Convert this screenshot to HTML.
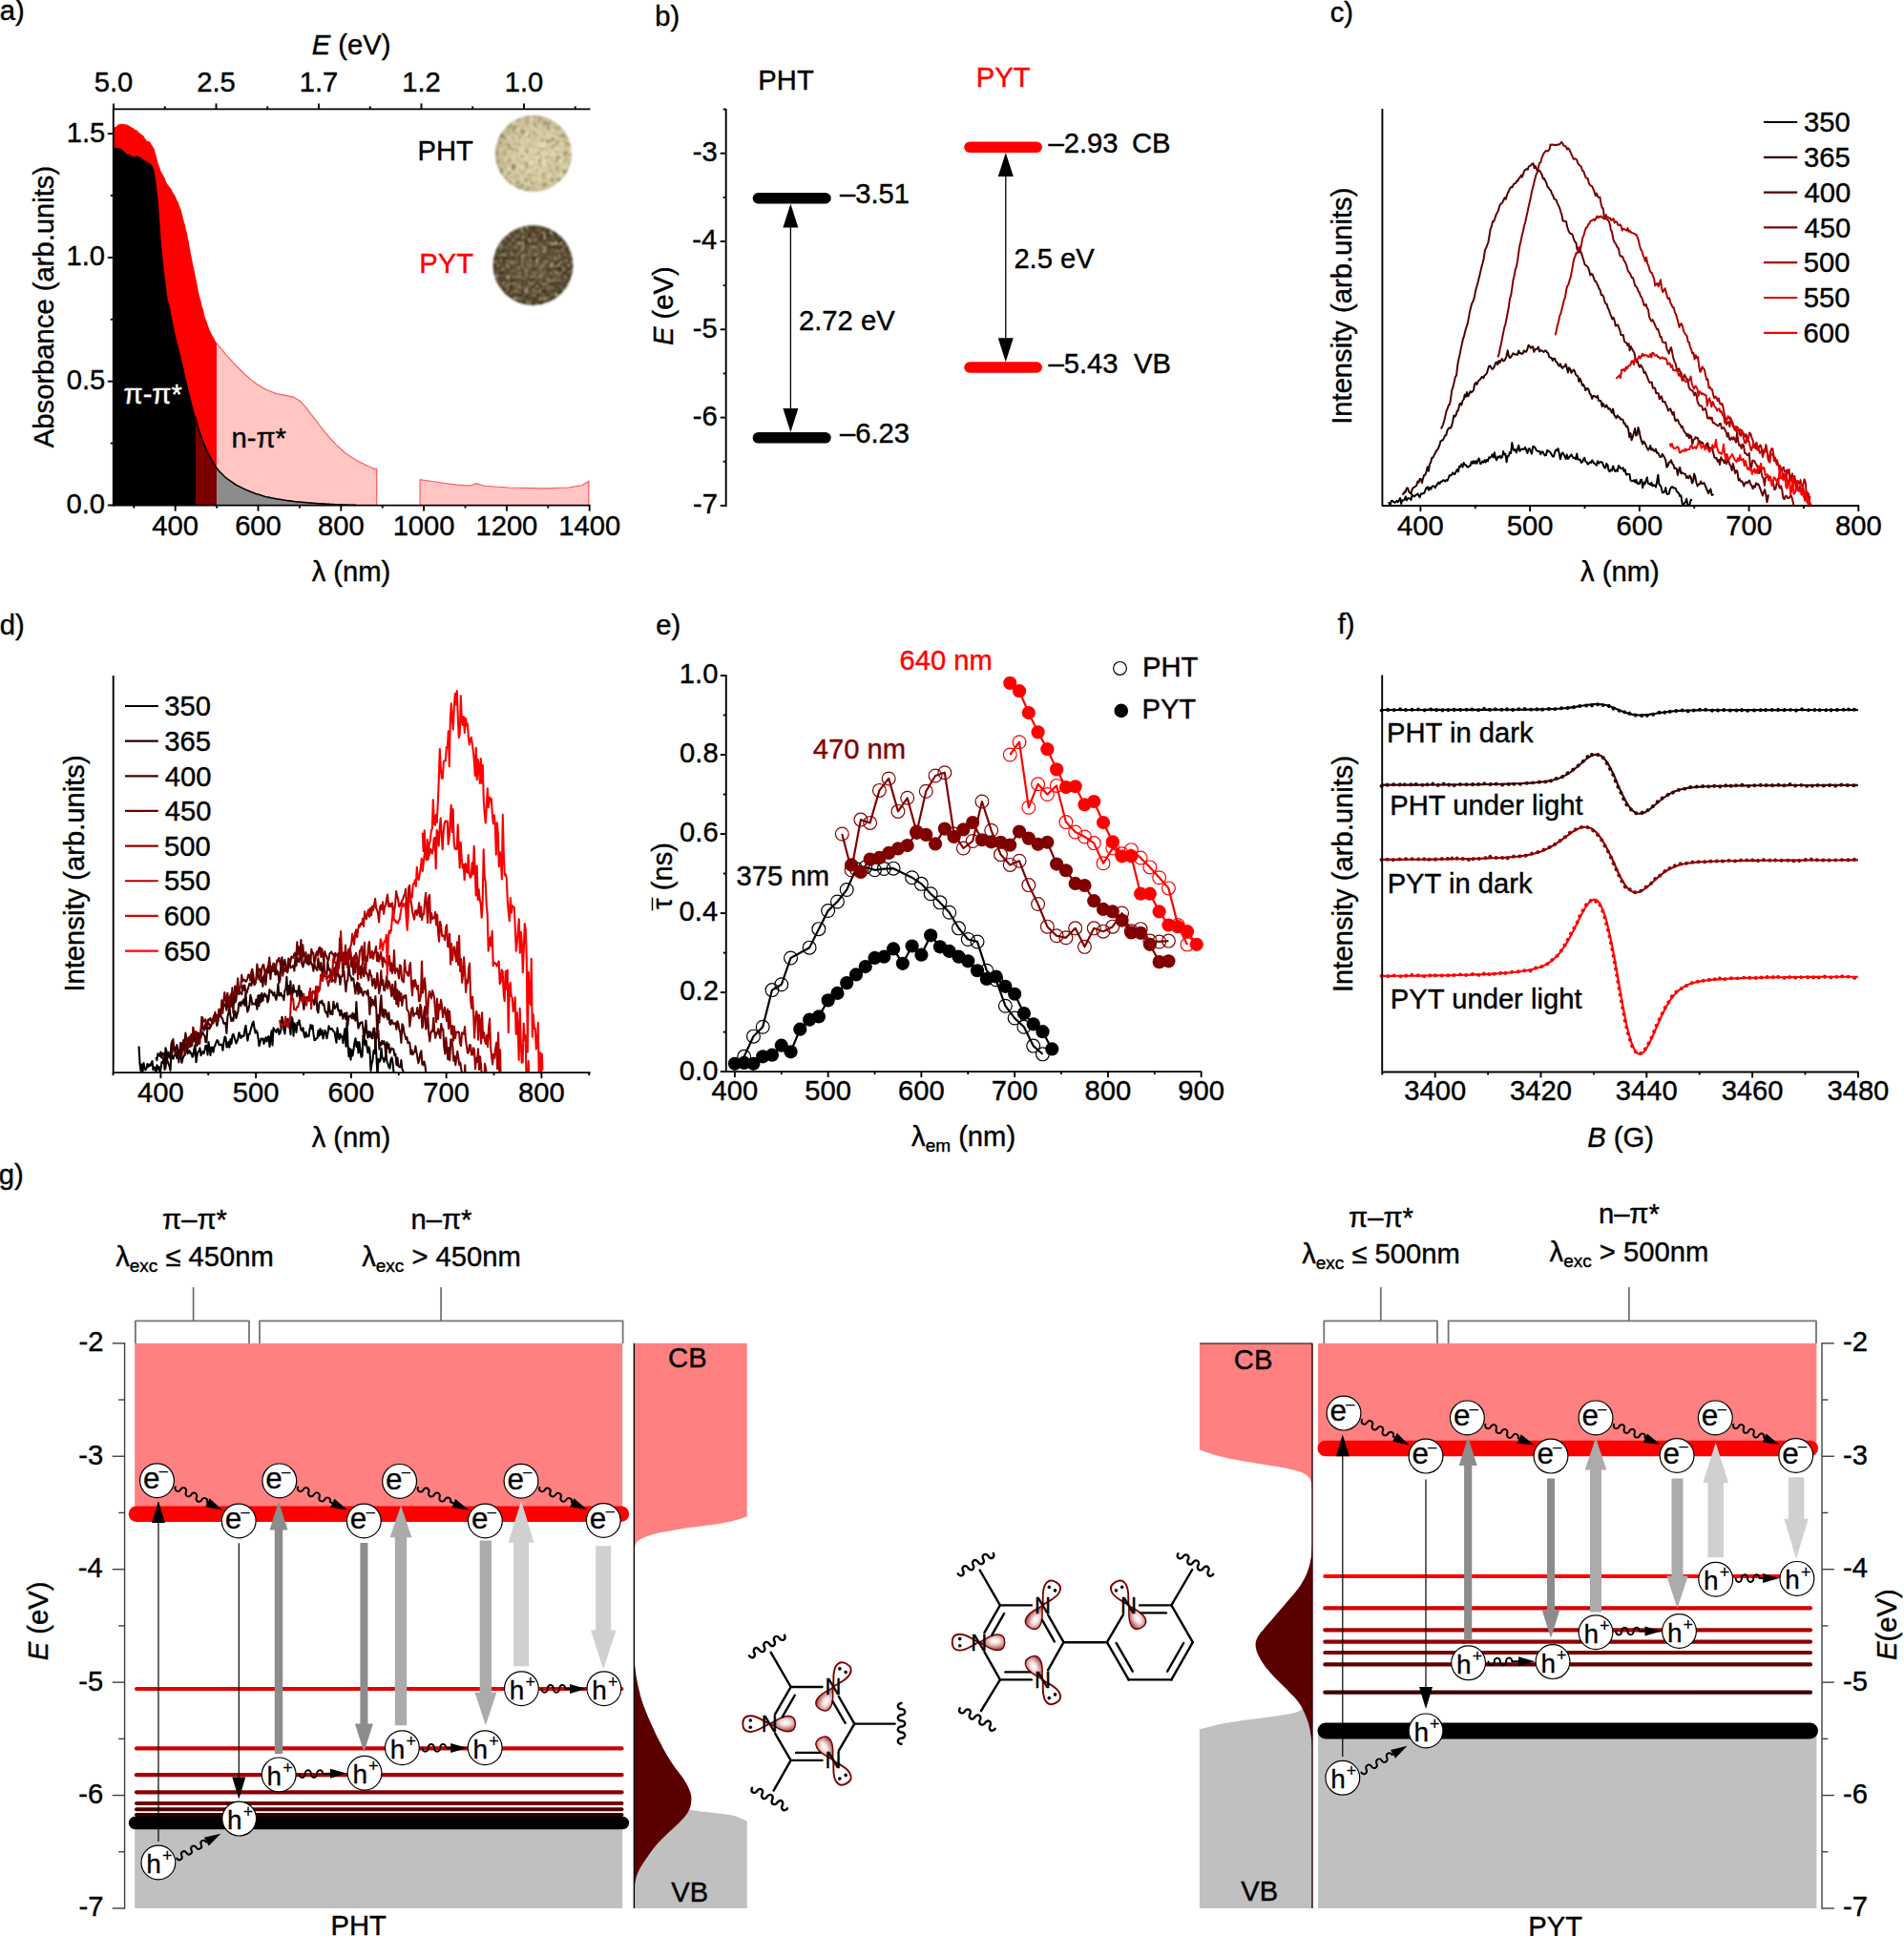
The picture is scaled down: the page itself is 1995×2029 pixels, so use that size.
<!DOCTYPE html>
<html><head><meta charset="utf-8"><title>Figure</title>
<style>html,body{margin:0;padding:0;background:#fff}svg{display:block}text{font-family:'Liberation Sans',sans-serif;stroke-width:0.4px}</style>
</head><body>
<svg width="1995" height="2029" viewBox="0 0 1995 2029">
<defs>
<radialGradient id="gpht" cx="0.55" cy="0.52" r="0.55"><stop offset="0" stop-color="#d9cea2"/><stop offset="0.7" stop-color="#cdc193"/><stop offset="0.92" stop-color="#bdb084"/><stop offset="1" stop-color="#a89c72"/></radialGradient>
<radialGradient id="gpyt" cx="0.5" cy="0.5" r="0.55"><stop offset="0" stop-color="#6a5a3c"/><stop offset="0.8" stop-color="#58482d"/><stop offset="1" stop-color="#3e3019"/></radialGradient>
<filter id="fpht" x="-10%" y="-10%" width="120%" height="120%" color-interpolation-filters="sRGB">
<feTurbulence type="fractalNoise" baseFrequency="0.22" numOctaves="3" seed="4" result="n"/>
<feColorMatrix in="n" type="matrix" values="0.55 0.32 0 0 0.10  0.55 0.32 0 0 0.10  0.55 0.32 0 0 0.10  0 0 0 0 1" result="g"/>
<feComponentTransfer in="g" result="g2"><feFuncR type="linear" slope="1" intercept="0"/></feComponentTransfer>
<feBlend in="SourceGraphic" in2="g2" mode="overlay" result="b"/>
<feComposite in="b" in2="SourceGraphic" operator="in" result="c"/>
<feGaussianBlur in="c" stdDeviation="1.0"/>
</filter>
<filter id="fpyt" x="-10%" y="-10%" width="120%" height="120%" color-interpolation-filters="sRGB">
<feTurbulence type="fractalNoise" baseFrequency="0.26" numOctaves="3" seed="11" result="n"/>
<feColorMatrix in="n" type="matrix" values="0.62 0.36 0 0 0.02  0.62 0.36 0 0 0.02  0.62 0.36 0 0 0.02  0 0 0 0 1" result="g"/>
<feComponentTransfer in="g" result="g2"><feFuncR type="linear" slope="1" intercept="0"/></feComponentTransfer>
<feBlend in="SourceGraphic" in2="g2" mode="overlay" result="b"/>
<feComposite in="b" in2="SourceGraphic" operator="in" result="c"/>
<feGaussianBlur in="c" stdDeviation="1.0"/>
</filter>

<radialGradient id="lobeg" cx="0.62" cy="0.42" r="0.62"><stop offset="0" stop-color="#ffffff"/><stop offset="0.3" stop-color="#f4e0e0"/><stop offset="0.7" stop-color="#c27878"/><stop offset="1" stop-color="#861f1f"/></radialGradient>
</defs>
<rect width="1995" height="2029" fill="#fff"/>
<g id="pa">
<path d="M118.8,529.6 L118.8,133.8 L119.8,133.5 L120.8,132.8 L121.8,132.4 L122.8,131.8 L123.8,130.7 L124.8,130 L125.8,130.5 L126.8,129.8 L127.8,129.6 L128.8,130.2 L129.8,129.7 L130.8,130.4 L131.8,130.3 L132.8,130.8 L133.8,130.7 L134.8,131.5 L135.8,132.2 L136.8,132.5 L137.8,133.4 L138.8,134 L139.8,134.1 L140.8,135.4 L141.8,135.9 L142.8,136.3 L143.8,136.8 L144.8,138.4 L145.8,138.7 L146.8,139.7 L147.8,140.6 L148.8,141.2 L149.8,142.2 L150.8,142.8 L151.8,144.9 L152.8,146.3 L153.8,147.6 L154.8,148.2 L155.8,148 L156.8,148.7 L157.8,149.4 L158.8,151.8 L159.8,153.1 L160.8,155.1 L161.8,156.6 L162.8,160.5 L163.8,164.1 L164.8,167.7 L165.8,171.4 L166.8,174.2 L167.8,177.3 L168.8,179.8 L169.8,181.7 L170.8,183.3 L171.8,185.1 L172.8,187 L173.8,189.9 L174.8,192 L175.8,193.6 L176.8,195 L177.8,196.1 L178.8,197.6 L179.8,198.7 L180.8,201.1 L181.8,202.7 L182.8,204.2 L183.8,205.8 L184.8,208.4 L185.8,210.4 L186.8,212.1 L187.8,215.5 L188.8,217.8 L189.8,220.5 L190.8,224.3 L191.8,228.5 L192.8,232.2 L193.8,235.4 L194.8,240.3 L195.8,244.1 L196.8,249.1 L197.8,253.8 L198.8,259.7 L199.8,265.1 L200.8,269.9 L201.8,275.5 L202.8,279.8 L203.8,284.5 L204.8,290.1 L205.8,294.5 L206.8,299.6 L207.8,304.9 L208.8,309.7 L209.8,313.2 L210.8,317.1 L211.8,321.9 L212.8,323.4 L213.8,328.7 L214.8,332.8 L215.8,335 L216.8,337.9 L217.8,340.8 L218.8,343.7 L219.8,346.4 L220.8,348.2 L221.8,350.1 L222.8,352.3 L223.8,353.8 L224.8,355.5 L225.8,357.7 L226.8,359.1 L227.1,359.7 L227.1,529.6Z" fill="#ff0000" stroke="none" stroke-width="1" />
<path d="M227.1,529.6 L227.1,359.9 L228.6,361.7 L230.1,363.5 L231.6,365.4 L233.1,367.2 L234.6,369 L236.1,370.9 L237.6,372.6 L239.1,374.2 L240.6,375.9 L242.1,377.5 L243.6,379.2 L245.1,380.8 L246.6,382.5 L248.1,384 L249.6,385.5 L251.1,387 L252.6,388.5 L254.1,390 L255.6,391.5 L257.1,393 L258.6,394.3 L260.1,395.5 L261.6,396.7 L263.1,397.9 L264.6,399.1 L266.1,400.3 L267.6,401.5 L269.1,402.5 L270.6,403.4 L272.1,404.3 L273.6,405.2 L275.1,406.1 L276.6,407 L278.1,407.9 L279.6,408.6 L281.1,409.2 L282.6,409.8 L284.1,410.4 L285.6,411 L287.1,411.6 L288.6,412.2 L290.1,412.6 L291.6,412.9 L293.1,413.2 L294.6,413.5 L296.1,413.8 L297.6,414.1 L299.1,414.4 L300.6,414.7 L302.1,415 L303.6,415.3 L305.1,415.6 L306.6,415.9 L308.1,416.6 L309.6,417.5 L311.1,418.3 L312.6,419.2 L314.1,420.1 L315.6,421.6 L317.1,423.3 L318.6,424.9 L320.1,426.6 L321.6,428.4 L323.1,430.4 L324.6,432.3 L326.1,434.3 L327.6,436.2 L329.1,438.2 L330.6,440.1 L332.1,442.1 L333.6,444 L335.1,446 L336.6,447.9 L338.1,449.9 L339.6,451.8 L341.1,453.8 L342.6,455.5 L344.1,457.2 L345.6,458.8 L347.1,460.5 L348.6,462.1 L350.1,463.8 L351.6,465.4 L353.1,466.9 L354.6,468.2 L356.1,469.6 L357.6,470.9 L359.1,472.3 L360.6,473.6 L362.1,475 L363.6,476.1 L365.1,477.1 L366.6,478.1 L368.1,479 L369.6,480 L371.1,481 L372.6,482 L374.1,482.8 L375.6,483.6 L377.1,484.3 L378.6,485.1 L380.1,485.8 L381.6,486.6 L383.1,487.3 L384.6,488 L386.1,488.7 L387.6,489.3 L389.1,490 L390.6,490.6 L392.1,492.1 L393.6,490.9 L394.7,491.6 L394.7,529.6Z" fill="#ffc6c4" stroke="none" stroke-width="1" />
<path d="M227.1,359.9 L228.6,361.7 L230.1,363.5 L231.6,365.4 L233.1,367.2 L234.6,369 L236.1,370.9 L237.6,372.6 L239.1,374.2 L240.6,375.9 L242.1,377.5 L243.6,379.2 L245.1,380.8 L246.6,382.5 L248.1,384 L249.6,385.5 L251.1,387 L252.6,388.5 L254.1,390 L255.6,391.5 L257.1,393 L258.6,394.3 L260.1,395.5 L261.6,396.7 L263.1,397.9 L264.6,399.1 L266.1,400.3 L267.6,401.5 L269.1,402.5 L270.6,403.4 L272.1,404.3 L273.6,405.2 L275.1,406.1 L276.6,407 L278.1,407.9 L279.6,408.6 L281.1,409.2 L282.6,409.8 L284.1,410.4 L285.6,411 L287.1,411.6 L288.6,412.2 L290.1,412.6 L291.6,412.9 L293.1,413.2 L294.6,413.5 L296.1,413.8 L297.6,414.1 L299.1,414.4 L300.6,414.7 L302.1,415 L303.6,415.3 L305.1,415.6 L306.6,415.9 L308.1,416.6 L309.6,417.5 L311.1,418.3 L312.6,419.2 L314.1,420.1 L315.6,421.6 L317.1,423.3 L318.6,424.9 L320.1,426.6 L321.6,428.4 L323.1,430.4 L324.6,432.3 L326.1,434.3 L327.6,436.2 L329.1,438.2 L330.6,440.1 L332.1,442.1 L333.6,444 L335.1,446 L336.6,447.9 L338.1,449.9 L339.6,451.8 L341.1,453.8 L342.6,455.5 L344.1,457.2 L345.6,458.8 L347.1,460.5 L348.6,462.1 L350.1,463.8 L351.6,465.4 L353.1,466.9 L354.6,468.2 L356.1,469.6 L357.6,470.9 L359.1,472.3 L360.6,473.6 L362.1,475 L363.6,476.1 L365.1,477.1 L366.6,478.1 L368.1,479 L369.6,480 L371.1,481 L372.6,482 L374.1,482.8 L375.6,483.6 L377.1,484.3 L378.6,485.1 L380.1,485.8 L381.6,486.6 L383.1,487.3 L384.6,488 L386.1,488.7 L387.6,489.3 L389.1,490 L390.6,490.6 L392.1,492.1 L393.6,490.9 L394.7,491.6 L394.7,529.6" fill="none" stroke="#ff5a5a" stroke-width="1.2" />
<path d="M440.1,529.6 L440.1,502.6 L459.6,505.5 L477.9,508.1 L492.6,509.2 L498.9,506.6 L507.4,509.2 L533.1,511 L569.9,511.8 L595.6,511 L610.3,508.5 L616.9,504.4 L616.9,529.6Z" fill="#ffc6c4" stroke="none" stroke-width="1" />
<path d="M440.1,529.6 L440.1,502.6 L459.6,505.5 L477.9,508.1 L492.6,509.2 L498.9,506.6 L507.4,509.2 L533.1,511 L569.9,511.8 L595.6,511 L610.3,508.5 L616.9,504.4 L616.9,529.6" fill="none" stroke="#ff5a5a" stroke-width="1.2" />
<path d="M118.8,529.6 L118.8,155.5 L119.8,155.1 L120.8,155.1 L121.8,154.7 L122.8,155 L123.8,155.2 L124.8,154.7 L125.8,155.2 L126.8,156 L127.8,156.4 L128.8,157.8 L129.8,158.5 L130.8,159.6 L131.8,160.2 L132.8,161.3 L133.8,161.8 L134.8,161.6 L135.8,162 L136.8,163 L137.8,163.6 L138.8,163.4 L139.8,164 L140.8,164.3 L141.8,163.9 L142.8,163.7 L143.8,163.6 L144.8,164 L145.8,164.5 L146.8,164.6 L147.8,165.2 L148.8,166.4 L149.8,166.6 L150.8,167.7 L151.8,168.4 L152.8,168.7 L153.8,169.2 L154.8,170.2 L155.8,170.4 L156.8,170.9 L157.8,171.7 L158.8,173.3 L159.8,174.4 L160.8,176.2 L161.8,180.7 L162.8,187.1 L163.8,194.4 L164.8,202.7 L165.8,211.7 L166.8,225.8 L167.8,239.4 L168.8,252.7 L169.8,263.7 L170.8,274.3 L171.8,282.7 L172.8,291.5 L173.8,299.4 L174.8,307.9 L175.8,315.1 L176.8,317.8 L177.8,321.2 L178.8,326.8 L179.8,331.9 L180.8,337.2 L181.8,342 L182.8,347.1 L183.8,351.4 L184.8,355.8 L185.8,359.4 L186.8,363.5 L187.8,367.5 L188.8,371.5 L189.8,375.5 L190.8,380.1 L191.8,383.8 L192.8,388 L193.8,393.1 L194.8,397.4 L195.8,401.8 L196.8,405.6 L197.8,410 L198.8,414 L199.8,417.5 L200.8,421.9 L201.8,426 L202.8,429.8 L203.8,433.7 L204.8,437.5 L205.4,440 L205.4,529.6Z" fill="#000" stroke="none" stroke-width="1" />
<path d="M205.4,529.6 L205.4,440.1 L206.4,444.1 L207.4,447.8 L208.4,450.8 L209.4,453.8 L210.4,456.8 L211.4,459.8 L212.4,462.1 L213.4,464.5 L214.4,466.8 L215.4,469.1 L216.4,471.5 L217.4,473.8 L218.4,475.8 L219.4,477.6 L220.4,479.4 L221.4,481.3 L222.4,483.1 L223.4,484.9 L224.4,486.6 L225.4,488.1 L226.4,489.6 L227.1,490.6 L227.1,529.6Z" fill="#7c0000" stroke="none" stroke-width="1" />
<path d="M227.1,529.6 L227.1,490.6 L229.1,493.2 L231.1,495.2 L233.1,497.2 L235.1,499.2 L237.1,501 L239.1,502.4 L241.1,503.8 L243.1,505.2 L245.1,506.6 L247.1,508 L249.1,509 L251.1,510 L253.1,511 L255.1,512 L257.1,513 L259.1,513.9 L261.1,514.7 L263.1,515.5 L265.1,516.3 L267.1,517.1 L269.1,517.7 L271.1,518.3 L273.1,518.9 L275.1,519.5 L277.1,520.1 L279.1,520.7 L281.1,521.1 L283.1,521.5 L285.1,521.9 L287.1,522.3 L289.1,522.7 L291.1,523 L293.1,523.3 L295.1,523.7 L297.1,524 L299.1,524.3 L301.1,524.6 L303.1,524.9 L305.1,525.1 L307.1,525.4 L309.1,525.7 L311.1,525.9 L313.1,526.1 L315.1,526.2 L317.1,526.4 L319.1,526.6 L321.1,526.7 L323.1,526.9 L325.1,527 L327.1,527.2 L329.1,527.4 L331.1,527.5 L333.1,527.6 L335.1,527.8 L337.1,527.9 L339.1,528 L341.1,528.1 L343.1,528.2 L345.1,528.4 L347.1,528.5 L349.1,528.6 L351.1,528.7 L353.1,528.8 L355.1,528.9 L357.1,528.9 L359.1,529 L361.1,529.1 L363.1,529.1 L365.1,529.2 L367.1,529.2 L369.1,529.3 L371.1,529.4 L373.1,529.4 L373.1,529.4 L373.1,529.6Z" fill="#8c8c8c" stroke="none" stroke-width="1" />
<path d="M204.4,436.1 L205.9,442.1 L207.4,447.8 L208.9,452.3 L210.4,456.8 L211.9,461 L213.4,464.5 L214.9,468 L216.4,471.5 L217.9,474.8 L219.4,477.6 L220.9,480.3 L222.4,483.1 L223.9,485.8 L225.4,488.1 L226.9,490.3 L228.4,492.5 L229.9,494 L231.4,495.5 L232.9,497 L234.4,498.5 L235.9,500 L237.4,501.2 L238.9,502.3 L240.4,503.3 L241.9,504.4 L243.4,505.4 L244.9,506.5 L246.4,507.5 L247.9,508.4 L249.4,509.2 L250.9,509.9 L252.4,510.7 L253.9,511.4 L255.4,512.2 L256.9,512.9 L258.4,513.6 L259.9,514.2 L261.4,514.8 L262.9,515.4 L264.4,516 L265.9,516.6 L267.4,517.2 L268.9,517.7 L270.4,518.1 L271.9,518.6 L273.4,519 L274.9,519.5 L276.4,519.9 L277.9,520.4 L279.4,520.8 L280.9,521.1 L282.4,521.4 L283.9,521.7 L285.4,522 L286.9,522.3 L288.4,522.6 L289.9,522.8 L291.4,523.1 L292.9,523.3 L294.4,523.5 L295.9,523.8 L297.4,524 L298.9,524.3 L300.4,524.5 L301.9,524.7 L303.4,524.9 L304.9,525.1 L306.4,525.3 L307.9,525.5 L309.4,525.7 L310.9,525.9 L312.4,526 L313.9,526.1 L315.4,526.3 L316.9,526.4 L318.4,526.5 L319.9,526.6 L321.4,526.7 L322.9,526.9 L324.4,527 L325.9,527.1 L327.4,527.2 L328.9,527.3 L330.4,527.5 L331.9,527.6 L333.4,527.7 L334.9,527.7 L336.4,527.8 L337.9,527.9 L339.4,528 L340.9,528.1 L342.4,528.2 L343.9,528.3 L345.4,528.4 L346.9,528.5 L348.4,528.6 L349.9,528.6 L351.4,528.7 L352.9,528.8 L354.4,528.9 L355.9,528.9 L357.4,528.9 L358.9,529 L360.4,529 L361.9,529.1 L363.4,529.1 L364.9,529.2 L366.4,529.2 L367.9,529.3 L369.4,529.3 L370.9,529.3 L372.4,529.4 L373.1,529.4" fill="none" stroke="#000" stroke-width="1.6" />
<line x1="118.8" y1="113.6" x2="118.8" y2="530.4" stroke="#000" stroke-width="1.9" />
<line x1="118.8" y1="529.6" x2="618.5" y2="529.6" stroke="#000" stroke-width="1.9" />
<line x1="118.8" y1="114.4" x2="618.5" y2="114.4" stroke="#000" stroke-width="1.9" />
<line x1="183.7" y1="529.6" x2="183.7" y2="535.6" stroke="#000" stroke-width="1.9" />
<text x="183.7" y="560.5" font-size="29.2" text-anchor="middle" fill="#000" stroke="#000" >400</text>
<line x1="270.5" y1="529.6" x2="270.5" y2="535.6" stroke="#000" stroke-width="1.9" />
<text x="270.5" y="560.5" font-size="29.2" text-anchor="middle" fill="#000" stroke="#000" >600</text>
<line x1="357.3" y1="529.6" x2="357.3" y2="535.6" stroke="#000" stroke-width="1.9" />
<text x="357.3" y="560.5" font-size="29.2" text-anchor="middle" fill="#000" stroke="#000" >800</text>
<line x1="444.1" y1="529.6" x2="444.1" y2="535.6" stroke="#000" stroke-width="1.9" />
<text x="444.1" y="560.5" font-size="29.2" text-anchor="middle" fill="#000" stroke="#000" >1000</text>
<line x1="530.9" y1="529.6" x2="530.9" y2="535.6" stroke="#000" stroke-width="1.9" />
<text x="530.9" y="560.5" font-size="29.2" text-anchor="middle" fill="#000" stroke="#000" >1200</text>
<line x1="617.7" y1="529.6" x2="617.7" y2="535.6" stroke="#000" stroke-width="1.9" />
<text x="617.7" y="560.5" font-size="29.2" text-anchor="middle" fill="#000" stroke="#000" >1400</text>
<line x1="140.3" y1="529.6" x2="140.3" y2="532.6" stroke="#000" stroke-width="1.9" />
<line x1="227.1" y1="529.6" x2="227.1" y2="532.6" stroke="#000" stroke-width="1.9" />
<line x1="313.9" y1="529.6" x2="313.9" y2="532.6" stroke="#000" stroke-width="1.9" />
<line x1="400.7" y1="529.6" x2="400.7" y2="532.6" stroke="#000" stroke-width="1.9" />
<line x1="487.5" y1="529.6" x2="487.5" y2="532.6" stroke="#000" stroke-width="1.9" />
<line x1="574.3" y1="529.6" x2="574.3" y2="532.6" stroke="#000" stroke-width="1.9" />
<line x1="119" y1="114.4" x2="119" y2="108.4" stroke="#000" stroke-width="1.9" />
<text x="119" y="95.6" font-size="29.2" text-anchor="middle" fill="#000" stroke="#000" >5.0</text>
<line x1="172.75" y1="114.4" x2="172.75" y2="111.4" stroke="#000" stroke-width="1.9" />
<line x1="226.5" y1="114.4" x2="226.5" y2="108.4" stroke="#000" stroke-width="1.9" />
<text x="226.5" y="95.6" font-size="29.2" text-anchor="middle" fill="#000" stroke="#000" >2.5</text>
<line x1="280.25" y1="114.4" x2="280.25" y2="111.4" stroke="#000" stroke-width="1.9" />
<line x1="334" y1="114.4" x2="334" y2="108.4" stroke="#000" stroke-width="1.9" />
<text x="334" y="95.6" font-size="29.2" text-anchor="middle" fill="#000" stroke="#000" >1.7</text>
<line x1="387.75" y1="114.4" x2="387.75" y2="111.4" stroke="#000" stroke-width="1.9" />
<line x1="441.5" y1="114.4" x2="441.5" y2="108.4" stroke="#000" stroke-width="1.9" />
<text x="441.5" y="95.6" font-size="29.2" text-anchor="middle" fill="#000" stroke="#000" >1.2</text>
<line x1="495.25" y1="114.4" x2="495.25" y2="111.4" stroke="#000" stroke-width="1.9" />
<line x1="549" y1="114.4" x2="549" y2="108.4" stroke="#000" stroke-width="1.9" />
<text x="549" y="95.6" font-size="29.2" text-anchor="middle" fill="#000" stroke="#000" >1.0</text>
<line x1="602.75" y1="114.4" x2="602.75" y2="111.4" stroke="#000" stroke-width="1.9" />
<line x1="118.8" y1="529.5" x2="112.8" y2="529.5" stroke="#000" stroke-width="1.9" />
<text x="110.11" y="537.9" font-size="29.2" text-anchor="end" fill="#000" stroke="#000" >0.0</text>
<line x1="118.8" y1="399.7" x2="112.8" y2="399.7" stroke="#000" stroke-width="1.9" />
<text x="110.36" y="408.1" font-size="29.2" text-anchor="end" fill="#000" stroke="#000" >0.5</text>
<line x1="118.8" y1="269.9" x2="112.8" y2="269.9" stroke="#000" stroke-width="1.9" />
<text x="110.11" y="278.3" font-size="29.2" text-anchor="end" fill="#000" stroke="#000" >1.0</text>
<line x1="118.8" y1="140.1" x2="112.8" y2="140.1" stroke="#000" stroke-width="1.9" />
<text x="110.36" y="148.5" font-size="29.2" text-anchor="end" fill="#000" stroke="#000" >1.5</text>
<line x1="118.8" y1="464.6" x2="115.8" y2="464.6" stroke="#000" stroke-width="1.9" />
<line x1="118.8" y1="334.8" x2="115.8" y2="334.8" stroke="#000" stroke-width="1.9" />
<line x1="118.8" y1="205" x2="115.8" y2="205" stroke="#000" stroke-width="1.9" />
<text x="368" y="57" font-size="29.2" text-anchor="middle" fill="#000" stroke="#000" ><tspan font-style="italic">E</tspan> (eV)</text>
<text x="368" y="609" font-size="29.2" text-anchor="middle" fill="#000" stroke="#000" >λ (nm)</text>
<text x="55.5" y="321.5" font-size="29.2" text-anchor="middle" fill="#000" stroke="#000" transform="rotate(-90 55.5 321.5)" >Absorbance (arb.units)</text>
<text x="129.5" y="422.8" font-size="29.2" text-anchor="start" fill="#fff" stroke="#fff" >π-π*</text>
<text x="242.5" y="468.8" font-size="29.2" text-anchor="start" fill="#000" stroke="#000" >n-π*</text>
<text x="437.45" y="168" font-size="29.2" text-anchor="start" fill="#000" stroke="#000" >PHT</text>
<text x="439.35" y="286.3" font-size="29.2" text-anchor="start" fill="#ff0000" stroke="#ff0000" >PYT</text>
<circle cx="559" cy="161" r="40" fill="url(#gpht)" filter="url(#fpht)"/>
<circle cx="558.5" cy="278" r="42" fill="url(#gpyt)" filter="url(#fpyt)"/>
<text x="-0.25" y="20.6" font-size="29.2" text-anchor="start" fill="#000" stroke="#000" >a)</text>
</g>
<g id="pb">
<line x1="760.7" y1="114" x2="760.7" y2="530.9" stroke="#000" stroke-width="1.9" />
<line x1="760.7" y1="160.7" x2="754.7" y2="160.7" stroke="#000" stroke-width="1.9" />
<text x="751.76" y="169.1" font-size="29.2" text-anchor="end" fill="#000" stroke="#000" >-3</text>
<line x1="760.7" y1="253" x2="754.7" y2="253" stroke="#000" stroke-width="1.9" />
<text x="751.26" y="261.4" font-size="29.2" text-anchor="end" fill="#000" stroke="#000" >-4</text>
<line x1="760.7" y1="345.3" x2="754.7" y2="345.3" stroke="#000" stroke-width="1.9" />
<text x="751.76" y="353.7" font-size="29.2" text-anchor="end" fill="#000" stroke="#000" >-5</text>
<line x1="760.7" y1="437.6" x2="754.7" y2="437.6" stroke="#000" stroke-width="1.9" />
<text x="751.76" y="446" font-size="29.2" text-anchor="end" fill="#000" stroke="#000" >-6</text>
<line x1="760.7" y1="529.9" x2="754.7" y2="529.9" stroke="#000" stroke-width="1.9" />
<text x="752.01" y="538.3" font-size="29.2" text-anchor="end" fill="#000" stroke="#000" >-7</text>
<line x1="760.7" y1="114.55" x2="757.7" y2="114.55" stroke="#000" stroke-width="1.9" />
<line x1="760.7" y1="206.85" x2="757.7" y2="206.85" stroke="#000" stroke-width="1.9" />
<line x1="760.7" y1="299.15" x2="757.7" y2="299.15" stroke="#000" stroke-width="1.9" />
<line x1="760.7" y1="391.45" x2="757.7" y2="391.45" stroke="#000" stroke-width="1.9" />
<line x1="760.7" y1="483.75" x2="757.7" y2="483.75" stroke="#000" stroke-width="1.9" />
<text x="705" y="320.7" font-size="29.2" text-anchor="middle" fill="#000" stroke="#000" transform="rotate(-90 705 320.7)" ><tspan font-style="italic">E</tspan> (eV)</text>
<line x1="794.4" y1="207.77" x2="865" y2="207.77" stroke="#000" stroke-width="11.5" stroke-linecap="round"/>
<line x1="794.4" y1="458.83" x2="865" y2="458.83" stroke="#000" stroke-width="11.5" stroke-linecap="round"/>
<line x1="1016" y1="154.24" x2="1086.2" y2="154.24" stroke="#f00" stroke-width="11.5" stroke-linecap="round"/>
<line x1="1016" y1="384.99" x2="1086.2" y2="384.99" stroke="#f00" stroke-width="11.5" stroke-linecap="round"/>
<line x1="828.4" y1="223.47" x2="828.4" y2="443.13" stroke="#000" stroke-width="1.3" />
<path d="M828.4,213.5 L820.4,238.5 L836.4,238.5Z" fill="#000" stroke="none" stroke-width="1" />
<path d="M828.4,453.1 L820.4,428.1 L836.4,428.1Z" fill="#000" stroke="none" stroke-width="1" />
<line x1="1053.8" y1="169.94" x2="1053.8" y2="369.29" stroke="#000" stroke-width="1.3" />
<path d="M1053.8,159.9 L1045.8,184.9 L1061.8,184.9Z" fill="#000" stroke="none" stroke-width="1" />
<path d="M1053.8,379.3 L1045.8,354.3 L1061.8,354.3Z" fill="#000" stroke="none" stroke-width="1" />
<text x="794.35" y="93.9" font-size="29.2" text-anchor="start" fill="#000" stroke="#000" >PHT</text>
<text x="1022.75" y="91.4" font-size="29.2" text-anchor="start" fill="#f00" stroke="#f00" >PYT</text>
<text x="880" y="212.7" font-size="29.2" text-anchor="start" fill="#000" stroke="#000" >–3.51</text>
<text x="880" y="463.9" font-size="29.2" text-anchor="start" fill="#000" stroke="#000" >–6.23</text>
<text x="1098.5" y="160.1" font-size="29.2" text-anchor="start" fill="#000" stroke="#000" >–2.93</text>
<text x="1185.9" y="160.1" font-size="29.2" text-anchor="start" fill="#000" stroke="#000" >CB</text>
<text x="1098.5" y="390.8" font-size="29.2" text-anchor="start" fill="#000" stroke="#000" >–5.43</text>
<text x="1188" y="390.8" font-size="29.2" text-anchor="start" fill="#000" stroke="#000" >VB</text>
<text x="837" y="345.7" font-size="29.2" text-anchor="start" fill="#000" stroke="#000" >2.72 eV</text>
<text x="1062.4" y="280.5" font-size="29.2" text-anchor="start" fill="#000" stroke="#000" >2.5 eV</text>
<text x="686.25" y="27" font-size="29.2" text-anchor="start" fill="#000" stroke="#000" >b)</text>
</g>
<g id="pc">
<clipPath id="clipc"><rect x="1448.4" y="114" width="498.9" height="416"/></clipPath>
<g clip-path="url(#clipc)" fill="none" stroke-linejoin="round">
<path d="M1454.4,527.2 L1455.5,527.1 L1456.7,529 L1457.8,525 L1459,524.8 L1460.1,525.9 L1461.3,526.8 L1462.4,526.3 L1463.6,524.8 L1464.7,526.1 L1465.9,524.3 L1467,522 L1468.2,528.1 L1469.3,524.1 L1470.5,524.6 L1471.6,523.6 L1472.8,520.4 L1473.9,524.6 L1475.1,522.3 L1476.2,522.2 L1477.4,522.4 L1478.5,523.9 L1479.7,518.5 L1480.8,519.7 L1482,520.5 L1483.1,519.1 L1484.3,518.4 L1485.4,517.4 L1486.6,519.6 L1487.7,521.2 L1488.9,517.4 L1490,517.6 L1491.2,517 L1492.3,516.8 L1493.5,513.5 L1494.6,511.3 L1495.8,510.3 L1496.9,513.6 L1498.1,511 L1499.2,512.8 L1500.4,510 L1501.5,509.3 L1502.7,509.6 L1503.8,511.3 L1505,508.8 L1506.1,507.5 L1507.3,505.5 L1508.4,507 L1509.6,504.8 L1510.7,504.8 L1511.9,503.3 L1513,503.5 L1514.2,504.6 L1515.3,503 L1516.5,503.8 L1517.6,501.4 L1518.8,498.1 L1519.9,498.4 L1521.1,497.4 L1522.2,495.4 L1523.4,496.7 L1524.5,497 L1525.7,494 L1526.8,492 L1528,494.4 L1529.1,488.7 L1530.3,489 L1531.4,486.5 L1532.6,489.6 L1533.7,485 L1534.9,487.2 L1536,487.2 L1537.2,489.2 L1538.3,489.7 L1539.5,488.3 L1540.6,488 L1541.8,483.8 L1542.9,485.8 L1544.1,483.1 L1545.2,485.6 L1546.4,483.2 L1547.5,485.8 L1548.7,481.6 L1549.8,480.4 L1551,486 L1552.1,485.7 L1553.3,483.5 L1554.4,484.6 L1555.6,482.1 L1556.7,484.5 L1557.9,482 L1559,483.2 L1560.2,479.3 L1561.3,479.9 L1562.5,478.6 L1563.6,476.3 L1564.8,479.4 L1565.9,474.2 L1567.1,480.3 L1568.2,482.2 L1569.4,478.6 L1570.5,479.4 L1571.7,477.8 L1572.8,480 L1574,479.1 L1575.1,473.1 L1576.3,476.4 L1577.4,475.8 L1578.6,484.3 L1579.7,478 L1580.9,477.7 L1582,473.9 L1583.2,474.9 L1584.3,464.1 L1585.5,470.5 L1586.6,472.2 L1587.8,471.1 L1588.9,474.3 L1590.1,470.5 L1591.2,466.8 L1592.4,472.7 L1593.5,471.5 L1594.7,470.4 L1595.8,470.7 L1597,470.7 L1598.1,468.8 L1599.3,472.2 L1600.4,474.9 L1601.6,470.5 L1602.7,470.1 L1603.9,473.4 L1605,475.6 L1606.2,467.9 L1607.3,467.8 L1608.5,469.3 L1609.6,471.5 L1610.8,472.8 L1611.9,472.9 L1613.1,472.7 L1614.2,476.1 L1615.4,473.6 L1616.5,473.5 L1617.7,475.8 L1618.8,477.4 L1620,477 L1621.1,472 L1622.3,472.5 L1623.4,473.5 L1624.6,474.2 L1625.7,476.3 L1626.9,478.4 L1628,478.6 L1629.2,474 L1630.3,471.5 L1631.5,472.1 L1632.6,470.1 L1633.8,475.4 L1634.9,481.3 L1636.1,476.2 L1637.2,474.3 L1638.4,476 L1639.5,478.2 L1640.7,480.9 L1641.8,476.4 L1643,480.9 L1644.1,479.2 L1645.3,478.1 L1646.4,476.3 L1647.6,478.5 L1648.7,480.1 L1649.9,479.7 L1651,481.3 L1652.2,475.4 L1653.3,481.6 L1654.5,481.8 L1655.6,481.5 L1656.8,484.8 L1657.9,484.4 L1659.1,481.5 L1660.2,479.7 L1661.4,483.8 L1662.5,484.1 L1663.7,486.7 L1664.8,485.5 L1666,484.1 L1667.1,485 L1668.3,482.3 L1669.4,484.5 L1670.6,485.8 L1671.7,486.6 L1672.9,487.7 L1674,483.2 L1675.2,485.6 L1676.3,484.3 L1677.5,484.3 L1678.6,484.3 L1679.8,487.2 L1680.9,489.9 L1682.1,490.5 L1683.2,486 L1684.4,487 L1685.5,493 L1686.7,494.2 L1687.8,492.3 L1689,493.1 L1690.1,488.4 L1691.3,491.9 L1692.4,494 L1693.6,492.5 L1694.7,494 L1695.9,488.1 L1697,489.3 L1698.2,490.8 L1699.3,491.3 L1700.5,490.1 L1701.6,494.1 L1702.8,492.2 L1703.9,497.5 L1705.1,497.1 L1706.2,497 L1707.4,497.1 L1708.5,503.4 L1709.7,504.3 L1710.8,504.1 L1712,503.2 L1713.1,505.4 L1714.3,502.7 L1715.4,506.8 L1716.6,506.2 L1717.7,507.2 L1718.9,503.2 L1720,502.6 L1721.2,511.2 L1722.3,505.7 L1723.5,507.4 L1724.6,503.6 L1725.8,500.4 L1726.9,506.8 L1728.1,507 L1729.2,508 L1730.4,505.7 L1731.5,509.6 L1732.7,508.3 L1733.8,508.6 L1735,510.6 L1736.1,505 L1737.3,497.7 L1738.4,507.3 L1739.6,508.8 L1740.7,511 L1741.9,516.4 L1743,516.1 L1744.2,515.4 L1745.3,511.1 L1746.5,517.6 L1747.6,518 L1748.8,517.3 L1749.9,512.8 L1751.1,510.9 L1752.2,510.1 L1753.4,511.4 L1754.5,511.3 L1755.7,511.8 L1756.8,515 L1758,515.9 L1759.1,517.2 L1760.3,520 L1761.4,519.3 L1762.6,527.4 L1763.7,529.7 L1764.9,527.6 L1766,526.2 L1767.2,522.8 L1768.3,529 L1769.5,531 L1770.6,527.8 L1771.8,523.6 L1772.4,525.1" fill="none" stroke="#000000" stroke-width="2" />
<path d="M1469.3,517.2 L1470.4,518 L1471.6,515.3 L1472.7,515.7 L1473.9,511.4 L1475,511.4 L1476.2,515.1 L1477.3,516.8 L1478.5,517.4 L1479.6,512.8 L1480.8,511.2 L1481.9,510.3 L1483.1,509.8 L1484.2,509 L1485.4,504.4 L1486.5,505.7 L1487.7,502.1 L1488.8,502.1 L1490,506 L1491.1,501.1 L1492.3,497.7 L1493.4,497.7 L1494.6,494 L1495.7,489.3 L1496.9,493.7 L1498,486.5 L1499.2,484.5 L1500.3,479.8 L1501.5,479.6 L1502.6,477.1 L1503.8,475.1 L1504.9,472.5 L1506.1,471.4 L1507.2,469.5 L1508.4,466.1 L1509.5,462.4 L1510.7,461.6 L1511.8,461.4 L1513,458.9 L1514.1,456.5 L1515.3,456 L1516.4,451.3 L1517.6,449.2 L1518.7,448.2 L1519.9,448.8 L1521,446.5 L1522.2,441.8 L1523.3,435.5 L1524.5,436.6 L1525.6,434.9 L1526.8,430.6 L1527.9,430.1 L1529.1,424.6 L1530.2,422.6 L1531.4,424.5 L1532.5,420 L1533.7,418.5 L1534.8,413.5 L1536,415.9 L1537.1,411 L1538.3,415.4 L1539.4,413 L1540.6,410.1 L1541.7,411.3 L1542.9,410.3 L1544,408.9 L1545.2,402.4 L1546.3,401.1 L1547.5,402.9 L1548.6,400.2 L1549.8,398.5 L1550.9,397.8 L1552.1,395.8 L1553.2,394.8 L1554.4,396.3 L1555.5,393.5 L1556.7,392.7 L1557.8,391.4 L1559,387.2 L1560.1,383.8 L1561.3,383.3 L1562.4,385.4 L1563.6,387 L1564.7,386 L1565.9,384 L1567,380.3 L1568.2,379.5 L1569.3,382.1 L1570.5,377.9 L1571.6,379.9 L1572.8,377.5 L1573.9,376.1 L1575.1,378.4 L1576.2,377.9 L1577.4,375.9 L1578.5,373.4 L1579.7,367.3 L1580.8,372.6 L1582,375.2 L1583.1,374.1 L1584.3,372.4 L1585.4,370.3 L1586.6,371.2 L1587.7,371.6 L1588.9,371.5 L1590,371.9 L1591.2,367.4 L1592.3,370.2 L1593.5,370.1 L1594.6,370.9 L1595.8,370.3 L1596.9,367.4 L1598.1,368.5 L1599.2,368.7 L1600.4,366 L1601.5,361.7 L1602.7,362.8 L1603.8,364.8 L1605,363.6 L1606.1,363.2 L1607.3,368.8 L1608.4,366.1 L1609.6,366.2 L1610.7,365.6 L1611.9,363.5 L1613,368.4 L1614.2,367.1 L1615.3,367.5 L1616.5,368.2 L1617.6,369 L1618.8,367.5 L1619.9,367.4 L1621.1,369.4 L1622.2,370.2 L1623.4,374.4 L1624.5,374.7 L1625.7,375.2 L1626.8,378 L1628,375.7 L1629.1,375.8 L1630.3,379.1 L1631.4,379.7 L1632.6,382.3 L1633.7,383.7 L1634.9,381.3 L1636,384.3 L1637.2,386 L1638.3,384.2 L1639.5,384.1 L1640.6,381.6 L1641.8,385.6 L1642.9,390.5 L1644.1,385.3 L1645.2,386.6 L1646.4,390.8 L1647.5,389.1 L1648.7,387.5 L1649.8,388.6 L1651,392.4 L1652.1,393.8 L1653.3,394.1 L1654.4,400 L1655.6,396.8 L1656.7,399.6 L1657.9,404.1 L1659,402.7 L1660.2,405.3 L1661.3,409.1 L1662.5,407.2 L1663.6,407 L1664.8,408.9 L1665.9,412.8 L1667.1,414 L1668.2,417.9 L1669.4,414.8 L1670.5,414.9 L1671.7,415.8 L1672.8,416.7 L1674,414.9 L1675.1,420.1 L1676.3,420 L1677.4,420.1 L1678.6,426.1 L1679.7,422.9 L1680.9,425.3 L1682,426.8 L1683.2,424.5 L1684.3,426.5 L1685.5,428.7 L1686.6,428 L1687.8,430.1 L1688.9,432.6 L1690.1,428.6 L1691.2,434.4 L1692.4,436.7 L1693.5,438.2 L1694.7,435.4 L1695.8,437 L1697,437.5 L1698.1,439.5 L1699.3,439.4 L1700.4,439.8 L1701.6,443.9 L1702.7,443.7 L1703.9,447.3 L1705,446.6 L1706.2,449.9 L1707.3,458.2 L1708.5,454.1 L1709.6,461.3 L1710.8,457.7 L1711.9,453.8 L1713.1,449 L1714.2,456.5 L1715.4,455.7 L1716.5,447.9 L1717.7,452.3 L1718.8,458.4 L1720,462.2 L1721.1,465.4 L1722.3,462.6 L1723.4,464.1 L1724.6,466.9 L1725.7,469.4 L1726.9,471.6 L1728,470.4 L1729.2,467 L1730.3,471.5 L1731.5,470.2 L1732.6,472.4 L1733.8,472.9 L1734.9,470.5 L1736.1,474.7 L1737.2,474.4 L1738.4,477 L1739.5,478.9 L1740.7,478.8 L1741.8,475.9 L1743,477.8 L1744.1,479.7 L1745.3,482.3 L1746.4,489.7 L1747.6,488.1 L1748.7,484.5 L1749.9,484.6 L1751,482.3 L1752.2,485.9 L1753.3,486.8 L1754.5,491 L1755.6,490.6 L1756.8,491.4 L1757.9,497.8 L1759.1,492.3 L1760.2,489.8 L1761.4,496.3 L1762.5,495.3 L1763.7,496.2 L1764.8,496.5 L1766,497.1 L1767.1,501 L1768.3,499.3 L1769.4,501.2 L1770.6,498.4 L1771.7,500.2 L1772.9,506.4 L1774,504.8 L1775.2,496.5 L1776.3,499.9 L1777.5,506 L1778.6,509.5 L1779.8,507.6 L1780.9,507.4 L1782.1,504.5 L1783.2,507 L1784.4,506.8 L1785.5,506 L1786.7,509 L1787.8,511.5 L1789,514.4 L1790.1,517 L1791.3,514.1 L1792.4,512.5 L1793.6,518.9 L1794.7,518.6 L1795.5,518" fill="none" stroke="#2b0000" stroke-width="2" />
<path d="M1509.9,449.5 L1511.1,447 L1512.2,444.6 L1513.4,440.2 L1514.5,435.4 L1515.7,430.2 L1516.8,427.9 L1518,424.4 L1519.1,423.6 L1520.3,416.2 L1521.4,408.6 L1522.6,405.2 L1523.7,400.4 L1524.9,394.9 L1526,393.6 L1527.2,383.1 L1528.3,377 L1529.5,371.9 L1530.6,366.1 L1531.8,360.8 L1532.9,355.3 L1534.1,352.2 L1535.2,347.2 L1536.4,343 L1537.5,340.1 L1538.7,334.1 L1539.8,327.9 L1541,322.5 L1542.1,318.4 L1543.3,316 L1544.4,313.3 L1545.6,307.5 L1546.7,302.3 L1547.9,298.5 L1549,294.1 L1550.2,289.2 L1551.3,284.6 L1552.5,279.3 L1553.6,275.5 L1554.8,270.5 L1555.9,262.2 L1557.1,259.9 L1558.2,257 L1559.4,254 L1560.5,247.5 L1561.7,239.9 L1562.8,237.6 L1564,232 L1565.1,232.2 L1566.3,229.1 L1567.4,225.6 L1568.6,223 L1569.7,221.5 L1570.9,217 L1572,213.8 L1573.2,213.3 L1574.3,212.2 L1575.5,209.5 L1576.6,207.2 L1577.8,208.7 L1578.9,204.8 L1580.1,201.7 L1581.2,199.7 L1582.4,197 L1583.5,196.1 L1584.7,196.2 L1585.8,193.3 L1587,192.4 L1588.1,192 L1589.3,189.6 L1590.4,189.7 L1591.6,186.7 L1592.7,186.1 L1593.9,183.6 L1595,185.4 L1596.2,181.8 L1597.3,178.7 L1598.5,177.9 L1599.6,177.1 L1600.8,177.7 L1601.9,174.3 L1603.1,173.8 L1604.2,173.2 L1605.4,171.7 L1606.5,171.3 L1607.7,176.3 L1608.8,174 L1610,177.1 L1611.1,179.9 L1612.3,178.6 L1613.4,179 L1614.6,181.3 L1615.7,183.1 L1616.9,187.5 L1618,186.9 L1619.2,189.5 L1620.3,191.4 L1621.5,195.9 L1622.6,196.6 L1623.8,198.8 L1624.9,199.7 L1626.1,203.1 L1627.2,204.6 L1628.4,208.4 L1629.5,208.7 L1630.7,209.7 L1631.8,213.1 L1633,215.4 L1634.1,217.8 L1635.3,221.7 L1636.4,225 L1637.6,231.5 L1638.7,231.7 L1639.9,231.8 L1641,232.1 L1642.2,238 L1643.3,241.2 L1644.5,243.8 L1645.6,244.9 L1646.8,245 L1647.9,246.7 L1649.1,250.9 L1650.2,253.3 L1651.4,254.4 L1652.5,261.3 L1653.7,260.7 L1654.8,264.4 L1656,263.1 L1657.1,265.9 L1658.3,269.5 L1659.4,273.1 L1660.6,277.4 L1661.7,278.1 L1662.9,279 L1664,280.4 L1665.2,283.7 L1666.3,288.5 L1667.5,286.9 L1668.6,287.7 L1669.8,290.9 L1670.9,294.5 L1672.1,294.8 L1673.2,297.2 L1674.4,299.4 L1675.5,302.6 L1676.7,304.2 L1677.8,309.2 L1679,308.9 L1680.1,310.7 L1681.3,315.2 L1682.4,318.5 L1683.6,318.4 L1684.7,322.7 L1685.9,324.8 L1687,328.6 L1688.2,331.1 L1689.3,334.5 L1690.5,332.7 L1691.6,335.6 L1692.8,341.5 L1693.9,341 L1695.1,340.3 L1696.2,343.3 L1697.4,346.5 L1698.5,351.2 L1699.7,350.9 L1700.8,351.2 L1702,357.8 L1703.1,358.9 L1704.3,359.3 L1705.4,362.1 L1706.6,360.2 L1707.7,367.3 L1708.9,363.1 L1710,365.6 L1711.2,367.8 L1712.3,369.5 L1713.5,375 L1714.6,379.5 L1715.8,378.4 L1716.9,382.7 L1718.1,384.8 L1719.2,382.4 L1720.4,384.5 L1721.5,386.6 L1722.7,390.9 L1723.8,389.7 L1725,392.6 L1726.1,395.4 L1727.3,398.7 L1728.4,400.9 L1729.6,400.7 L1730.7,400.4 L1731.9,406.7 L1733,406.4 L1734.2,407 L1735.3,412.2 L1736.5,411.9 L1737.6,412.3 L1738.8,418.3 L1739.9,415.7 L1741.1,415.5 L1742.2,421 L1743.4,421.2 L1744.5,421 L1745.7,424.4 L1746.8,426.4 L1748,430.6 L1749.1,428.9 L1750.3,428.4 L1751.4,431.7 L1752.6,434.5 L1753.7,431.7 L1754.9,439.9 L1756,441.3 L1757.2,439.6 L1758.3,440.6 L1759.5,444.2 L1760.6,445.1 L1761.8,448.1 L1762.9,446.9 L1764.1,451.1 L1765.2,452.6 L1766.4,454.3 L1767.5,456.9 L1768.7,454.8 L1769.8,459.3 L1771,456.1 L1772.1,457.5 L1773.3,465.3 L1774.4,461 L1775.6,460.2 L1776.7,458.1 L1777.9,459.3 L1779,459 L1780.2,464.7 L1781.3,462.3 L1782.5,464.7 L1783.6,463.6 L1784.8,465.8 L1785.9,468.5 L1787.1,469.4 L1788.2,465.1 L1789.4,464.4 L1790.5,471.4 L1791.7,469.2 L1792.8,470.8 L1794,469.6 L1795.1,474.2 L1796.3,478.9 L1797.4,480.4 L1798.6,479.8 L1799.7,483.7 L1800.9,481.8 L1802,487.1 L1803.2,479.3 L1804.3,481.6 L1805.5,482.4 L1806.6,485.2 L1807.8,481.7 L1808.9,486.3 L1810.1,482 L1811.2,483.5 L1812.4,486.9 L1813.5,488.5 L1814.7,493 L1815.8,485.9 L1817,490.6 L1818.1,496.1 L1819.3,493.1 L1820.4,493.8 L1821.6,503.4 L1822.7,501.8 L1823.9,504.4 L1825,504.2 L1826.2,506.1 L1827.3,509.5 L1828.5,506.2 L1829.6,505.1 L1830.8,506.5 L1831.9,504.7 L1833.1,503.5 L1834.2,507.5 L1835.4,508.7 L1836.5,512.3 L1837.7,509.2 L1838.8,510.8 L1840,506.3 L1841.1,508 L1842.3,507.2 L1843.4,509.4 L1844.6,512.9 L1845.7,516 L1846.9,519.5 L1848,515.8 L1849.2,513.1 L1850.3,518.6 L1851.5,526.3 L1852.6,520.8 L1852.7,518.2" fill="none" stroke="#550000" stroke-width="2" />
<path d="M1569.4,374.4 L1570.6,371.2 L1571.7,365.3 L1572.9,360.4 L1574,354.5 L1575.2,348.4 L1576.3,343.1 L1577.5,339.2 L1578.6,333.8 L1579.8,327.2 L1580.9,321.5 L1582.1,312.7 L1583.2,309.6 L1584.4,301.7 L1585.5,293.5 L1586.7,288.8 L1587.8,282.3 L1589,279.1 L1590.1,272.9 L1591.3,264.1 L1592.4,257.2 L1593.6,252.3 L1594.7,246.9 L1595.9,242.3 L1597,236.8 L1598.2,232.8 L1599.3,227.5 L1600.5,222.2 L1601.6,216.8 L1602.8,211.7 L1603.9,206.8 L1605.1,200.4 L1606.2,196.2 L1607.4,191.5 L1608.5,186.7 L1609.7,182.4 L1610.8,180.7 L1612,174.8 L1613.1,170.8 L1614.3,170.4 L1615.4,165.6 L1616.6,162.9 L1617.7,160.4 L1618.9,159.1 L1620,158 L1621.2,158.2 L1622.3,158.2 L1623.5,156.5 L1624.6,151.5 L1625.8,151.9 L1626.9,151.4 L1628.1,152 L1629.2,152.1 L1630.4,151.8 L1631.5,152 L1632.7,151.3 L1633.8,151.5 L1635,150.5 L1636.1,148.9 L1637.3,150.1 L1638.4,152.7 L1639.6,153.1 L1640.7,153.5 L1641.9,156.5 L1643,155.3 L1644.2,156.3 L1645.3,159 L1646.5,161.4 L1647.6,164.1 L1648.8,166.8 L1649.9,166.4 L1651.1,166.4 L1652.2,167.8 L1653.4,171.1 L1654.5,172.8 L1655.7,173.7 L1656.8,174.7 L1658,178.7 L1659.1,179.1 L1660.3,182.6 L1661.4,185.7 L1662.6,186.9 L1663.7,186.9 L1664.9,192.3 L1666,194 L1667.2,194.9 L1668.3,195.3 L1669.5,198.3 L1670.6,201.1 L1671.8,205.2 L1672.9,202.6 L1674.1,205.9 L1675.2,206.9 L1676.4,206.6 L1677.5,213.5 L1678.7,217.8 L1679.8,218.4 L1681,229.6 L1682.1,227.8 L1683.3,229.1 L1684.4,230.8 L1685.6,231.3 L1686.7,234.8 L1687.9,241.1 L1689,243 L1690.2,249.8 L1691.3,253.4 L1692.5,254.8 L1693.6,256.8 L1694.8,259.5 L1695.9,260.2 L1697.1,267.1 L1698.2,268.7 L1699.4,268.4 L1700.5,269.9 L1701.7,273.2 L1702.8,274.6 L1704,277.3 L1705.1,281.6 L1706.3,284.8 L1707.4,285.8 L1708.6,287.9 L1709.7,291 L1710.9,290.9 L1712,294.4 L1713.2,299.3 L1714.3,300.3 L1715.5,301.9 L1716.6,305.4 L1717.8,306.3 L1718.9,310.3 L1720.1,311.6 L1721.2,314.5 L1722.4,319.2 L1723.5,320.4 L1724.7,318.8 L1725.8,322.8 L1727,324.6 L1728.1,331.8 L1729.3,335 L1730.4,336.7 L1731.6,335.1 L1732.7,337.3 L1733.9,340 L1735,342.7 L1736.2,345.3 L1737.3,344.9 L1738.5,349.1 L1739.6,353.2 L1740.8,353.1 L1741.9,358.4 L1743.1,358.9 L1744.2,359.2 L1745.4,358.8 L1746.5,365.7 L1747.7,368.3 L1748.8,370.6 L1750,365.7 L1751.1,364.1 L1752.3,370.1 L1753.4,375.7 L1754.6,379.1 L1755.7,381.3 L1756.9,386.6 L1758,387 L1759.2,386.3 L1760.3,389.3 L1761.5,390.7 L1762.6,398.8 L1763.8,396.2 L1764.9,392.4 L1766.1,394.8 L1767.2,397.6 L1768.4,397.5 L1769.5,405.4 L1770.7,407.7 L1771.8,409.1 L1773,409.3 L1774.1,410.5 L1775.3,414.4 L1776.4,411.6 L1777.6,414.7 L1778.7,421.2 L1779.9,423.7 L1781,425.5 L1782.2,425.1 L1783.3,426 L1784.5,429.9 L1785.6,429.2 L1786.8,427.9 L1787.9,431.5 L1789.1,438.2 L1790.2,438.5 L1791.4,437.2 L1792.5,439.4 L1793.7,437.6 L1794.8,443.2 L1796,443.1 L1797.1,444.3 L1798.3,444.9 L1799.4,446.2 L1800.6,446.3 L1801.7,444.1 L1802.9,443.9 L1804,449.2 L1805.2,448.6 L1806.3,448 L1807.5,450.8 L1808.6,452.7 L1809.8,457.8 L1810.9,454 L1812.1,460.3 L1813.2,460.9 L1814.4,458.5 L1815.5,460.4 L1816.7,458.2 L1817.8,460.9 L1819,463.6 L1820.1,453.2 L1821.3,463 L1822.4,467 L1823.6,466.2 L1824.7,470.1 L1825.9,465.4 L1827,466.8 L1828.2,475 L1829.3,475 L1830.5,476.9 L1831.6,477.3 L1832.8,475 L1833.9,489.6 L1835.1,490.1 L1836.2,483 L1837.4,482.4 L1838.5,483.7 L1839.7,485.9 L1840.8,487.8 L1842,490.6 L1843.1,496.1 L1844.3,491.5 L1845.4,494.6 L1846.6,499.9 L1847.7,501.2 L1848.9,508.8 L1850,500.5 L1851.2,499.8 L1852.3,499.6 L1853.5,499.1 L1854.6,501.3 L1855.8,505.2 L1856.9,504.7 L1858.1,506.5 L1859.2,513.1 L1860.4,512.5 L1861.5,507.6 L1862.7,501.7 L1863.8,508.7 L1865,511.7 L1866.1,509.2 L1867.3,514 L1868.4,521.9 L1869.6,523.2 L1870.7,520 L1871.9,519.8 L1873,522.1 L1874.2,521.9 L1875.3,521.1 L1876.5,518.9 L1877.6,521.8 L1878.8,526.3 L1879.8,531.5" fill="none" stroke="#800000" stroke-width="2" />
<path d="M1629.6,351.3 L1630.7,347 L1631.9,341 L1633,337.3 L1634.2,331.1 L1635.3,329 L1636.5,324 L1637.6,319.4 L1638.8,314.1 L1639.9,312.3 L1641.1,304 L1642.2,299.7 L1643.4,298.3 L1644.5,293.9 L1645.7,290.2 L1646.8,284.7 L1648,278.1 L1649.1,271.5 L1650.3,269.2 L1651.4,265.3 L1652.6,265.5 L1653.7,260.8 L1654.9,258.8 L1656,261.5 L1657.2,254.9 L1658.3,249.1 L1659.5,246.6 L1660.6,242.4 L1661.8,238.7 L1662.9,238.5 L1664.1,235.1 L1665.2,234.6 L1666.4,231.9 L1667.5,231.2 L1668.7,230.9 L1669.8,229.8 L1671,231 L1672.1,229 L1673.3,226.6 L1674.4,228.4 L1675.6,226.9 L1676.7,227.6 L1677.9,226.6 L1679,227.9 L1680.2,228.9 L1681.3,227 L1682.5,225 L1683.6,227.1 L1684.8,227.5 L1685.9,228.7 L1687.1,228.4 L1688.2,230.9 L1689.4,230.3 L1690.5,229.1 L1691.7,233.5 L1692.8,232.2 L1694,232.4 L1695.1,235.4 L1696.3,236 L1697.4,235.2 L1698.6,236.8 L1699.7,241.6 L1700.9,239.7 L1702,240.2 L1703.2,240.8 L1704.3,241.6 L1705.5,239.1 L1706.6,242.9 L1707.8,241.9 L1708.9,243.4 L1710.1,244.1 L1711.2,244.4 L1712.4,244.9 L1713.5,245.6 L1714.7,246.4 L1715.8,248.8 L1717,252.7 L1718.1,257.8 L1719.3,261.6 L1720.4,263.1 L1721.6,267.4 L1722.7,270.2 L1723.9,273.8 L1725,269.6 L1726.2,276.2 L1727.3,278.6 L1728.5,282.6 L1729.6,285.6 L1730.8,285.8 L1731.9,289.3 L1733.1,291.4 L1734.2,299.3 L1735.4,297.9 L1736.5,296.8 L1737.7,300.2 L1738.8,297 L1740,293.3 L1741.1,302.3 L1742.3,306.1 L1743.4,304.3 L1744.6,302.2 L1745.7,306 L1746.9,311.2 L1748,313.4 L1749.2,312.2 L1750.3,317.4 L1751.5,319.5 L1752.6,322.2 L1753.8,322.3 L1754.9,327.5 L1756.1,329.4 L1757.2,333.2 L1758.4,338 L1759.5,342.9 L1760.7,339.8 L1761.8,339.1 L1763,342.1 L1764.1,346.9 L1765.3,349.2 L1766.4,350.8 L1767.6,352.2 L1768.7,358.4 L1769.9,358.8 L1771,364 L1772.2,366.7 L1773.3,370.6 L1774.5,369.9 L1775.6,376.6 L1776.8,372.3 L1777.9,375.2 L1779.1,374.2 L1780.2,383.5 L1781.4,389.9 L1782.5,388.1 L1783.7,384.2 L1784.8,386 L1786,387.7 L1787.1,393.4 L1788.3,398.3 L1789.4,397.3 L1790.6,406.5 L1791.7,405.6 L1792.9,408 L1794,408.2 L1795.2,414.2 L1796.3,417.3 L1797.5,415.6 L1798.6,416.7 L1799.8,420.3 L1800.9,417.5 L1802.1,423 L1803.2,423.7 L1804.4,422.8 L1805.5,426.9 L1806.7,434.1 L1807.8,438.1 L1809,445.2 L1810.1,442.6 L1811.3,442.1 L1812.4,447.2 L1813.6,438.5 L1814.7,442.7 L1815.9,447.1 L1817,446.6 L1818.2,447.3 L1819.3,451.9 L1820.5,450.8 L1821.6,450.4 L1822.8,454.8 L1823.9,456.9 L1825.1,451 L1826.2,454.1 L1827.4,454.5 L1828.5,457.6 L1829.7,455.4 L1830.8,462.6 L1832,459 L1833.1,453.5 L1834.3,454.5 L1835.4,458.6 L1836.6,461.3 L1837.7,467.2 L1838.9,466.1 L1840,470.4 L1841.2,467.9 L1842.3,470 L1843.5,467.5 L1844.6,466.4 L1845.8,470.4 L1846.9,478.9 L1848.1,474.6 L1849.2,473.4 L1850.4,466.1 L1851.5,472 L1852.7,481.3 L1853.8,480.9 L1855,473.6 L1856.1,470.5 L1857.3,470 L1858.4,477.7 L1859.6,480.9 L1860.7,482.7 L1861.9,482.2 L1863,486.6 L1864.2,487.8 L1865.3,488.2 L1866.5,493.2 L1867.6,491.2 L1868.8,489.6 L1869.9,494.6 L1871.1,494 L1872.2,492.6 L1873.4,496.3 L1874.5,491.8 L1875.7,504.9 L1876.8,499.3 L1878,496.4 L1879.1,506.4 L1880.3,499 L1881.4,505.5 L1882.6,505.1 L1883.7,511 L1884.9,514.8 L1886,509.8 L1887.2,514.4 L1888.3,514.3 L1889.5,507.3 L1890.6,502.3 L1891.8,505.3 L1892.9,521.5 L1894.1,516.6 L1895.2,517.9 L1895.7,544.9" fill="none" stroke="#aa0000" stroke-width="2" />
<path d="M1693.4,396.9 L1694.5,395.6 L1695.7,394.7 L1696.8,393.3 L1698,396 L1699.1,387.4 L1700.3,388.2 L1701.4,386.9 L1702.6,388.9 L1703.7,384.6 L1704.9,386.4 L1706,384 L1707.2,382.8 L1708.3,382.7 L1709.5,378.6 L1710.6,378.2 L1711.8,382.2 L1712.9,376.1 L1714.1,377.9 L1715.2,377.3 L1716.4,375.6 L1717.5,373.2 L1718.7,375.4 L1719.8,373.5 L1721,370.7 L1722.1,372.9 L1723.3,371.9 L1724.4,372.3 L1725.6,372.5 L1726.7,373.8 L1727.9,374 L1729,371.2 L1730.2,374.4 L1731.3,369.8 L1732.5,370.2 L1733.6,372.1 L1734.8,372.8 L1735.9,372 L1737.1,374.3 L1738.2,374.1 L1739.4,375.8 L1740.5,375.6 L1741.7,374.3 L1742.8,375.4 L1744,376.1 L1745.1,375.4 L1746.3,377.3 L1747.4,382.1 L1748.6,380.5 L1749.7,380.8 L1750.9,384.9 L1752,382.8 L1753.2,388.1 L1754.3,388.3 L1755.5,387.7 L1756.6,388.9 L1757.8,388.1 L1758.9,393.8 L1760.1,391.8 L1761.2,395 L1762.4,395.5 L1763.5,395.6 L1764.7,398.6 L1765.8,399.7 L1767,400.2 L1768.1,398.7 L1769.3,399.3 L1770.4,397.9 L1771.6,394.6 L1772.7,402.2 L1773.9,405.1 L1775,407.6 L1776.2,404.7 L1777.3,405.4 L1778.5,407.9 L1779.6,415 L1780.8,410.3 L1781.9,411.2 L1783.1,413.1 L1784.2,412.3 L1785.4,413.5 L1786.5,414 L1787.7,414.2 L1788.8,425.4 L1790,419.5 L1791.1,417.3 L1792.3,421.8 L1793.4,426.4 L1794.6,421 L1795.7,423.4 L1796.9,426.5 L1798,427.3 L1799.2,430.5 L1800.3,429.2 L1801.5,428.4 L1802.6,431.9 L1803.8,431.2 L1804.9,435 L1806.1,436.3 L1807.2,443.2 L1808.4,441.6 L1809.5,439.7 L1810.7,436.1 L1811.8,438.4 L1813,437.4 L1814.1,443.1 L1815.3,441.9 L1816.4,447.3 L1817.6,450.6 L1818.7,448.9 L1819.9,447 L1821,448.6 L1822.2,451.5 L1823.3,449.9 L1824.5,452.3 L1825.6,452.7 L1826.8,458.3 L1827.9,463.6 L1829.1,464.4 L1830.2,459.3 L1831.4,462.6 L1832.5,462.3 L1833.7,467.9 L1834.8,472.1 L1836,469.2 L1837.1,465.2 L1838.3,469.1 L1839.4,464.9 L1840.6,463.8 L1841.7,471.8 L1842.9,470.6 L1844,474.9 L1845.2,473.4 L1846.3,472.9 L1847.5,473.5 L1848.6,470.9 L1849.8,473.2 L1850.9,471.7 L1852.1,476.6 L1853.2,483 L1854.4,484.6 L1855.5,475.8 L1856.7,476.4 L1857.8,474.9 L1859,483 L1860.1,479.7 L1861.3,485.9 L1862.4,487.4 L1863.6,487.5 L1864.7,493.4 L1865.9,490.6 L1867,491.4 L1868.2,501.3 L1869.3,496.7 L1870.5,502.7 L1871.6,495.2 L1872.8,505.8 L1873.9,505.7 L1875.1,501.9 L1876.2,501.1 L1877.4,503.5 L1878.5,500.1 L1879.7,503.8 L1880.8,503.3 L1882,513.4 L1883.1,503.9 L1884.3,504.4 L1885.4,507.6 L1886.6,503 L1887.7,509.3 L1888.9,509.1 L1890,514.4 L1891.2,524.6 L1892.3,517.5 L1893.5,515.6 L1894.6,518.1 L1895.8,527.8 L1896.4,519.6" fill="none" stroke="#d40000" stroke-width="2" />
<path d="M1749.6,464.6 L1750.7,467.8 L1751.9,465.1 L1753,468.6 L1754.2,470.3 L1755.3,469.6 L1756.5,469.5 L1757.6,468.1 L1758.8,469.5 L1759.9,474.5 L1761.1,474.3 L1762.2,472.6 L1763.4,471.9 L1764.5,473.1 L1765.7,470.4 L1766.8,472.4 L1768,470.9 L1769.1,471 L1770.3,470.9 L1771.4,467.5 L1772.6,466.9 L1773.7,470.3 L1774.9,469.1 L1776,468.2 L1777.2,470.2 L1778.3,467.5 L1779.5,463.5 L1780.6,464.6 L1781.8,466.8 L1782.9,469.6 L1784.1,467.4 L1785.2,466.1 L1786.4,471.4 L1787.5,468.7 L1788.7,469.5 L1789.8,470.8 L1791,473.6 L1792.1,472.3 L1793.3,469.7 L1794.4,466.3 L1795.6,469.3 L1796.7,468.9 L1797.9,460.8 L1799,468.8 L1800.2,472.3 L1801.3,474.8 L1802.5,474.2 L1803.6,475.9 L1804.8,473.9 L1805.9,465.6 L1807.1,474.8 L1808.2,482.7 L1809.4,475.8 L1810.5,480.1 L1811.7,481.8 L1812.8,479 L1814,477.8 L1815.1,475.9 L1816.3,479.2 L1817.4,481.4 L1818.6,483 L1819.7,483.9 L1820.9,480.4 L1822,482.9 L1823.2,477 L1824.3,482.2 L1825.5,482.2 L1826.6,480.8 L1827.8,488 L1828.9,483.1 L1830.1,488.1 L1831.2,492.1 L1832.4,490.3 L1833.5,492.6 L1834.7,491.1 L1835.8,496.9 L1837,493.2 L1838.1,491.3 L1839.3,495.9 L1840.4,492 L1841.6,495.7 L1842.7,488.6 L1843.9,491.3 L1845,485.7 L1846.2,492.4 L1847.3,490.1 L1848.5,490.3 L1849.6,498 L1850.8,497.3 L1851.9,497.2 L1853.1,503.4 L1854.2,499.4 L1855.4,500.3 L1856.5,508.9 L1857.7,504.8 L1858.8,500.3 L1860,501.3 L1861.1,503.8 L1862.3,504.9 L1863.4,506.9 L1864.6,491.2 L1865.7,501.2 L1866.9,500.2 L1868,502.8 L1869.2,502.6 L1870.3,499.3 L1871.5,511 L1872.6,511.6 L1873.8,503.8 L1874.9,502.6 L1876.1,517.9 L1877.2,514.4 L1878.4,500.5 L1879.5,517.7 L1880.7,516.4 L1881.8,513.4 L1883,514 L1884.1,511.5 L1885.3,514.5 L1886.4,512 L1887.6,518.5 L1888.7,514.9 L1889.9,521 L1891,516.2 L1892.2,516.3 L1893.3,526.2 L1894.5,527.9 L1895.6,530.8 L1896.8,527.2 L1897.7,529.5" fill="none" stroke="#ff0000" stroke-width="2" />
</g>
<line x1="1448.4" y1="114" x2="1448.4" y2="530.8" stroke="#000" stroke-width="1.9" />
<line x1="1448.4" y1="530" x2="1948.1" y2="530" stroke="#000" stroke-width="1.9" />
<line x1="1488.4" y1="530" x2="1488.4" y2="536" stroke="#000" stroke-width="1.9" />
<text x="1488.4" y="560.5" font-size="29.2" text-anchor="middle" fill="#000" stroke="#000" >400</text>
<line x1="1603.13" y1="530" x2="1603.13" y2="536" stroke="#000" stroke-width="1.9" />
<text x="1603.13" y="560.5" font-size="29.2" text-anchor="middle" fill="#000" stroke="#000" >500</text>
<line x1="1717.86" y1="530" x2="1717.86" y2="536" stroke="#000" stroke-width="1.9" />
<text x="1717.86" y="560.5" font-size="29.2" text-anchor="middle" fill="#000" stroke="#000" >600</text>
<line x1="1832.59" y1="530" x2="1832.59" y2="536" stroke="#000" stroke-width="1.9" />
<text x="1832.59" y="560.5" font-size="29.2" text-anchor="middle" fill="#000" stroke="#000" >700</text>
<line x1="1947.32" y1="530" x2="1947.32" y2="536" stroke="#000" stroke-width="1.9" />
<text x="1947.32" y="560.5" font-size="29.2" text-anchor="middle" fill="#000" stroke="#000" >800</text>
<line x1="1545.77" y1="530" x2="1545.77" y2="533" stroke="#000" stroke-width="1.9" />
<line x1="1660.5" y1="530" x2="1660.5" y2="533" stroke="#000" stroke-width="1.9" />
<line x1="1775.23" y1="530" x2="1775.23" y2="533" stroke="#000" stroke-width="1.9" />
<line x1="1889.96" y1="530" x2="1889.96" y2="533" stroke="#000" stroke-width="1.9" />
<text x="1697.4" y="609" font-size="29.2" text-anchor="middle" fill="#000" stroke="#000" >λ (nm)</text>
<text x="1416.5" y="320.7" font-size="29.2" text-anchor="middle" fill="#000" stroke="#000" transform="rotate(-90 1416.5 320.7)" >Intensity (arb.units)</text>
<line x1="1848" y1="128" x2="1883.2" y2="128" stroke="#000000" stroke-width="2.2" />
<text x="1890" y="138.2" font-size="29.2" text-anchor="start" fill="#000" stroke="#000" >350</text>
<line x1="1848" y1="164.8" x2="1883.2" y2="164.8" stroke="#2b0000" stroke-width="2.2" />
<text x="1890" y="175" font-size="29.2" text-anchor="start" fill="#000" stroke="#000" >365</text>
<line x1="1848" y1="201.6" x2="1883.2" y2="201.6" stroke="#550000" stroke-width="2.2" />
<text x="1890.5" y="211.8" font-size="29.2" text-anchor="start" fill="#000" stroke="#000" >400</text>
<line x1="1848" y1="238.4" x2="1883.2" y2="238.4" stroke="#800000" stroke-width="2.2" />
<text x="1890.5" y="248.6" font-size="29.2" text-anchor="start" fill="#000" stroke="#000" >450</text>
<line x1="1848" y1="275.2" x2="1883.2" y2="275.2" stroke="#aa0000" stroke-width="2.2" />
<text x="1889.75" y="285.4" font-size="29.2" text-anchor="start" fill="#000" stroke="#000" >500</text>
<line x1="1848" y1="312" x2="1883.2" y2="312" stroke="#d40000" stroke-width="2.2" />
<text x="1889.75" y="322.2" font-size="29.2" text-anchor="start" fill="#000" stroke="#000" >550</text>
<line x1="1848" y1="348.8" x2="1883.2" y2="348.8" stroke="#ff0000" stroke-width="2.2" />
<text x="1889.5" y="359" font-size="29.2" text-anchor="start" fill="#000" stroke="#000" >600</text>
<text x="1393.75" y="23.1" font-size="29.2" text-anchor="start" fill="#000" stroke="#000" >c)</text>
</g>
<g id="pd">
<clipPath id="clipd"><rect x="118.7" y="708" width="499.1" height="416.1"/></clipPath>
<g clip-path="url(#clipd)" fill="none" stroke-linejoin="round">
<path d="M145.5,1096.5 L146.5,1114.5 L147.5,1122.1 L148.5,1115.6 L149.5,1123.6 L150.5,1114.1 L151.5,1119.9 L152.5,1121.3 L153.5,1119.5 L154.5,1115 L155.5,1117.9 L156.5,1115.5 L157.5,1117 L158.5,1114.4 L159.5,1112.1 L160.5,1121.5 L161.5,1118.4 L162.5,1119 L163.5,1125.2 L164.5,1116.2 L165.5,1120.4 L166.5,1118 L167.5,1126.6 L168.5,1119.8 L169.5,1113 L170.5,1113.9 L171.5,1108.2 L172.5,1120.9 L173.5,1098.3 L174.5,1101.5 L175.5,1112.2 L176.5,1114.9 L177.5,1117.2 L178.5,1121.7 L179.5,1102.3 L180.5,1109.1 L181.5,1109.7 L182.5,1105.7 L183.5,1106.1 L184.5,1104.7 L185.5,1109.3 L186.5,1108.2 L187.5,1102.5 L188.5,1107.6 L189.5,1106.2 L190.5,1113.8 L191.5,1109.5 L192.5,1106.6 L193.5,1106.2 L194.5,1101.2 L195.5,1092.9 L196.5,1104.5 L197.5,1101.7 L198.5,1101.2 L199.5,1104.2 L200.5,1103.4 L201.5,1107.8 L202.5,1106.7 L203.5,1098.9 L204.5,1095.4 L205.5,1113.1 L206.5,1106.1 L207.5,1102.2 L208.5,1101.7 L209.5,1098.4 L210.5,1106.1 L211.5,1103.1 L212.5,1102.1 L213.5,1104.2 L214.5,1100.4 L215.5,1095.9 L216.5,1095.7 L217.5,1105.5 L218.5,1092 L219.5,1099.3 L220.5,1105.9 L221.5,1097.5 L222.5,1097.6 L223.5,1102.8 L224.5,1097.4 L225.5,1095.3 L226.5,1092.5 L227.5,1090.1 L228.5,1091.1 L229.5,1094.9 L230.5,1095.2 L231.5,1094.5 L232.5,1095.4 L233.5,1100.7 L234.5,1092.1 L235.5,1086.6 L236.5,1087.4 L237.5,1097.5 L238.5,1096.9 L239.5,1091.8 L240.5,1097.7 L241.5,1089.1 L242.5,1093.9 L243.5,1085 L244.5,1083.8 L245.5,1087 L246.5,1090.2 L247.5,1093.4 L248.5,1091 L249.5,1088.2 L250.5,1082.2 L251.5,1084.9 L252.5,1087.9 L253.5,1085.5 L254.5,1086.2 L255.5,1085.9 L256.5,1079 L257.5,1074.7 L258.5,1084 L259.5,1090.7 L260.5,1083.7 L261.5,1084 L262.5,1080 L263.5,1076.4 L264.5,1072.6 L265.5,1070.7 L266.5,1077.3 L267.5,1082.5 L268.5,1080.2 L269.5,1081.6 L270.5,1087.7 L271.5,1096.2 L272.5,1092.7 L273.5,1088.6 L274.5,1089.5 L275.5,1088.3 L276.5,1093.9 L277.5,1090.3 L278.5,1087.3 L279.5,1091.6 L280.5,1087.2 L281.5,1086.1 L282.5,1096.9 L283.5,1089.2 L284.5,1080.3 L285.5,1095.4 L286.5,1077.3 L287.5,1079.1 L288.5,1080.4 L289.5,1081.8 L290.5,1078.6 L291.5,1078.1 L292.5,1084 L293.5,1082.6 L294.5,1078.4 L295.5,1065.9 L296.5,1070.8 L297.5,1079.5 L298.5,1083.5 L299.5,1073.2 L300.5,1069.8 L301.5,1068 L302.5,1070.7 L303.5,1076.5 L304.5,1084.1 L305.5,1066.1 L306.5,1067.5 L307.5,1085.8 L308.5,1072.4 L309.5,1075.9 L310.5,1082 L311.5,1071.8 L312.5,1073.4 L313.5,1069.3 L314.5,1075.1 L315.5,1079.4 L316.5,1080.3 L317.5,1077.3 L318.5,1084.2 L319.5,1087.3 L320.5,1081.8 L321.5,1086.4 L322.5,1085.2 L323.5,1086.1 L324.5,1079 L325.5,1074 L326.5,1078.2 L327.5,1074.7 L328.5,1083.9 L329.5,1090.2 L330.5,1089.7 L331.5,1088.2 L332.5,1088 L333.5,1080 L334.5,1085.7 L335.5,1078.1 L336.5,1084.3 L337.5,1079.7 L338.5,1088.4 L339.5,1084.9 L340.5,1079.8 L341.5,1082.3 L342.5,1088.2 L343.5,1082.9 L344.5,1075.4 L345.5,1078.1 L346.5,1078.8 L347.5,1077.9 L348.5,1079.1 L349.5,1081.1 L350.5,1081.6 L351.5,1087.2 L352.5,1092.8 L353.5,1077.4 L354.5,1085.8 L355.5,1089.2 L356.5,1083.6 L357.5,1087.2 L358.5,1086.2 L359.5,1093.1 L360.5,1083.6 L361.5,1078 L362.5,1096.6 L363.5,1071.1 L364.5,1094.4 L365.5,1107.2 L366.5,1098.7 L367.5,1110.7 L368.5,1100.4 L369.5,1106.4 L370.5,1100.2 L371.5,1092.6 L372.5,1088.3 L373.5,1097 L374.5,1092 L375.5,1103.5 L376.5,1092.3 L377.5,1100.7 L378.5,1107.8 L379.5,1107.3 L380.5,1085.1 L381.5,1086.9 L382.5,1095.4 L383.5,1090.5 L384.5,1097.3 L385.5,1103.2 L386.5,1097.3 L387.5,1101.7 L388.5,1122 L389.5,1114.6 L390.5,1111.1 L391.5,1101.1 L392.5,1103.8 L393.5,1092.5 L394.5,1108 L395.5,1127 L396.5,1110 L397.5,1113.1 L398.5,1111.3 L399.5,1098.9 L400.5,1108.3 L401.5,1109.9 L402.5,1112.8 L403.5,1108.3 L404.5,1106 L405.5,1112.3 L406.5,1114.9 L407.5,1118.5 L408.5,1119.7 L409.5,1110.7 L410.5,1108.3 L411.5,1113.4 L412.5,1123.8 L412.8,1126.6" fill="none" stroke="#000000" stroke-width="2.1" />
<path d="M163.4,1108 L164.4,1111.2 L165.4,1104.2 L166.4,1104.9 L167.4,1107 L168.4,1102.5 L169.4,1108.8 L170.4,1103.8 L171.4,1105.7 L172.4,1103.7 L173.4,1119.8 L174.4,1110.8 L175.4,1107.7 L176.4,1102.8 L177.4,1108.1 L178.4,1108.8 L179.4,1095.1 L180.4,1090.9 L181.4,1096 L182.4,1097 L183.4,1102.5 L184.4,1098.5 L185.4,1095.1 L186.4,1102.3 L187.4,1102.2 L188.4,1099.9 L189.4,1092.7 L190.4,1099.8 L191.4,1095.8 L192.4,1090 L193.4,1102.6 L194.4,1098.8 L195.4,1100.2 L196.4,1099.1 L197.4,1090.8 L198.4,1086.8 L199.4,1097 L200.4,1084.1 L201.4,1088.7 L202.4,1083.7 L203.4,1091.4 L204.4,1088.5 L205.4,1086.6 L206.4,1095.6 L207.4,1082.2 L208.4,1090.9 L209.4,1087.5 L210.4,1087.5 L211.4,1083.8 L212.4,1081.9 L213.4,1084.3 L214.4,1085.2 L215.4,1092.2 L216.4,1092.2 L217.4,1077.5 L218.4,1077 L219.4,1078.3 L220.4,1076.7 L221.4,1073.5 L222.4,1071.7 L223.4,1072.4 L224.4,1067 L225.4,1069.3 L226.4,1070.3 L227.4,1075 L228.4,1070.5 L229.4,1065.1 L230.4,1064.4 L231.4,1065.7 L232.4,1066.6 L233.4,1068.4 L234.4,1072.7 L235.4,1072.5 L236.4,1071.9 L237.4,1082.9 L238.4,1065.8 L239.4,1061.7 L240.4,1056.9 L241.4,1064.4 L242.4,1070 L243.4,1067.4 L244.4,1069.9 L245.4,1060.1 L246.4,1059.8 L247.4,1067.2 L248.4,1063.4 L249.4,1060 L250.4,1051.4 L251.4,1050.5 L252.4,1054.4 L253.4,1049.6 L254.4,1051.6 L255.4,1047.3 L256.4,1053.8 L257.4,1040.2 L258.4,1053.4 L259.4,1060.5 L260.4,1057.5 L261.4,1053.2 L262.4,1042.8 L263.4,1046.7 L264.4,1052.8 L265.4,1051.8 L266.4,1051.7 L267.4,1052.9 L268.4,1047.5 L269.4,1057.8 L270.4,1043.2 L271.4,1054.3 L272.4,1042.7 L273.4,1050.3 L274.4,1040.9 L275.4,1048.8 L276.4,1043.2 L277.4,1041.3 L278.4,1044.3 L279.4,1043.2 L280.4,1050.4 L281.4,1047.6 L282.4,1037.1 L283.4,1039.7 L284.4,1038.6 L285.4,1041 L286.4,1043.4 L287.4,1040.1 L288.4,1045 L289.4,1047.9 L290.4,1042.3 L291.4,1031.2 L292.4,1043.5 L293.4,1043.1 L294.4,1040.6 L295.4,1044 L296.4,1043.8 L297.4,1048.1 L298.4,1038.1 L299.4,1037.2 L300.4,1023.8 L301.4,1042.8 L302.4,1033 L303.4,1041.6 L304.4,1028.3 L305.4,1047.6 L306.4,1041.8 L307.4,1032.4 L308.4,1039.7 L309.4,1038.5 L310.4,1038.7 L311.4,1044.3 L312.4,1037.7 L313.4,1033.1 L314.4,1049 L315.4,1038.6 L316.4,1041.8 L317.4,1049 L318.4,1057.8 L319.4,1045.4 L320.4,1045.5 L321.4,1046.8 L322.4,1044.8 L323.4,1048.6 L324.4,1039.5 L325.4,1049.1 L326.4,1048.2 L327.4,1047.1 L328.4,1049.3 L329.4,1053.2 L330.4,1044.5 L331.4,1042.2 L332.4,1058.9 L333.4,1061.3 L334.4,1052 L335.4,1049.6 L336.4,1050.9 L337.4,1048.6 L338.4,1053.3 L339.4,1052.2 L340.4,1059.1 L341.4,1061.3 L342.4,1060.7 L343.4,1065.6 L344.4,1050 L345.4,1057.7 L346.4,1063 L347.4,1059.5 L348.4,1063.1 L349.4,1049.7 L350.4,1057 L351.4,1056.4 L352.4,1053.9 L353.4,1051.4 L354.4,1059.1 L355.4,1058.7 L356.4,1064.4 L357.4,1058.9 L358.4,1063 L359.4,1067.8 L360.4,1062.8 L361.4,1061.9 L362.4,1068.4 L363.4,1061.3 L364.4,1074.3 L365.4,1065.9 L366.4,1064.5 L367.4,1064.2 L368.4,1067.1 L369.4,1061.7 L370.4,1067.6 L371.4,1062.8 L372.4,1069.7 L373.4,1050 L374.4,1067.2 L375.4,1077.7 L376.4,1075.3 L377.4,1071.9 L378.4,1071.9 L379.4,1071.2 L380.4,1077.3 L381.4,1089.6 L382.4,1081.7 L383.4,1069.6 L384.4,1081.7 L385.4,1087.6 L386.4,1081.1 L387.4,1086.5 L388.4,1081.5 L389.4,1087.7 L390.4,1088.2 L391.4,1077.9 L392.4,1077.5 L393.4,1098.8 L394.4,1082.9 L395.4,1086.7 L396.4,1080.1 L397.4,1099.6 L398.4,1092.5 L399.4,1095.2 L400.4,1090.8 L401.4,1093.8 L402.4,1091.3 L403.4,1095.6 L404.4,1109.7 L405.4,1092.2 L406.4,1098.4 L407.4,1094.3 L408.4,1103.4 L409.4,1100.9 L410.4,1098.5 L411.4,1099.2 L412.4,1099.7 L413.4,1106 L414.4,1104.6 L415.4,1116 L416.4,1108.5 L417.4,1117.3 L418.4,1118.2 L419.4,1118.3 L420.4,1111.1 L421.4,1120.6 L422.4,1122 L422.8,1129.1" fill="none" stroke="#240000" stroke-width="2.1" />
<path d="M178.4,1105.5 L179.4,1104.5 L180.4,1104 L181.4,1089.1 L182.4,1099.5 L183.4,1102.5 L184.4,1105.1 L185.4,1102.6 L186.4,1102.2 L187.4,1113.4 L188.4,1104.5 L189.4,1093.3 L190.4,1105.7 L191.4,1096.5 L192.4,1100.1 L193.4,1091.6 L194.4,1082.6 L195.4,1089.2 L196.4,1095.6 L197.4,1087.8 L198.4,1090.6 L199.4,1089.6 L200.4,1096.3 L201.4,1092.1 L202.4,1086.1 L203.4,1083.8 L204.4,1084.6 L205.4,1095.7 L206.4,1090 L207.4,1091 L208.4,1090.4 L209.4,1082.5 L210.4,1084.9 L211.4,1065.8 L212.4,1074.1 L213.4,1079.6 L214.4,1079.4 L215.4,1073 L216.4,1077.9 L217.4,1071.2 L218.4,1068.3 L219.4,1068.9 L220.4,1067 L221.4,1070.3 L222.4,1070.8 L223.4,1068.3 L224.4,1068.9 L225.4,1060.9 L226.4,1068.7 L227.4,1063.7 L228.4,1069.3 L229.4,1062.9 L230.4,1058.7 L231.4,1065.1 L232.4,1048.2 L233.4,1058.2 L234.4,1053.2 L235.4,1054.3 L236.4,1051.8 L237.4,1058.8 L238.4,1053.6 L239.4,1045.6 L240.4,1058 L241.4,1050.7 L242.4,1054.8 L243.4,1035.2 L244.4,1061.7 L245.4,1040.6 L246.4,1050.6 L247.4,1048 L248.4,1037.6 L249.4,1041.5 L250.4,1037.8 L251.4,1040.7 L252.4,1040.3 L253.4,1042.2 L254.4,1032.8 L255.4,1037.6 L256.4,1032.5 L257.4,1039.5 L258.4,1040.9 L259.4,1037.5 L260.4,1034.4 L261.4,1030.7 L262.4,1031.3 L263.4,1032.8 L264.4,1021.9 L265.4,1028.8 L266.4,1032.3 L267.4,1031.3 L268.4,1026.7 L269.4,1010.6 L270.4,1018.9 L271.4,1026.2 L272.4,1026.6 L273.4,1029.1 L274.4,1024.3 L275.4,1033.8 L276.4,1022.8 L277.4,1021.2 L278.4,1031.8 L279.4,1020.4 L280.4,1016.5 L281.4,1019.4 L282.4,1008.6 L283.4,1026.1 L284.4,1014.5 L285.4,1018.1 L286.4,1009.7 L287.4,1012.3 L288.4,1021.5 L289.4,1015.4 L290.4,1021.2 L291.4,1018.2 L292.4,1030.2 L293.4,1027.6 L294.4,1010.1 L295.4,1003.2 L296.4,1013.6 L297.4,1010.1 L298.4,1005.8 L299.4,1013.6 L300.4,1014 L301.4,1019.2 L302.4,1010.4 L303.4,1006.6 L304.4,1014.4 L305.4,1013.3 L306.4,1013.6 L307.4,1011.9 L308.4,1017.5 L309.4,1003.8 L310.4,1012.1 L311.4,1002.8 L312.4,1007.5 L313.4,1008.3 L314.4,1002.7 L315.4,985 L316.4,1009.6 L317.4,1013.6 L318.4,1009.7 L319.4,1006.4 L320.4,998.1 L321.4,1009.7 L322.4,1002.2 L323.4,1011.1 L324.4,1008.5 L325.4,1007.7 L326.4,1009.5 L327.4,1011.8 L328.4,1017.6 L329.4,1009.8 L330.4,1013.9 L331.4,1015.5 L332.4,1016.9 L333.4,1004.3 L334.4,1012.2 L335.4,1016.5 L336.4,1008.9 L337.4,1018.1 L338.4,1025.7 L339.4,1006.7 L340.4,1023 L341.4,1019.2 L342.4,1020.9 L343.4,1007.8 L344.4,1016.4 L345.4,1015.2 L346.4,1019.6 L347.4,1029 L348.4,1023.8 L349.4,1016.8 L350.4,1014.3 L351.4,1029.1 L352.4,1019.1 L353.4,1016.6 L354.4,1023.4 L355.4,1021.5 L356.4,1031.8 L357.4,1023.9 L358.4,1023 L359.4,1019 L360.4,1017.9 L361.4,1028.6 L362.4,1039.2 L363.4,1029 L364.4,1026.9 L365.4,1008.7 L366.4,1021.7 L367.4,1023.1 L368.4,1027.4 L369.4,1025.1 L370.4,1026.1 L371.4,1033.8 L372.4,1041.4 L373.4,1032.4 L374.4,1029.5 L375.4,1041.8 L376.4,1031.1 L377.4,1040.1 L378.4,1035.6 L379.4,1040.9 L380.4,1043.6 L381.4,1039.3 L382.4,1039.1 L383.4,1039.6 L384.4,1042.5 L385.4,1037.7 L386.4,1046 L387.4,1063.3 L388.4,1045.3 L389.4,1054.1 L390.4,1047.8 L391.4,1052.2 L392.4,1053.6 L393.4,1044.1 L394.4,1060.3 L395.4,1087.7 L396.4,1063.8 L397.4,1071.7 L398.4,1053 L399.4,1043.2 L400.4,1064.6 L401.4,1057.7 L402.4,1066.3 L403.4,1058.2 L404.4,1059.5 L405.4,1066.1 L406.4,1068.3 L407.4,1061.2 L408.4,1072.8 L409.4,1073.9 L410.4,1069.1 L411.4,1071.6 L412.4,1073.2 L413.4,1072.8 L414.4,1072 L415.4,1078.8 L416.4,1070.2 L417.4,1073 L418.4,1079 L419.4,1082.1 L420.4,1092.9 L421.4,1073.4 L422.4,1074.8 L423.4,1082 L424.4,1085.5 L425.4,1089.3 L426.4,1087.1 L427.4,1093.2 L428.4,1092.1 L429.4,1093 L430.4,1104.8 L431.4,1100.4 L432.4,1105.3 L433.4,1103.2 L434.4,1102.4 L435.4,1096.4 L436.4,1102.9 L437.4,1108.3 L438.4,1114.1 L439.4,1110.2 L440.4,1104 L441.4,1101.3 L442.4,1115.4 L443.4,1116.1 L444.4,1112.6 L445.4,1116.1 L446.4,1125.2 L447.4,1142.5 L447.7,1144.7" fill="none" stroke="#490000" stroke-width="2.1" />
<path d="M193.3,1105.8 L194.3,1101.1 L195.3,1094 L196.3,1088.5 L197.3,1098.4 L198.3,1095.5 L199.3,1086.3 L200.3,1088.7 L201.3,1095.6 L202.3,1076.5 L203.3,1081.4 L204.3,1086.4 L205.3,1081.1 L206.3,1084.6 L207.3,1095 L208.3,1090.4 L209.3,1093.8 L210.3,1080.9 L211.3,1071.9 L212.3,1066.6 L213.3,1070.6 L214.3,1070.7 L215.3,1068.4 L216.3,1072.6 L217.3,1074 L218.3,1071.6 L219.3,1073.9 L220.3,1076.6 L221.3,1074.5 L222.3,1072.4 L223.3,1067.2 L224.3,1064.2 L225.3,1068.3 L226.3,1064.8 L227.3,1072.1 L228.3,1069.1 L229.3,1058.1 L230.3,1057.9 L231.3,1058.8 L232.3,1055.3 L233.3,1061.8 L234.3,1049 L235.3,1040.1 L236.3,1048.2 L237.3,1051.6 L238.3,1040.7 L239.3,1048.3 L240.3,1056.4 L241.3,1043.5 L242.3,1041.5 L243.3,1039.9 L244.3,1044.4 L245.3,1044 L246.3,1033.3 L247.3,1039.9 L248.3,1036.3 L249.3,1025.2 L250.3,1042 L251.3,1036.2 L252.3,1033.8 L253.3,1021.9 L254.3,1028.4 L255.3,1026.6 L256.3,1027 L257.3,1028.6 L258.3,1028.4 L259.3,1025.2 L260.3,1021.4 L261.3,1022 L262.3,1027.5 L263.3,1018.8 L264.3,1015.7 L265.3,1021 L266.3,1029.7 L267.3,1030.3 L268.3,1026.7 L269.3,1021.5 L270.3,1015.4 L271.3,1017.1 L272.3,1015.5 L273.3,1024.9 L274.3,1015.4 L275.3,1011.4 L276.3,1011.1 L277.3,1018 L278.3,1027.2 L279.3,1016 L280.3,1014.6 L281.3,1011.3 L282.3,1003.5 L283.3,1018.1 L284.3,1013.4 L285.3,1012.5 L286.3,1017.7 L287.3,1009.9 L288.3,1015.3 L289.3,1013.1 L290.3,1006.4 L291.3,1007.4 L292.3,1003.9 L293.3,1008.3 L294.3,1013.9 L295.3,1009.6 L296.3,1022.6 L297.3,1014.6 L298.3,1017.8 L299.3,1013.8 L300.3,1018.2 L301.3,1011.5 L302.3,1004.5 L303.3,1006.4 L304.3,1008.6 L305.3,1002.5 L306.3,1003.5 L307.3,1003.8 L308.3,999.6 L309.3,998.5 L310.3,1005 L311.3,987.2 L312.3,1000.5 L313.3,992.3 L314.3,1000.6 L315.3,1003.5 L316.3,1009.3 L317.3,990.2 L318.3,1002.3 L319.3,1000.3 L320.3,1001.8 L321.3,1003.6 L322.3,1007.6 L323.3,1000.2 L324.3,1002.2 L325.3,1010 L326.3,994.7 L327.3,999.5 L328.3,998.5 L329.3,1009.4 L330.3,1006.7 L331.3,999.4 L332.3,997 L333.3,1001.6 L334.3,993.5 L335.3,992.8 L336.3,1003 L337.3,994.3 L338.3,1001.3 L339.3,1007.8 L340.3,997 L341.3,1001.1 L342.3,1002.4 L343.3,1006.1 L344.3,1006.3 L345.3,999.8 L346.3,998.5 L347.3,997.4 L348.3,999.9 L349.3,999.7 L350.3,1007.1 L351.3,998.8 L352.3,1001.6 L353.3,1001 L354.3,999.2 L355.3,1011.3 L356.3,1000.2 L357.3,1006.4 L358.3,1000.8 L359.3,1022.6 L360.3,1008.9 L361.3,1010.5 L362.3,1007.7 L363.3,1003.6 L364.3,1009.6 L365.3,1003.1 L366.3,1001.2 L367.3,998.9 L368.3,1013.1 L369.3,1004.6 L370.3,1021.5 L371.3,1001.9 L372.3,1019.3 L373.3,1008.7 L374.3,1012.1 L375.3,1011.2 L376.3,1020.9 L377.3,1013 L378.3,1024.9 L379.3,1011 L380.3,1018.8 L381.3,1023.3 L382.3,1010.5 L383.3,1018.9 L384.3,1019.6 L385.3,1023 L386.3,1027.4 L387.3,1016.5 L388.3,1021.3 L389.3,1022.6 L390.3,1033.1 L391.3,1027.1 L392.3,1025.8 L393.3,1035.9 L394.3,1033.2 L395.3,1019.9 L396.3,1030.6 L397.3,1041.2 L398.3,1035 L399.3,1017.3 L400.3,1032.1 L401.3,1027.2 L402.3,1037.9 L403.3,1037.9 L404.3,1030.6 L405.3,1022.7 L406.3,1036 L407.3,1028.4 L408.3,1030.6 L409.3,1036.3 L410.3,1044.1 L411.3,1031.7 L412.3,1042 L413.3,1046.9 L414.3,1028.5 L415.3,1052.1 L416.3,1037.3 L417.3,1054.6 L418.3,1039.2 L419.3,1048.5 L420.3,1041.3 L421.3,1053.9 L422.3,1046.1 L423.3,1043.5 L424.3,1045.8 L425.3,1043.1 L426.3,1057.4 L427.3,1059.7 L428.3,1060.1 L429.3,1075.8 L430.3,1068.1 L431.3,1057 L432.3,1056.2 L433.3,1064.9 L434.3,1062.8 L435.3,1062 L436.3,1062.6 L437.3,1056 L438.3,1063.9 L439.3,1067.3 L440.3,1052.8 L441.3,1055.6 L442.3,1077.3 L443.3,1074.6 L444.3,1060.3 L445.3,1055.1 L446.3,1078.8 L447.3,1074.7 L448.3,1066 L449.3,1082.9 L450.3,1091.3 L451.3,1082.8 L452.3,1080.3 L453.3,1081 L454.3,1066.9 L455.3,1081.9 L456.3,1087.8 L457.3,1082.1 L458.3,1083.1 L459.3,1078.2 L460.3,1084 L461.3,1088.1 L462.3,1072.8 L463.3,1079.4 L464.3,1078.4 L465.3,1097.6 L466.3,1104.4 L467.3,1087.5 L468.3,1098.6 L469.3,1110.1 L470.3,1098 L471.3,1111.2 L472.3,1089.4 L473.3,1089.7 L474.3,1097.3 L475.3,1111.8 L476.3,1106.9 L477.3,1116.2 L478.3,1109.4 L479.3,1101.8 L480.3,1108.4 L481.3,1116.2 L482.3,1113.7 L483.3,1120.8 L484.3,1125.9 L485.3,1133.8 L486.3,1132.8 L487.3,1116.2 L487.6,1124.2" fill="none" stroke="#6d0000" stroke-width="2.1" />
<path d="M293.1,1068.9 L294.1,1075.5 L295.1,1073 L296.1,1073.9 L297.1,1074 L298.1,1074.9 L299.1,1065.6 L300.1,1070.2 L301.1,1075.4 L302.1,1076.5 L303.1,1068.5 L304.1,1066.2 L305.1,1042.2 L306.1,1047.8 L307.1,1046.4 L308.1,1058 L309.1,1058 L310.1,1058.7 L311.1,1055.2 L312.1,1055.4 L313.1,1051.5 L314.1,1048.8 L315.1,1045.7 L316.1,1046.2 L317.1,1051 L318.1,1041.5 L319.1,1047 L320.1,1045.1 L321.1,1053.7 L322.1,1046.7 L323.1,1048.5 L324.1,1042.8 L325.1,1035.8 L326.1,1057.1 L327.1,1040.7 L328.1,1038.7 L329.1,1039.9 L330.1,1042.8 L331.1,1033.7 L332.1,1048.9 L333.1,1034 L334.1,1039.2 L335.1,1036.7 L336.1,1021.6 L337.1,1025.9 L338.1,1028 L339.1,1020.1 L340.1,1019.1 L341.1,1020.3 L342.1,1026.5 L343.1,1025.3 L344.1,1022.3 L345.1,1024.1 L346.1,1021 L347.1,1027 L348.1,1023 L349.1,1005.4 L350.1,1008.7 L351.1,1008.6 L352.1,1008.8 L353.1,1017.1 L354.1,1019.6 L355.1,1003.3 L356.1,1000.7 L357.1,976.1 L358.1,997.5 L359.1,1008.4 L360.1,998.4 L361.1,1007.7 L362.1,997.2 L363.1,997.9 L364.1,1014.3 L365.1,994.7 L366.1,998.9 L367.1,992.2 L368.1,990.1 L369.1,978.9 L370.1,983.3 L371.1,989.8 L372.1,978 L373.1,974.3 L374.1,982.3 L375.1,975.3 L376.1,969.4 L377.1,971.1 L378.1,967.8 L379.1,968.7 L380.1,962.8 L381.1,970.9 L382.1,955.3 L383.1,961.6 L384.1,963.1 L385.1,956.6 L386.1,953.4 L387.1,960.8 L388.1,951.6 L389.1,959.1 L390.1,949.5 L391.1,954 L392.1,947.8 L393.1,941.8 L394.1,951.9 L395.1,953.5 L396.1,958 L397.1,966.4 L398.1,950.7 L399.1,948.6 L400.1,953.2 L401.1,945.3 L402.1,957.8 L403.1,950 L404.1,949 L405.1,942 L406.1,937.6 L407.1,950 L408.1,946.9 L409.1,950.2 L410.1,947.1 L411.1,946.4 L412.1,961.9 L413.1,954.9 L414.1,947.8 L415.1,934 L416.1,939 L417.1,942.1 L418.1,949.9 L419.1,949 L420.1,946.8 L421.1,943.8 L422.1,942.8 L423.1,938.8 L424.1,937.6 L425.1,931.6 L426.1,955.3 L427.1,968.7 L428.1,930.4 L429.1,927.8 L430.1,942.2 L431.1,947.3 L432.1,955.4 L433.1,959.9 L434.1,963.8 L435.1,954.7 L436.1,954.1 L437.1,959.1 L438.1,954.9 L439.1,946.2 L440.1,960.8 L441.1,950.2 L442.1,964.2 L443.1,958.2 L444.1,958.1 L445.1,944.6 L446.1,935.8 L447.1,949.9 L448.1,967.2 L449.1,940.6 L450.1,937.9 L451.1,967.1 L452.1,957.1 L453.1,962.9 L454.1,961.5 L455.1,962.5 L456.1,955.8 L457.1,969.4 L458.1,958.6 L459.1,977.6 L460.1,986.7 L461.1,965.8 L462.1,969.6 L463.1,980.8 L464.1,980.9 L465.1,980.5 L466.1,985.1 L467.1,972.2 L468.1,969.4 L469.1,991.8 L470.1,992.5 L471.1,978.8 L472.1,1010.8 L473.1,989.1 L474.1,1005.9 L475.1,994.8 L476.1,992.3 L477.1,1001.1 L478.1,1007.8 L479.1,987.4 L480.1,1011.2 L481.1,980.9 L482.1,1018 L483.1,1005.1 L484.1,1029.8 L485.1,1021.6 L486.1,1003.3 L487.1,1018.1 L488.1,1039.9 L489.1,1027.4 L490.1,1030.2 L491.1,1014.4 L492.1,1009.6 L493.1,1048.2 L494.1,1056.7 L495.1,1044.6 L496.1,1061.5 L497.1,1087.8 L498.1,1069.7 L499.1,1059.8 L500.1,1063.5 L501.1,1089.8 L502.1,1063.9 L503.1,1070.4 L504.1,1093.6 L505.1,1061.3 L506.1,1087.8 L507.1,1082.3 L508.1,1091.2 L509.1,1094.1 L510.1,1084.8 L511.1,1097.1 L512.1,1076 L513.1,1067.6 L514.1,1097.7 L515.1,1107.3 L516.1,1115.4 L517.1,1104.9 L518.1,1108.9 L519.1,1099.3 L520.1,1092.9 L521.1,1120.1 L522.1,1082.2 L523.1,1122.1 L524.1,1100.2 L524.5,1125.9" fill="none" stroke="#b60000" stroke-width="2.1" />
<path d="M343,1027.4 L344,1033.1 L345,1028 L346,1025.9 L347,1016.8 L348,1028.3 L349,1027.7 L350,1027.2 L351,1029.5 L352,1012.2 L353,1010.7 L354,1002 L355,1014.6 L356,983.6 L357,1004.6 L358,1003.5 L359,1006.8 L360,999.4 L361,1007.4 L362,990.6 L363,1011 L364,999 L365,1008 L366,1003.9 L367,993.6 L368,1004.5 L369,1005.6 L370,1003.7 L371,1010.5 L372,1003.4 L373,998.8 L374,1003.2 L375,1026.1 L376,1008.1 L377,996.2 L378,996.1 L379,991.7 L380,1010.4 L381,998.6 L382,987.9 L383,1020.4 L384,1002.7 L385,1007 L386,991.3 L387,987 L388,1003.9 L389,1003.1 L390,997 L391,1004.9 L392,999.3 L393,996.9 L394,991.9 L395,1007.1 L396,998.5 L397,1007.7 L398,1004.3 L399,997.7 L400,1004.6 L401,1013.2 L402,1003.5 L403,1006.5 L404,1008.2 L405,1010.4 L406,1012.9 L407,1005.6 L408,1001.9 L409,1017.7 L410,1009.3 L411,1020.1 L412,1015.7 L413,996.1 L414,1020 L415,1016.6 L416,1014.9 L417,1018.8 L418,1025.3 L419,1011.4 L420,1012.5 L421,1027.1 L422,1028.5 L423,1029.4 L424,1006.2 L425,1017.5 L426,1018.9 L427,1021.7 L428,1022.8 L429,1012.6 L430,1009.1 L431,1031.2 L432,1043.3 L433,1027.7 L434,1034.1 L435,1027.1 L436,1031.9 L437,1036.7 L438,1033.1 L439,1049.1 L440,1048.9 L441,1041.5 L442,1007.6 L443,1040.6 L444,1035.4 L445,1025.2 L446,1037.2 L447,1059.8 L448,1064 L449,1046.6 L450,1039 L451,1043.3 L452,1046.5 L453,1038.1 L454,1041 L455,1045.4 L456,1058 L457,1071 L458,1046.6 L459,1068.2 L460,1052.9 L461,1058 L462,1047.8 L463,1053.7 L464,1066.1 L465,1060.5 L466,1055.9 L467,1062.8 L468,1070 L469,1057.9 L470,1078 L471,1059.8 L472,1073.4 L473,1083.8 L474,1075.1 L475,1090.7 L476,1075.7 L477,1088.1 L478,1081.5 L479,1082.2 L480,1081.2 L481,1082 L482,1093.1 L483,1096.2 L484,1082.2 L485,1083.2 L486,1083.8 L487,1076.1 L488,1090.3 L489,1096.6 L490,1103.7 L491,1102.6 L492,1095 L493,1095.2 L494,1105.4 L495,1105.5 L496,1098.4 L497,1100.3 L498,1120.4 L499,1108.7 L500,1113.1 L501,1099.2 L502,1120.9 L503,1107.3 L504,1116.7 L505,1130.6 L506,1135.8 L507,1146.5 L508,1114.9 L509,1119.6 L509.5,1123.2" fill="none" stroke="#920000" stroke-width="2.1" />
<path d="M397.8,995.3 L398.8,984.2 L399.8,987.9 L400.8,996.2 L401.8,990.6 L402.8,986.4 L403.8,986.5 L404.8,979.7 L405.8,1021.5 L406.8,984.7 L407.8,975.2 L408.8,978 L409.8,975.5 L410.8,963.3 L411.8,955.2 L412.8,964.5 L413.8,964 L414.8,966.5 L415.8,965.7 L416.8,967.7 L417.8,965.1 L418.8,963 L419.8,956.4 L420.8,949.8 L421.8,946.5 L422.8,949.8 L423.8,948.4 L424.8,946.3 L425.8,964.1 L426.8,974.8 L427.8,952.6 L428.8,942.1 L429.8,944.8 L430.8,939.7 L431.8,940.2 L432.8,926.5 L433.8,926.3 L434.8,922.4 L435.8,928.9 L436.8,908.8 L437.8,920.3 L438.8,922 L439.8,915.7 L440.8,909.8 L441.8,899.7 L442.8,912.9 L443.8,903.6 L444.8,895.1 L445.8,888.7 L446.8,900.4 L447.8,879.9 L448.8,900.4 L449.8,883.8 L450.8,881.3 L451.8,870.8 L452.8,868.5 L453.8,838.3 L454.8,863 L455.8,864.9 L456.8,853.8 L457.8,861.9 L458.8,841.1 L459.8,817.1 L460.8,785.1 L461.8,805.3 L462.8,815.7 L463.8,815.7 L464.8,798.4 L465.8,797.2 L466.8,797.4 L467.8,783.1 L468.8,783.9 L469.8,766.3 L470.8,803.3 L471.8,754.6 L472.8,737.2 L473.8,754.4 L474.8,764.5 L475.8,740.9 L476.8,726.8 L477.8,738.4 L478.8,724.1 L479.8,752.3 L480.8,773.2 L481.8,768.8 L482.8,729.2 L483.8,755.3 L484.8,759.9 L485.8,751.1 L486.8,768 L487.8,752.7 L488.8,760.5 L489.8,758.3 L490.8,772.5 L491.8,780.4 L492.8,775.2 L493.8,772.7 L494.8,779.6 L495.8,786.6 L496.8,796.8 L497.8,813 L498.8,783.9 L499.8,817.1 L500.8,796 L501.8,802.6 L502.8,820.9 L503.8,795.1 L504.8,820.6 L505.8,801.7 L506.8,838.7 L507.8,853.5 L508.8,862.5 L509.8,846.3 L510.8,826.4 L511.8,846.3 L512.8,835.6 L513.8,840 L514.8,836.9 L515.8,852.5 L516.8,863.2 L517.8,854.2 L518.8,865.2 L519.8,895.7 L520.8,862.3 L521.8,873.5 L522.8,908.3 L523.8,893.1 L524.8,900.2 L525.8,921.4 L526.8,853.7 L527.8,895.9 L528.8,917.2 L529.8,916.1 L530.8,920.9 L531.8,944.2 L532.8,956.1 L533.8,965.3 L534.8,941.1 L535.8,956.8 L536.8,949 L537.8,950.8 L538.8,950.7 L539.8,973.1 L540.8,996.7 L541.8,987.4 L542.8,974.7 L543.8,963.4 L544.8,998.8 L545.8,976.7 L546.8,988.3 L547.8,1019.1 L548.8,994.9 L549.8,968.1 L550.8,974.5 L551.8,1004.1 L552.8,1102.6 L553.8,1018.7 L554.8,1043.5 L555.8,1053 L556.8,1004.8 L557.8,1086.7 L558.8,1063.3 L559.8,1077.9 L560.8,1077.7 L561.8,1099.6 L562.8,1094.8 L563.8,1071.7 L564.8,1136 L565.8,1103.1 L566.8,1140.2 L567.8,1104.6 L568.4,1121.5" fill="none" stroke="#ff0000" stroke-width="2.1" />
<path d="M442.7,872.8 L443.7,892.1 L444.7,870.2 L445.7,890.3 L446.7,901.5 L447.7,900.5 L448.7,886.6 L449.7,896.9 L450.7,889.8 L451.7,890.6 L452.7,894.8 L453.7,890.9 L454.7,878.9 L455.7,877.7 L456.7,910.4 L457.7,870 L458.7,873.1 L459.7,886.4 L460.7,867.4 L461.7,857.6 L462.7,874.6 L463.7,890.1 L464.7,871.4 L465.7,862.9 L466.7,860.4 L467.7,861.1 L468.7,860.5 L469.7,884.9 L470.7,878 L471.7,859.5 L472.7,843.7 L473.7,871.9 L474.7,848.1 L475.7,884 L476.7,889.8 L477.7,889.8 L478.7,890 L479.7,864.4 L480.7,885.5 L481.7,909.4 L482.7,882.7 L483.7,899.5 L484.7,909.7 L485.7,905.9 L486.7,922.3 L487.7,905.1 L488.7,911.9 L489.7,914.7 L490.7,896 L491.7,915.4 L492.7,919.8 L493.7,918.3 L494.7,904.4 L495.7,916.1 L496.7,886.8 L497.7,910.9 L498.7,938.4 L499.7,907.6 L500.7,943 L501.7,932 L502.7,943 L503.7,947 L504.7,961.6 L505.7,945 L506.7,890.2 L507.7,919.2 L508.7,924.1 L509.7,947.4 L510.7,958.1 L511.7,996.6 L512.7,989 L513.7,982.2 L514.7,991.5 L515.7,975.9 L516.7,1012.1 L517.7,1009.1 L518.7,1009 L519.7,1010.4 L520.7,1012.6 L521.7,1009.7 L522.7,1007.4 L523.7,1031.1 L524.7,1029.1 L525.7,1016.4 L526.7,1018 L527.7,1041.9 L528.7,1049.1 L529.7,1017.7 L530.7,1036.4 L531.7,1016.5 L532.7,1082.3 L533.7,1035 L534.7,1029.8 L535.7,1044.3 L536.7,1045.6 L537.7,1060 L538.7,1058.6 L539.7,1045.3 L540.7,1083.9 L541.7,1061 L542.7,1079.4 L543.7,1111 L544.7,1056.7 L545.7,1089 L546.7,1113.7 L547.7,1113.2 L548.7,1072.6 L549.7,1089.9 L550.7,1085.1 L551.7,1144.2 L552.7,1138.7 L553.7,1112.1 L554.7,1143.2 L555.4,1128.4" fill="none" stroke="#ee0000" stroke-width="2.1" />
</g>
<line x1="118.7" y1="708" x2="118.7" y2="1124.9" stroke="#000" stroke-width="1.9" />
<line x1="118.7" y1="1124.1" x2="618.6" y2="1124.1" stroke="#000" stroke-width="1.9" />
<line x1="168.4" y1="1124.1" x2="168.4" y2="1130.1" stroke="#000" stroke-width="1.9" />
<text x="168.4" y="1154.5" font-size="29.2" text-anchor="middle" fill="#000" stroke="#000" >400</text>
<line x1="268.15" y1="1124.1" x2="268.15" y2="1130.1" stroke="#000" stroke-width="1.9" />
<text x="268.15" y="1154.5" font-size="29.2" text-anchor="middle" fill="#000" stroke="#000" >500</text>
<line x1="367.9" y1="1124.1" x2="367.9" y2="1130.1" stroke="#000" stroke-width="1.9" />
<text x="367.9" y="1154.5" font-size="29.2" text-anchor="middle" fill="#000" stroke="#000" >600</text>
<line x1="467.65" y1="1124.1" x2="467.65" y2="1130.1" stroke="#000" stroke-width="1.9" />
<text x="467.65" y="1154.5" font-size="29.2" text-anchor="middle" fill="#000" stroke="#000" >700</text>
<line x1="567.4" y1="1124.1" x2="567.4" y2="1130.1" stroke="#000" stroke-width="1.9" />
<text x="567.4" y="1154.5" font-size="29.2" text-anchor="middle" fill="#000" stroke="#000" >800</text>
<line x1="118.53" y1="1124.1" x2="118.53" y2="1127.1" stroke="#000" stroke-width="1.9" />
<line x1="218.28" y1="1124.1" x2="218.28" y2="1127.1" stroke="#000" stroke-width="1.9" />
<line x1="318.02" y1="1124.1" x2="318.02" y2="1127.1" stroke="#000" stroke-width="1.9" />
<line x1="417.77" y1="1124.1" x2="417.77" y2="1127.1" stroke="#000" stroke-width="1.9" />
<line x1="517.52" y1="1124.1" x2="517.52" y2="1127.1" stroke="#000" stroke-width="1.9" />
<line x1="617.27" y1="1124.1" x2="617.27" y2="1127.1" stroke="#000" stroke-width="1.9" />
<text x="368" y="1202" font-size="29.2" text-anchor="middle" fill="#000" stroke="#000" >λ (nm)</text>
<text x="88" y="915.5" font-size="29.2" text-anchor="middle" fill="#000" stroke="#000" transform="rotate(-90 88 915.5)" >Intensity (arb.units)</text>
<line x1="131" y1="740" x2="165.8" y2="740" stroke="#000000" stroke-width="2.2" />
<text x="172.3" y="750.2" font-size="29.2" text-anchor="start" fill="#000" stroke="#000" >350</text>
<line x1="131" y1="776.65" x2="165.8" y2="776.65" stroke="#240000" stroke-width="2.2" />
<text x="172.3" y="786.85" font-size="29.2" text-anchor="start" fill="#000" stroke="#000" >365</text>
<line x1="131" y1="813.3" x2="165.8" y2="813.3" stroke="#490000" stroke-width="2.2" />
<text x="172.8" y="823.5" font-size="29.2" text-anchor="start" fill="#000" stroke="#000" >400</text>
<line x1="131" y1="849.95" x2="165.8" y2="849.95" stroke="#6d0000" stroke-width="2.2" />
<text x="172.8" y="860.15" font-size="29.2" text-anchor="start" fill="#000" stroke="#000" >450</text>
<line x1="131" y1="886.6" x2="165.8" y2="886.6" stroke="#920000" stroke-width="2.2" />
<text x="172.05" y="896.8" font-size="29.2" text-anchor="start" fill="#000" stroke="#000" >500</text>
<line x1="131" y1="923.25" x2="165.8" y2="923.25" stroke="#b60000" stroke-width="2.2" />
<text x="172.05" y="933.45" font-size="29.2" text-anchor="start" fill="#000" stroke="#000" >550</text>
<line x1="131" y1="959.9" x2="165.8" y2="959.9" stroke="#db0000" stroke-width="2.2" />
<text x="171.8" y="970.1" font-size="29.2" text-anchor="start" fill="#000" stroke="#000" >600</text>
<line x1="131" y1="996.55" x2="165.8" y2="996.55" stroke="#ff0000" stroke-width="2.2" />
<text x="171.8" y="1006.75" font-size="29.2" text-anchor="start" fill="#000" stroke="#000" >650</text>
<text x="-0.25" y="665" font-size="29.2" text-anchor="start" fill="#000" stroke="#000" >d)</text>
</g>
<g id="pe">
<path d="M779.7,1107.3 L789.4,1086.2 L799.2,1076.2 L809,1037.6 L818.8,1031.8 L828.5,1004 L848.1,993.2 L857.9,973.7 L867.6,954.6 L877.4,945 L887.2,932.6 L897,910.6 L906.8,908.9 L916.5,911.8 L926.3,910.6 L936.1,910.2 L955.6,919.7 L965.4,926.3 L975.2,936.7 L985,945.9 L994.7,956.2 L1004.5,972.8 L1014.3,984.5 L1024,986.9 L1033.8,1017.2 L1043.6,1026.8 L1053.4,1054.2 L1063.2,1067.1 L1072.9,1076.2 L1082.7,1096.1 L1092.5,1104.8" fill="none" stroke="#000" stroke-width="2.2" stroke-linejoin="round"/>
<circle cx="779.67" cy="1107.33" r="6.9" fill="none" stroke="#000" stroke-width="1.2"/>
<circle cx="789.45" cy="1086.16" r="6.9" fill="none" stroke="#000" stroke-width="1.2"/>
<circle cx="799.23" cy="1076.19" r="6.9" fill="none" stroke="#000" stroke-width="1.2"/>
<circle cx="809" cy="1037.59" r="6.9" fill="none" stroke="#000" stroke-width="1.2"/>
<circle cx="818.77" cy="1031.78" r="6.9" fill="none" stroke="#000" stroke-width="1.2"/>
<circle cx="828.55" cy="1003.97" r="6.9" fill="none" stroke="#000" stroke-width="1.2"/>
<circle cx="848.1" cy="993.17" r="6.9" fill="none" stroke="#000" stroke-width="1.2"/>
<circle cx="857.88" cy="973.66" r="6.9" fill="none" stroke="#000" stroke-width="1.2"/>
<circle cx="867.65" cy="954.57" r="6.9" fill="none" stroke="#000" stroke-width="1.2"/>
<circle cx="877.42" cy="945.02" r="6.9" fill="none" stroke="#000" stroke-width="1.2"/>
<circle cx="887.2" cy="932.57" r="6.9" fill="none" stroke="#000" stroke-width="1.2"/>
<circle cx="896.98" cy="910.57" r="6.9" fill="none" stroke="#000" stroke-width="1.2"/>
<circle cx="906.75" cy="908.91" r="6.9" fill="none" stroke="#000" stroke-width="1.2"/>
<circle cx="916.52" cy="911.81" r="6.9" fill="none" stroke="#000" stroke-width="1.2"/>
<circle cx="926.3" cy="910.57" r="6.9" fill="none" stroke="#000" stroke-width="1.2"/>
<circle cx="936.08" cy="910.15" r="6.9" fill="none" stroke="#000" stroke-width="1.2"/>
<circle cx="955.62" cy="919.7" r="6.9" fill="none" stroke="#000" stroke-width="1.2"/>
<circle cx="965.4" cy="926.34" r="6.9" fill="none" stroke="#000" stroke-width="1.2"/>
<circle cx="975.17" cy="936.72" r="6.9" fill="none" stroke="#000" stroke-width="1.2"/>
<circle cx="984.95" cy="945.85" r="6.9" fill="none" stroke="#000" stroke-width="1.2"/>
<circle cx="994.73" cy="956.23" r="6.9" fill="none" stroke="#000" stroke-width="1.2"/>
<circle cx="1004.5" cy="972.83" r="6.9" fill="none" stroke="#000" stroke-width="1.2"/>
<circle cx="1014.27" cy="984.46" r="6.9" fill="none" stroke="#000" stroke-width="1.2"/>
<circle cx="1024.05" cy="986.95" r="6.9" fill="none" stroke="#000" stroke-width="1.2"/>
<circle cx="1033.83" cy="1017.25" r="6.9" fill="none" stroke="#000" stroke-width="1.2"/>
<circle cx="1043.6" cy="1026.8" r="6.9" fill="none" stroke="#000" stroke-width="1.2"/>
<circle cx="1053.38" cy="1054.19" r="6.9" fill="none" stroke="#000" stroke-width="1.2"/>
<circle cx="1063.15" cy="1067.06" r="6.9" fill="none" stroke="#000" stroke-width="1.2"/>
<circle cx="1072.92" cy="1076.19" r="6.9" fill="none" stroke="#000" stroke-width="1.2"/>
<circle cx="1082.7" cy="1096.12" r="6.9" fill="none" stroke="#000" stroke-width="1.2"/>
<circle cx="1092.47" cy="1104.84" r="6.9" fill="none" stroke="#000" stroke-width="1.2"/>
<path d="M769.9,1114.8 L779.7,1114 L789.4,1114.8 L799.2,1107.3 L809,1105.7 L818.8,1095.7 L828.5,1102.3 L838.3,1078.7 L848.1,1068.7 L857.9,1065.4 L867.6,1048.4 L877.4,1040.9 L887.2,1030.1 L897,1021.4 L906.8,1013.1 L916.5,1004 L926.3,1002.7 L936.1,994.4 L945.9,1009.8 L955.6,991.5 L965.4,1000.6 L975.2,980.3 L985,992.3 L994.7,996.9 L1004.5,1002.7 L1014.3,1007.3 L1024,1017.2 L1033.8,1026 L1043.6,1023.5 L1053.4,1033.9 L1063.2,1041.7 L1072.9,1062.1 L1082.7,1073.3 L1092.5,1081.2 L1102.2,1099.4" fill="none" stroke="#000" stroke-width="2.2" stroke-linejoin="round"/>
<circle cx="769.9" cy="1114.8" r="7.1" fill="#000"/>
<circle cx="779.67" cy="1113.97" r="7.1" fill="#000"/>
<circle cx="789.45" cy="1114.8" r="7.1" fill="#000"/>
<circle cx="799.23" cy="1107.33" r="7.1" fill="#000"/>
<circle cx="809" cy="1105.67" r="7.1" fill="#000"/>
<circle cx="818.77" cy="1095.7" r="7.1" fill="#000"/>
<circle cx="828.55" cy="1102.34" r="7.1" fill="#000"/>
<circle cx="838.32" cy="1078.68" r="7.1" fill="#000"/>
<circle cx="848.1" cy="1068.72" r="7.1" fill="#000"/>
<circle cx="857.88" cy="1065.4" r="7.1" fill="#000"/>
<circle cx="867.65" cy="1048.38" r="7.1" fill="#000"/>
<circle cx="877.42" cy="1040.91" r="7.1" fill="#000"/>
<circle cx="887.2" cy="1030.12" r="7.1" fill="#000"/>
<circle cx="896.98" cy="1021.4" r="7.1" fill="#000"/>
<circle cx="906.75" cy="1013.1" r="7.1" fill="#000"/>
<circle cx="916.52" cy="1003.97" r="7.1" fill="#000"/>
<circle cx="926.3" cy="1002.72" r="7.1" fill="#000"/>
<circle cx="936.08" cy="994.42" r="7.1" fill="#000"/>
<circle cx="945.85" cy="1009.78" r="7.1" fill="#000"/>
<circle cx="955.62" cy="991.51" r="7.1" fill="#000"/>
<circle cx="965.4" cy="1000.65" r="7.1" fill="#000"/>
<circle cx="975.17" cy="980.31" r="7.1" fill="#000"/>
<circle cx="984.95" cy="992.34" r="7.1" fill="#000"/>
<circle cx="994.73" cy="996.91" r="7.1" fill="#000"/>
<circle cx="1004.5" cy="1002.72" r="7.1" fill="#000"/>
<circle cx="1014.27" cy="1007.29" r="7.1" fill="#000"/>
<circle cx="1024.05" cy="1017.25" r="7.1" fill="#000"/>
<circle cx="1033.83" cy="1025.97" r="7.1" fill="#000"/>
<circle cx="1043.6" cy="1023.48" r="7.1" fill="#000"/>
<circle cx="1053.38" cy="1033.85" r="7.1" fill="#000"/>
<circle cx="1063.15" cy="1041.74" r="7.1" fill="#000"/>
<circle cx="1072.92" cy="1062.08" r="7.1" fill="#000"/>
<circle cx="1082.7" cy="1073.29" r="7.1" fill="#000"/>
<circle cx="1092.47" cy="1081.17" r="7.1" fill="#000"/>
<circle cx="1102.25" cy="1099.44" r="7.1" fill="#000"/>
<path d="M882.3,874 L892.1,911.8 L901.9,859.1 L911.6,862.4 L921.4,828.4 L931.2,815.9 L941,850.4 L950.7,836.3 L960.5,872 L970.3,829.2 L980.1,813 L989.8,809.7 L999.6,874 L1009.4,889 L1019.2,881.5 L1028.9,840 L1038.7,870.3 L1048.5,895.6 L1058.3,906.4 L1068,902.3 L1077.8,927.6 L1087.6,947.5 L1097.4,971.2 L1107.1,980.7 L1116.9,982.8 L1126.7,972.8 L1136.5,992.3 L1146.2,972.8 L1156,976.2 L1165.8,971.2 L1175.6,957.1 L1185.3,975.7 L1195.1,973.7 L1204.9,986.1 L1214.7,986.9 L1224.4,986.1" fill="none" stroke="#800000" stroke-width="2.2" stroke-linejoin="round"/>
<circle cx="882.31" cy="874.04" r="6.9" fill="none" stroke="#800000" stroke-width="1.2"/>
<circle cx="892.09" cy="911.81" r="6.9" fill="none" stroke="#800000" stroke-width="1.2"/>
<circle cx="901.86" cy="859.1" r="6.9" fill="none" stroke="#800000" stroke-width="1.2"/>
<circle cx="911.64" cy="862.42" r="6.9" fill="none" stroke="#800000" stroke-width="1.2"/>
<circle cx="921.41" cy="828.38" r="6.9" fill="none" stroke="#800000" stroke-width="1.2"/>
<circle cx="931.19" cy="815.93" r="6.9" fill="none" stroke="#800000" stroke-width="1.2"/>
<circle cx="940.96" cy="850.38" r="6.9" fill="none" stroke="#800000" stroke-width="1.2"/>
<circle cx="950.74" cy="836.27" r="6.9" fill="none" stroke="#800000" stroke-width="1.2"/>
<circle cx="960.51" cy="871.96" r="6.9" fill="none" stroke="#800000" stroke-width="1.2"/>
<circle cx="970.29" cy="829.21" r="6.9" fill="none" stroke="#800000" stroke-width="1.2"/>
<circle cx="980.06" cy="813.02" r="6.9" fill="none" stroke="#800000" stroke-width="1.2"/>
<circle cx="989.84" cy="809.7" r="6.9" fill="none" stroke="#800000" stroke-width="1.2"/>
<circle cx="999.61" cy="874.04" r="6.9" fill="none" stroke="#800000" stroke-width="1.2"/>
<circle cx="1009.39" cy="888.98" r="6.9" fill="none" stroke="#800000" stroke-width="1.2"/>
<circle cx="1019.16" cy="881.51" r="6.9" fill="none" stroke="#800000" stroke-width="1.2"/>
<circle cx="1028.94" cy="840" r="6.9" fill="none" stroke="#800000" stroke-width="1.2"/>
<circle cx="1038.71" cy="870.3" r="6.9" fill="none" stroke="#800000" stroke-width="1.2"/>
<circle cx="1048.49" cy="895.63" r="6.9" fill="none" stroke="#800000" stroke-width="1.2"/>
<circle cx="1058.26" cy="906.42" r="6.9" fill="none" stroke="#800000" stroke-width="1.2"/>
<circle cx="1068.04" cy="902.27" r="6.9" fill="none" stroke="#800000" stroke-width="1.2"/>
<circle cx="1077.81" cy="927.59" r="6.9" fill="none" stroke="#800000" stroke-width="1.2"/>
<circle cx="1087.59" cy="947.51" r="6.9" fill="none" stroke="#800000" stroke-width="1.2"/>
<circle cx="1097.36" cy="971.17" r="6.9" fill="none" stroke="#800000" stroke-width="1.2"/>
<circle cx="1107.14" cy="980.72" r="6.9" fill="none" stroke="#800000" stroke-width="1.2"/>
<circle cx="1116.91" cy="982.8" r="6.9" fill="none" stroke="#800000" stroke-width="1.2"/>
<circle cx="1126.69" cy="972.83" r="6.9" fill="none" stroke="#800000" stroke-width="1.2"/>
<circle cx="1136.46" cy="992.34" r="6.9" fill="none" stroke="#800000" stroke-width="1.2"/>
<circle cx="1146.24" cy="972.83" r="6.9" fill="none" stroke="#800000" stroke-width="1.2"/>
<circle cx="1156.01" cy="976.15" r="6.9" fill="none" stroke="#800000" stroke-width="1.2"/>
<circle cx="1165.79" cy="971.17" r="6.9" fill="none" stroke="#800000" stroke-width="1.2"/>
<circle cx="1175.56" cy="957.06" r="6.9" fill="none" stroke="#800000" stroke-width="1.2"/>
<circle cx="1185.34" cy="975.74" r="6.9" fill="none" stroke="#800000" stroke-width="1.2"/>
<circle cx="1195.11" cy="973.66" r="6.9" fill="none" stroke="#800000" stroke-width="1.2"/>
<circle cx="1204.89" cy="986.12" r="6.9" fill="none" stroke="#800000" stroke-width="1.2"/>
<circle cx="1214.66" cy="986.95" r="6.9" fill="none" stroke="#800000" stroke-width="1.2"/>
<circle cx="1224.44" cy="986.12" r="6.9" fill="none" stroke="#800000" stroke-width="1.2"/>
<path d="M892.1,906.4 L901.9,913.9 L911.6,900.6 L921.4,898.9 L931.2,894 L941,889.4 L950.7,886.1 L960.5,872.8 L970.3,874.9 L980.1,884.4 L989.8,868.6 L999.6,876.9 L1009.4,869.5 L1019.2,862 L1028.9,880.3 L1038.7,882.3 L1048.5,882.8 L1058.3,885.7 L1068,871.5 L1077.8,878.6 L1087.6,884.8 L1097.4,882.8 L1107.1,905.6 L1116.9,912.2 L1126.7,925.9 L1136.5,928 L1146.2,944.2 L1156,952.9 L1165.8,955.4 L1175.6,964.5 L1185.3,977.4 L1195.1,977.8 L1204.9,989.9 L1214.7,1008.1 L1224.4,1007.3" fill="none" stroke="#800000" stroke-width="2.2" stroke-linejoin="round"/>
<circle cx="892.09" cy="906.42" r="7.1" fill="#800000"/>
<circle cx="901.86" cy="913.89" r="7.1" fill="#800000"/>
<circle cx="911.64" cy="900.61" r="7.1" fill="#800000"/>
<circle cx="921.41" cy="898.95" r="7.1" fill="#800000"/>
<circle cx="931.19" cy="893.96" r="7.1" fill="#800000"/>
<circle cx="940.96" cy="889.4" r="7.1" fill="#800000"/>
<circle cx="950.74" cy="886.08" r="7.1" fill="#800000"/>
<circle cx="960.51" cy="872.79" r="7.1" fill="#800000"/>
<circle cx="970.29" cy="874.87" r="7.1" fill="#800000"/>
<circle cx="980.06" cy="884.42" r="7.1" fill="#800000"/>
<circle cx="989.84" cy="868.64" r="7.1" fill="#800000"/>
<circle cx="999.61" cy="876.95" r="7.1" fill="#800000"/>
<circle cx="1009.39" cy="869.47" r="7.1" fill="#800000"/>
<circle cx="1019.16" cy="862" r="7.1" fill="#800000"/>
<circle cx="1028.94" cy="880.27" r="7.1" fill="#800000"/>
<circle cx="1038.71" cy="882.34" r="7.1" fill="#800000"/>
<circle cx="1048.49" cy="882.76" r="7.1" fill="#800000"/>
<circle cx="1058.26" cy="885.66" r="7.1" fill="#800000"/>
<circle cx="1068.04" cy="871.55" r="7.1" fill="#800000"/>
<circle cx="1077.81" cy="878.61" r="7.1" fill="#800000"/>
<circle cx="1087.59" cy="884.83" r="7.1" fill="#800000"/>
<circle cx="1097.36" cy="882.76" r="7.1" fill="#800000"/>
<circle cx="1107.14" cy="905.59" r="7.1" fill="#800000"/>
<circle cx="1116.91" cy="912.23" r="7.1" fill="#800000"/>
<circle cx="1126.69" cy="925.93" r="7.1" fill="#800000"/>
<circle cx="1136.46" cy="928" r="7.1" fill="#800000"/>
<circle cx="1146.24" cy="944.19" r="7.1" fill="#800000"/>
<circle cx="1156.01" cy="952.91" r="7.1" fill="#800000"/>
<circle cx="1165.79" cy="955.4" r="7.1" fill="#800000"/>
<circle cx="1175.56" cy="964.53" r="7.1" fill="#800000"/>
<circle cx="1185.34" cy="977.4" r="7.1" fill="#800000"/>
<circle cx="1195.11" cy="977.81" r="7.1" fill="#800000"/>
<circle cx="1204.89" cy="989.85" r="7.1" fill="#800000"/>
<circle cx="1214.66" cy="1008.12" r="7.1" fill="#800000"/>
<circle cx="1224.44" cy="1007.29" r="7.1" fill="#800000"/>
<path d="M1058.3,791 L1068,777.7 L1077.8,846.2 L1087.6,821.7 L1097.4,832.5 L1107.1,823.4 L1116.9,861.6 L1126.7,872 L1136.5,876.9 L1146.2,883.6 L1156,904.8 L1165.8,889 L1175.6,894.8 L1185.3,890.6 L1195.1,898.9 L1204.9,908.9 L1214.7,919.7 L1224.4,930.9 L1234.2,969.5 L1244,989.9" fill="none" stroke="#ff0000" stroke-width="2.2" stroke-linejoin="round"/>
<circle cx="1058.26" cy="791.02" r="6.9" fill="none" stroke="#ff0000" stroke-width="1.2"/>
<circle cx="1068.04" cy="777.74" r="6.9" fill="none" stroke="#ff0000" stroke-width="1.2"/>
<circle cx="1077.81" cy="846.23" r="6.9" fill="none" stroke="#ff0000" stroke-width="1.2"/>
<circle cx="1087.59" cy="821.74" r="6.9" fill="none" stroke="#ff0000" stroke-width="1.2"/>
<circle cx="1097.36" cy="832.53" r="6.9" fill="none" stroke="#ff0000" stroke-width="1.2"/>
<circle cx="1107.14" cy="823.4" r="6.9" fill="none" stroke="#ff0000" stroke-width="1.2"/>
<circle cx="1116.91" cy="861.59" r="6.9" fill="none" stroke="#ff0000" stroke-width="1.2"/>
<circle cx="1126.69" cy="871.96" r="6.9" fill="none" stroke="#ff0000" stroke-width="1.2"/>
<circle cx="1136.46" cy="876.95" r="6.9" fill="none" stroke="#ff0000" stroke-width="1.2"/>
<circle cx="1146.24" cy="883.59" r="6.9" fill="none" stroke="#ff0000" stroke-width="1.2"/>
<circle cx="1156.01" cy="904.76" r="6.9" fill="none" stroke="#ff0000" stroke-width="1.2"/>
<circle cx="1165.79" cy="888.98" r="6.9" fill="none" stroke="#ff0000" stroke-width="1.2"/>
<circle cx="1175.56" cy="894.79" r="6.9" fill="none" stroke="#ff0000" stroke-width="1.2"/>
<circle cx="1185.34" cy="890.64" r="6.9" fill="none" stroke="#ff0000" stroke-width="1.2"/>
<circle cx="1195.11" cy="898.95" r="6.9" fill="none" stroke="#ff0000" stroke-width="1.2"/>
<circle cx="1204.89" cy="908.91" r="6.9" fill="none" stroke="#ff0000" stroke-width="1.2"/>
<circle cx="1214.66" cy="919.7" r="6.9" fill="none" stroke="#ff0000" stroke-width="1.2"/>
<circle cx="1224.44" cy="930.91" r="6.9" fill="none" stroke="#ff0000" stroke-width="1.2"/>
<circle cx="1234.21" cy="969.51" r="6.9" fill="none" stroke="#ff0000" stroke-width="1.2"/>
<circle cx="1243.99" cy="989.85" r="6.9" fill="none" stroke="#ff0000" stroke-width="1.2"/>
<path d="M1058.3,715.9 L1068,724.2 L1077.8,747 L1087.6,767.4 L1097.4,785.2 L1107.1,806.4 L1116.9,825.1 L1126.7,824.2 L1136.5,843.3 L1146.2,840 L1156,862 L1165.8,882.3 L1175.6,897.3 L1185.3,897.3 L1195.1,936.7 L1204.9,936.7 L1214.7,955.4 L1224.4,969.5 L1234.2,971.2 L1244,976.2 L1253.8,989.9" fill="none" stroke="#ff0000" stroke-width="2.2" stroke-linejoin="round"/>
<circle cx="1058.26" cy="715.89" r="7.1" fill="#ff0000"/>
<circle cx="1068.04" cy="724.19" r="7.1" fill="#ff0000"/>
<circle cx="1077.81" cy="747.02" r="7.1" fill="#ff0000"/>
<circle cx="1087.59" cy="767.36" r="7.1" fill="#ff0000"/>
<circle cx="1097.36" cy="785.21" r="7.1" fill="#ff0000"/>
<circle cx="1107.14" cy="806.38" r="7.1" fill="#ff0000"/>
<circle cx="1116.91" cy="825.06" r="7.1" fill="#ff0000"/>
<circle cx="1126.69" cy="824.23" r="7.1" fill="#ff0000"/>
<circle cx="1136.46" cy="843.32" r="7.1" fill="#ff0000"/>
<circle cx="1146.24" cy="840" r="7.1" fill="#ff0000"/>
<circle cx="1156.01" cy="862" r="7.1" fill="#ff0000"/>
<circle cx="1165.79" cy="882.34" r="7.1" fill="#ff0000"/>
<circle cx="1175.56" cy="897.29" r="7.1" fill="#ff0000"/>
<circle cx="1185.34" cy="897.29" r="7.1" fill="#ff0000"/>
<circle cx="1195.11" cy="936.72" r="7.1" fill="#ff0000"/>
<circle cx="1204.89" cy="936.72" r="7.1" fill="#ff0000"/>
<circle cx="1214.66" cy="955.4" r="7.1" fill="#ff0000"/>
<circle cx="1224.44" cy="969.51" r="7.1" fill="#ff0000"/>
<circle cx="1234.21" cy="971.17" r="7.1" fill="#ff0000"/>
<circle cx="1243.99" cy="976.15" r="7.1" fill="#ff0000"/>
<circle cx="1253.76" cy="989.85" r="7.1" fill="#ff0000"/>
<line x1="760.8" y1="707.3" x2="760.8" y2="1123.9" stroke="#000" stroke-width="1.9" />
<line x1="760.8" y1="1123.1" x2="1259.1" y2="1123.1" stroke="#000" stroke-width="1.9" />
<line x1="769.9" y1="1123.1" x2="769.9" y2="1129.1" stroke="#000" stroke-width="1.9" />
<text x="769.9" y="1153" font-size="29.2" text-anchor="middle" fill="#000" stroke="#000" >400</text>
<line x1="867.65" y1="1123.1" x2="867.65" y2="1129.1" stroke="#000" stroke-width="1.9" />
<text x="867.65" y="1153" font-size="29.2" text-anchor="middle" fill="#000" stroke="#000" >500</text>
<line x1="965.4" y1="1123.1" x2="965.4" y2="1129.1" stroke="#000" stroke-width="1.9" />
<text x="965.4" y="1153" font-size="29.2" text-anchor="middle" fill="#000" stroke="#000" >600</text>
<line x1="1063.15" y1="1123.1" x2="1063.15" y2="1129.1" stroke="#000" stroke-width="1.9" />
<text x="1063.15" y="1153" font-size="29.2" text-anchor="middle" fill="#000" stroke="#000" >700</text>
<line x1="1160.9" y1="1123.1" x2="1160.9" y2="1129.1" stroke="#000" stroke-width="1.9" />
<text x="1160.9" y="1153" font-size="29.2" text-anchor="middle" fill="#000" stroke="#000" >800</text>
<line x1="1258.65" y1="1123.1" x2="1258.65" y2="1129.1" stroke="#000" stroke-width="1.9" />
<text x="1258.65" y="1153" font-size="29.2" text-anchor="middle" fill="#000" stroke="#000" >900</text>
<line x1="818.77" y1="1123.1" x2="818.77" y2="1126.1" stroke="#000" stroke-width="1.9" />
<line x1="916.52" y1="1123.1" x2="916.52" y2="1126.1" stroke="#000" stroke-width="1.9" />
<line x1="1014.27" y1="1123.1" x2="1014.27" y2="1126.1" stroke="#000" stroke-width="1.9" />
<line x1="1112.03" y1="1123.1" x2="1112.03" y2="1126.1" stroke="#000" stroke-width="1.9" />
<line x1="1209.78" y1="1123.1" x2="1209.78" y2="1126.1" stroke="#000" stroke-width="1.9" />
<line x1="760.8" y1="1123.1" x2="754.8" y2="1123.1" stroke="#000" stroke-width="1.9" />
<text x="752.41" y="1131.5" font-size="29.2" text-anchor="end" fill="#000" stroke="#000" >0.0</text>
<line x1="760.8" y1="1040.08" x2="754.8" y2="1040.08" stroke="#000" stroke-width="1.9" />
<text x="752.91" y="1048.48" font-size="29.2" text-anchor="end" fill="#000" stroke="#000" >0.2</text>
<line x1="760.8" y1="957.06" x2="754.8" y2="957.06" stroke="#000" stroke-width="1.9" />
<text x="752.16" y="965.46" font-size="29.2" text-anchor="end" fill="#000" stroke="#000" >0.4</text>
<line x1="760.8" y1="874.04" x2="754.8" y2="874.04" stroke="#000" stroke-width="1.9" />
<text x="752.66" y="882.44" font-size="29.2" text-anchor="end" fill="#000" stroke="#000" >0.6</text>
<line x1="760.8" y1="791.02" x2="754.8" y2="791.02" stroke="#000" stroke-width="1.9" />
<text x="752.66" y="799.42" font-size="29.2" text-anchor="end" fill="#000" stroke="#000" >0.8</text>
<line x1="760.8" y1="708" x2="754.8" y2="708" stroke="#000" stroke-width="1.9" />
<text x="752.41" y="716.4" font-size="29.2" text-anchor="end" fill="#000" stroke="#000" >1.0</text>
<line x1="760.8" y1="1081.59" x2="757.8" y2="1081.59" stroke="#000" stroke-width="1.9" />
<line x1="760.8" y1="998.57" x2="757.8" y2="998.57" stroke="#000" stroke-width="1.9" />
<line x1="760.8" y1="915.55" x2="757.8" y2="915.55" stroke="#000" stroke-width="1.9" />
<line x1="760.8" y1="832.53" x2="757.8" y2="832.53" stroke="#000" stroke-width="1.9" />
<line x1="760.8" y1="749.51" x2="757.8" y2="749.51" stroke="#000" stroke-width="1.9" />
<text x="942.5" y="701.6" font-size="29.2" text-anchor="start" fill="#ff0000" stroke="#ff0000" >640 nm</text>
<text x="851.8" y="795.4" font-size="29.2" text-anchor="start" fill="#800000" stroke="#800000" >470 nm</text>
<text x="771.6" y="928.2" font-size="29.2" text-anchor="start" fill="#000" stroke="#000" >375 nm</text>
<circle cx="1173.5" cy="700.4" r="6.9" fill="none" stroke="#000" stroke-width="1.2"/>
<circle cx="1174.8" cy="744.9" r="7.3" fill="#000"/>
<text x="1197.05" y="708.7" font-size="29.2" text-anchor="start" fill="#000" stroke="#000" >PHT</text>
<text x="1196.45" y="753.2" font-size="29.2" text-anchor="start" fill="#000" stroke="#000" >PYT</text>
<text x="687.35" y="665.3" font-size="29.2" text-anchor="start" fill="#000" stroke="#000" >e)</text>
<text x="703.5" y="918" font-size="29.2" text-anchor="middle" fill="#000" stroke="#000" transform="rotate(-90 703.5 918)" >τ (ns)</text>
<line x1="683.5" y1="940.5" x2="683.5" y2="954.5" stroke="#000" stroke-width="1.4" />
<text x="1009.6" y="1201.4" font-size="29.2" text-anchor="middle" fill="#000" stroke="#000" >λ<tspan font-size="19" dy="6">em</tspan><tspan dy="-6"> (nm)</tspan></text>
</g>
<g id="pf">
<path d="M1448.3,744 L1449.7,744 L1451.1,744 L1452.5,744 L1453.8,744 L1455.2,744 L1456.6,744 L1458,744 L1459.4,744 L1460.8,744 L1462.2,744 L1463.5,744 L1464.9,744 L1466.3,744 L1467.7,744 L1469.1,744 L1470.5,744 L1471.8,744 L1473.2,744 L1474.6,744 L1476,744 L1477.4,744 L1478.8,744 L1480.2,744 L1481.5,744 L1482.9,744 L1484.3,744 L1485.7,744 L1487.1,744 L1488.5,744 L1489.9,744 L1491.2,744 L1492.6,744 L1494,743.9 L1495.4,743.9 L1496.8,743.9 L1498.2,743.9 L1499.5,743.9 L1500.9,743.9 L1502.3,743.9 L1503.7,743.9 L1505.1,743.9 L1506.5,743.9 L1507.9,743.9 L1509.2,743.9 L1510.6,743.9 L1512,743.9 L1513.4,743.9 L1514.8,743.9 L1516.2,743.9 L1517.5,743.9 L1518.9,743.9 L1520.3,743.9 L1521.7,743.9 L1523.1,743.9 L1524.5,743.9 L1525.9,743.9 L1527.2,743.9 L1528.6,743.9 L1530,743.9 L1531.4,743.9 L1532.8,743.9 L1534.2,743.9 L1535.6,743.9 L1536.9,743.9 L1538.3,743.9 L1539.7,743.9 L1541.1,743.9 L1542.5,743.9 L1543.9,743.9 L1545.2,743.9 L1546.6,743.9 L1548,743.9 L1549.4,743.9 L1550.8,743.9 L1552.2,743.9 L1553.6,743.9 L1554.9,743.9 L1556.3,743.9 L1557.7,743.9 L1559.1,743.9 L1560.5,743.8 L1561.9,743.8 L1563.3,743.8 L1564.6,743.8 L1566,743.8 L1567.4,743.8 L1568.8,743.8 L1570.2,743.8 L1571.6,743.8 L1573,743.8 L1574.3,743.8 L1575.7,743.8 L1577.1,743.8 L1578.5,743.8 L1579.9,743.8 L1581.3,743.8 L1582.6,743.8 L1584,743.7 L1585.4,743.7 L1586.8,743.7 L1588.2,743.7 L1589.6,743.7 L1591,743.7 L1592.3,743.7 L1593.7,743.7 L1595.1,743.7 L1596.5,743.7 L1597.9,743.6 L1599.3,743.6 L1600.7,743.6 L1602,743.6 L1603.4,743.6 L1604.8,743.6 L1606.2,743.6 L1607.6,743.5 L1609,743.5 L1610.3,743.5 L1611.7,743.5 L1613.1,743.4 L1614.5,743.4 L1615.9,743.4 L1617.3,743.4 L1618.7,743.3 L1620,743.3 L1621.4,743.2 L1622.8,743.2 L1624.2,743.2 L1625.6,743.1 L1627,743 L1628.4,743 L1629.7,742.9 L1631.1,742.8 L1632.5,742.7 L1633.9,742.7 L1635.3,742.6 L1636.7,742.4 L1638,742.3 L1639.4,742.2 L1640.8,742.1 L1642.2,741.9 L1643.6,741.8 L1645,741.6 L1646.4,741.4 L1647.7,741.2 L1649.1,741 L1650.5,740.8 L1651.9,740.6 L1653.3,740.4 L1654.7,740.2 L1656,739.9 L1657.4,739.7 L1658.8,739.5 L1660.2,739.3 L1661.6,739.1 L1663,738.9 L1664.4,738.7 L1665.7,738.5 L1667.1,738.3 L1668.5,738.2 L1669.9,738.1 L1671.3,738 L1672.7,738 L1674.1,738 L1675.4,738.1 L1676.8,738.1 L1678.2,738.3 L1679.6,738.5 L1681,738.7 L1682.4,739 L1683.8,739.3 L1685.1,739.7 L1686.5,740.2 L1687.9,740.6 L1689.3,741.2 L1690.7,741.7 L1692.1,742.3 L1693.4,742.9 L1694.8,743.5 L1696.2,744.1 L1697.6,744.7 L1699,745.2 L1700.4,745.8 L1701.8,746.3 L1703.1,746.8 L1704.5,747.2 L1705.9,747.7 L1707.3,748 L1708.7,748.4 L1710.1,748.7 L1711.5,748.9 L1712.8,749.1 L1714.2,749.3 L1715.6,749.4 L1717,749.5 L1718.4,749.5 L1719.8,749.5 L1721.1,749.4 L1722.5,749.4 L1723.9,749.3 L1725.3,749.1 L1726.7,749 L1728.1,748.8 L1729.5,748.6 L1730.8,748.4 L1732.2,748.2 L1733.6,748 L1735,747.8 L1736.4,747.5 L1737.8,747.3 L1739.2,747.1 L1740.5,746.9 L1741.9,746.7 L1743.3,746.5 L1744.7,746.3 L1746.1,746.1 L1747.5,746 L1748.8,745.8 L1750.2,745.7 L1751.6,745.5 L1753,745.4 L1754.4,745.3 L1755.8,745.2 L1757.2,745.1 L1758.5,745 L1759.9,744.9 L1761.3,744.9 L1762.7,744.8 L1764.1,744.7 L1765.5,744.7 L1766.8,744.6 L1768.2,744.6 L1769.6,744.5 L1771,744.5 L1772.4,744.5 L1773.8,744.5 L1775.2,744.4 L1776.5,744.4 L1777.9,744.4 L1779.3,744.4 L1780.7,744.3 L1782.1,744.3 L1783.5,744.3 L1784.9,744.3 L1786.2,744.3 L1787.6,744.3 L1789,744.3 L1790.4,744.3 L1791.8,744.2 L1793.2,744.2 L1794.6,744.2 L1795.9,744.2 L1797.3,744.2 L1798.7,744.2 L1800.1,744.2 L1801.5,744.2 L1802.9,744.2 L1804.2,744.2 L1805.6,744.2 L1807,744.2 L1808.4,744.2 L1809.8,744.2 L1811.2,744.2 L1812.6,744.1 L1813.9,744.1 L1815.3,744.1 L1816.7,744.1 L1818.1,744.1 L1819.5,744.1 L1820.9,744.1 L1822.2,744.1 L1823.6,744.1 L1825,744.1 L1826.4,744.1 L1827.8,744.1 L1829.2,744.1 L1830.6,744.1 L1831.9,744.1 L1833.3,744.1 L1834.7,744.1 L1836.1,744.1 L1837.5,744.1 L1838.9,744.1 L1840.3,744.1 L1841.6,744.1 L1843,744.1 L1844.4,744.1 L1845.8,744.1 L1847.2,744.1 L1848.6,744.1 L1850,744.1 L1851.3,744.1 L1852.7,744.1 L1854.1,744.1 L1855.5,744.1 L1856.9,744.1 L1858.3,744.1 L1859.6,744.1 L1861,744.1 L1862.4,744.1 L1863.8,744.1 L1865.2,744.1 L1866.6,744.1 L1868,744.1 L1869.3,744.1 L1870.7,744 L1872.1,744 L1873.5,744 L1874.9,744 L1876.3,744 L1877.7,744 L1879,744 L1880.4,744 L1881.8,744 L1883.2,744 L1884.6,744 L1886,744 L1887.3,744 L1888.7,744 L1890.1,744 L1891.5,744 L1892.9,744 L1894.3,744 L1895.7,744 L1897,744 L1898.4,744 L1899.8,744 L1901.2,744 L1902.6,744 L1904,744 L1905.3,744 L1906.7,744 L1908.1,744 L1909.5,744 L1910.9,744 L1912.3,744 L1913.7,744 L1915,744 L1916.4,744 L1917.8,744 L1919.2,744 L1920.6,744 L1922,744 L1923.4,744 L1924.7,744 L1926.1,744 L1927.5,744 L1928.9,744 L1930.3,744 L1931.7,744 L1933.1,744 L1934.4,744 L1935.8,744 L1937.2,744 L1938.6,744 L1940,744 L1941.4,744 L1942.7,744 L1944.1,744 L1945.5,744 L1946.9,744" fill="none" stroke="#000" stroke-width="2.1" />
<path d="M1447.6,744.6 L1449,744.7 L1450.4,744 L1451.8,743.6 L1453.1,743.4 L1454.5,744 L1455.9,743.5 L1457.3,743.2 L1458.7,744.1 L1460.1,744 L1461.5,744.2 L1462.8,743.5 L1464.2,744 L1465.6,743.9 L1467,743.2 L1468.4,744.2 L1469.8,744.1 L1471.1,745.2 L1472.5,744.1 L1473.9,743.9 L1475.3,744.6 L1476.7,744.1 L1478.1,744.4 L1479.5,743.8 L1480.8,744.1 L1482.2,744.5 L1483.6,744.3 L1485,744 L1486.4,743.4 L1487.8,744.2 L1489.2,744 L1490.5,744.3 L1491.9,744.1 L1493.3,744.5 L1494.7,743.9 L1496.1,744 L1497.5,744.3 L1498.8,743.4 L1500.2,743.7 L1501.6,743.7 L1503,744.9 L1504.4,743.9 L1505.8,744.3 L1507.2,744.2 L1508.5,743.8 L1509.9,743.2 L1511.3,744.4 L1512.7,743.7 L1514.1,744.3 L1515.5,743.3 L1516.8,743.7 L1518.2,744.6 L1519.6,744.6 L1521,743.3 L1522.4,743.3 L1523.8,743.9 L1525.2,744.3 L1526.5,744 L1527.9,744.1 L1529.3,743.4 L1530.7,744.2 L1532.1,744.5 L1533.5,743.7 L1534.9,743.2 L1536.2,743.5 L1537.6,744.3 L1539,743 L1540.4,743.8 L1541.8,743.4 L1543.2,743.8 L1544.5,743.8 L1545.9,743.9 L1547.3,744.6 L1548.7,744.1 L1550.1,744.5 L1551.5,743.8 L1552.9,743.6 L1554.2,744.1 L1555.6,742.4 L1557,743.8 L1558.4,743.9 L1559.8,743.2 L1561.2,744.1 L1562.6,743.6 L1563.9,742.6 L1565.3,743.7 L1566.7,743.3 L1568.1,743.6 L1569.5,743.7 L1570.9,744.4 L1572.2,743.9 L1573.6,743.8 L1575,744 L1576.4,742.9 L1577.8,744.4 L1579.2,743.2 L1580.6,744 L1581.9,743.2 L1583.3,743.3 L1584.7,743.5 L1586.1,744.7 L1587.5,744.1 L1588.9,743.4 L1590.3,743.6 L1591.6,743.1 L1593,743.7 L1594.4,743.4 L1595.8,744 L1597.2,743 L1598.6,743.5 L1600,743.2 L1601.3,743.2 L1602.7,743.9 L1604.1,743.6 L1605.5,743.8 L1606.9,744.1 L1608.3,744.1 L1609.6,742.8 L1611,743.7 L1612.4,742.6 L1613.8,743.4 L1615.2,744.3 L1616.6,743.3 L1618,743.1 L1619.3,743.4 L1620.7,743.3 L1622.1,743.2 L1623.5,742.8 L1624.9,743.6 L1626.3,743.5 L1627.7,742.9 L1629,743.1 L1630.4,743.2 L1631.8,743.3 L1633.2,742.9 L1634.6,742.9 L1636,742.3 L1637.3,741.8 L1638.7,742 L1640.1,742.6 L1641.5,742.4 L1642.9,741.8 L1644.3,741.3 L1645.7,741.6 L1647,742.1 L1648.4,741.7 L1649.8,740.5 L1651.2,740.6 L1652.6,739.7 L1654,739.6 L1655.3,740 L1656.7,739.7 L1658.1,740 L1659.5,739.9 L1660.9,739.5 L1662.3,739.5 L1663.7,738.4 L1665,737.9 L1666.4,738.6 L1667.8,739.5 L1669.2,738.3 L1670.6,737.5 L1672,738.1 L1673.4,738.7 L1674.7,737.5 L1676.1,738.5 L1677.5,738 L1678.9,739.1 L1680.3,739.1 L1681.7,739.1 L1683,740.3 L1684.4,739.5 L1685.8,739.8 L1687.2,741.6 L1688.6,740.7 L1690,742.8 L1691.4,742.3 L1692.7,742.4 L1694.1,743.5 L1695.5,744.2 L1696.9,744.8 L1698.3,745.1 L1699.7,746.3 L1701.1,745.1 L1702.4,746.5 L1703.8,747.1 L1705.2,748.6 L1706.6,747.1 L1708,748.2 L1709.4,748.1 L1710.8,748.6 L1712.1,749.5 L1713.5,749.5 L1714.9,750.1 L1716.3,749.2 L1717.7,749.6 L1719.1,750.1 L1720.4,749.9 L1721.8,749.2 L1723.2,749.8 L1724.6,748.7 L1726,749.9 L1727.4,748.9 L1728.8,748.5 L1730.1,748.5 L1731.5,748.6 L1732.9,748.8 L1734.3,747.7 L1735.7,747.3 L1737.1,747.6 L1738.5,746.7 L1739.8,746 L1741.2,747.1 L1742.6,746.3 L1744,746.9 L1745.4,745.6 L1746.8,744.5 L1748.1,746 L1749.5,745.7 L1750.9,746.3 L1752.3,745.7 L1753.7,745.5 L1755.1,745.5 L1756.5,744.9 L1757.8,745 L1759.2,744.3 L1760.6,745.1 L1762,744.4 L1763.4,744.5 L1764.8,745 L1766.1,745.1 L1767.5,744.1 L1768.9,745.5 L1770.3,744.2 L1771.7,744.9 L1773.1,744.9 L1774.5,744.5 L1775.8,744.5 L1777.2,745.3 L1778.6,744.8 L1780,744.6 L1781.4,743.4 L1782.8,743.9 L1784.2,744.9 L1785.5,744.4 L1786.9,743.8 L1788.3,743.9 L1789.7,744.1 L1791.1,744.6 L1792.5,744.4 L1793.9,744.7 L1795.2,743.8 L1796.6,744.7 L1798,744 L1799.4,744 L1800.8,745.1 L1802.2,744.2 L1803.5,744.1 L1804.9,744.1 L1806.3,744 L1807.7,744.9 L1809.1,744.8 L1810.5,744.5 L1811.9,744.2 L1813.2,744.7 L1814.6,744.1 L1816,744.4 L1817.4,744.3 L1818.8,744.2 L1820.2,744.9 L1821.5,745 L1822.9,744.8 L1824.3,743.2 L1825.7,745 L1827.1,744.5 L1828.5,743.9 L1829.9,744.1 L1831.2,744.7 L1832.6,744.7 L1834,744.5 L1835.4,744.2 L1836.8,744.1 L1838.2,744.5 L1839.6,744 L1840.9,743.6 L1842.3,743.8 L1843.7,744 L1845.1,744.2 L1846.5,745.2 L1847.9,743.4 L1849.2,744.3 L1850.6,744 L1852,744.2 L1853.4,744.7 L1854.8,744.7 L1856.2,744 L1857.6,743.8 L1858.9,743.4 L1860.3,744 L1861.7,744.7 L1863.1,743.9 L1864.5,744.4 L1865.9,744.4 L1867.3,744.2 L1868.6,744.6 L1870,744 L1871.4,743.6 L1872.8,743.5 L1874.2,744.5 L1875.6,743.9 L1877,743.9 L1878.3,744.5 L1879.7,743.6 L1881.1,744.9 L1882.5,744.4 L1883.9,743.8 L1885.3,743.7 L1886.6,744.6 L1888,743.4 L1889.4,743.7 L1890.8,744 L1892.2,744.1 L1893.6,744 L1895,744.2 L1896.3,743.9 L1897.7,744 L1899.1,744.7 L1900.5,744.4 L1901.9,743.8 L1903.3,744.9 L1904.6,743 L1906,744.1 L1907.4,744.4 L1908.8,744.5 L1910.2,744.1 L1911.6,743.8 L1913,744.3 L1914.3,743.9 L1915.7,744.3 L1917.1,742.6 L1918.5,744.2 L1919.9,743.6 L1921.3,744.5 L1922.7,744.4 L1924,744.4 L1925.4,743.8 L1926.8,744.2 L1928.2,743.9 L1929.6,744.1 L1931,744 L1932.4,743.6 L1933.7,745 L1935.1,744.4 L1936.5,743 L1937.9,744.5 L1939.3,743.3 L1940.7,743.9 L1942,743.7 L1943.4,743.8 L1944.8,744.1 L1946.2,743.9" fill="none" stroke="#000" stroke-width="3.9" stroke-dasharray="0.1 6.8" stroke-linecap="round" />
<path d="M1448.3,822.6 L1449.7,822.6 L1451.1,822.6 L1452.5,822.6 L1453.8,822.6 L1455.2,822.6 L1456.6,822.6 L1458,822.6 L1459.4,822.6 L1460.8,822.6 L1462.2,822.6 L1463.5,822.6 L1464.9,822.6 L1466.3,822.6 L1467.7,822.6 L1469.1,822.6 L1470.5,822.6 L1471.8,822.6 L1473.2,822.6 L1474.6,822.6 L1476,822.6 L1477.4,822.6 L1478.8,822.6 L1480.2,822.6 L1481.5,822.6 L1482.9,822.6 L1484.3,822.6 L1485.7,822.6 L1487.1,822.6 L1488.5,822.5 L1489.9,822.5 L1491.2,822.5 L1492.6,822.5 L1494,822.5 L1495.4,822.5 L1496.8,822.5 L1498.2,822.5 L1499.5,822.5 L1500.9,822.5 L1502.3,822.5 L1503.7,822.5 L1505.1,822.5 L1506.5,822.5 L1507.9,822.5 L1509.2,822.5 L1510.6,822.5 L1512,822.4 L1513.4,822.4 L1514.8,822.4 L1516.2,822.4 L1517.5,822.4 L1518.9,822.4 L1520.3,822.4 L1521.7,822.4 L1523.1,822.4 L1524.5,822.4 L1525.9,822.4 L1527.2,822.3 L1528.6,822.3 L1530,822.3 L1531.4,822.3 L1532.8,822.3 L1534.2,822.3 L1535.6,822.3 L1536.9,822.3 L1538.3,822.3 L1539.7,822.2 L1541.1,822.2 L1542.5,822.2 L1543.9,822.2 L1545.2,822.2 L1546.6,822.2 L1548,822.1 L1549.4,822.1 L1550.8,822.1 L1552.2,822.1 L1553.6,822.1 L1554.9,822.1 L1556.3,822 L1557.7,822 L1559.1,822 L1560.5,822 L1561.9,821.9 L1563.3,821.9 L1564.6,821.9 L1566,821.9 L1567.4,821.8 L1568.8,821.8 L1570.2,821.8 L1571.6,821.8 L1573,821.7 L1574.3,821.7 L1575.7,821.7 L1577.1,821.6 L1578.5,821.6 L1579.9,821.6 L1581.3,821.5 L1582.6,821.5 L1584,821.4 L1585.4,821.4 L1586.8,821.3 L1588.2,821.3 L1589.6,821.2 L1591,821.2 L1592.3,821.1 L1593.7,821.1 L1595.1,821 L1596.5,820.9 L1597.9,820.9 L1599.3,820.8 L1600.7,820.7 L1602,820.6 L1603.4,820.6 L1604.8,820.5 L1606.2,820.4 L1607.6,820.3 L1609,820.2 L1610.3,820 L1611.7,819.9 L1613.1,819.8 L1614.5,819.6 L1615.9,819.5 L1617.3,819.3 L1618.7,819.1 L1620,818.9 L1621.4,818.7 L1622.8,818.4 L1624.2,818.2 L1625.6,817.9 L1627,817.6 L1628.4,817.2 L1629.7,816.8 L1631.1,816.4 L1632.5,815.9 L1633.9,815.4 L1635.3,814.9 L1636.7,814.3 L1638,813.6 L1639.4,812.9 L1640.8,812.2 L1642.2,811.4 L1643.6,810.5 L1645,809.6 L1646.4,808.6 L1647.7,807.6 L1649.1,806.5 L1650.5,805.4 L1651.9,804.3 L1653.3,803.1 L1654.7,801.9 L1656,800.7 L1657.4,799.5 L1658.8,798.3 L1660.2,797.1 L1661.6,796 L1663,795 L1664.4,794 L1665.7,793.1 L1667.1,792.3 L1668.5,791.7 L1669.9,791.2 L1671.3,790.9 L1672.7,790.8 L1674.1,790.9 L1675.4,791.2 L1676.8,791.8 L1678.2,792.7 L1679.6,793.8 L1681,795.2 L1682.4,796.8 L1683.8,798.7 L1685.1,800.9 L1686.5,803.3 L1687.9,805.9 L1689.3,808.8 L1690.7,811.8 L1692.1,814.9 L1693.4,818.2 L1694.8,821.5 L1696.2,824.6 L1697.6,827.7 L1699,830.7 L1700.4,833.6 L1701.8,836.4 L1703.1,839 L1704.5,841.4 L1705.9,843.7 L1707.3,845.6 L1708.7,847.4 L1710.1,848.9 L1711.5,850.2 L1712.8,851.2 L1714.2,851.9 L1715.6,852.5 L1717,852.7 L1718.4,852.8 L1719.8,852.7 L1721.1,852.3 L1722.5,851.8 L1723.9,851.2 L1725.3,850.4 L1726.7,849.5 L1728.1,848.5 L1729.5,847.5 L1730.8,846.3 L1732.2,845.2 L1733.6,844 L1735,842.8 L1736.4,841.6 L1737.8,840.4 L1739.2,839.3 L1740.5,838.1 L1741.9,837.1 L1743.3,836 L1744.7,835 L1746.1,834.1 L1747.5,833.2 L1748.8,832.4 L1750.2,831.6 L1751.6,830.9 L1753,830.2 L1754.4,829.6 L1755.8,829.1 L1757.2,828.6 L1758.5,828.1 L1759.9,827.7 L1761.3,827.3 L1762.7,827 L1764.1,826.7 L1765.5,826.4 L1766.8,826.1 L1768.2,825.9 L1769.6,825.7 L1771,825.5 L1772.4,825.4 L1773.8,825.2 L1775.2,825.1 L1776.5,824.9 L1777.9,824.8 L1779.3,824.7 L1780.7,824.6 L1782.1,824.6 L1783.5,824.5 L1784.9,824.4 L1786.2,824.3 L1787.6,824.3 L1789,824.2 L1790.4,824.2 L1791.8,824.1 L1793.2,824.1 L1794.6,824 L1795.9,824 L1797.3,823.9 L1798.7,823.9 L1800.1,823.9 L1801.5,823.8 L1802.9,823.8 L1804.2,823.8 L1805.6,823.7 L1807,823.7 L1808.4,823.7 L1809.8,823.6 L1811.2,823.6 L1812.6,823.6 L1813.9,823.6 L1815.3,823.5 L1816.7,823.5 L1818.1,823.5 L1819.5,823.5 L1820.9,823.5 L1822.2,823.4 L1823.6,823.4 L1825,823.4 L1826.4,823.4 L1827.8,823.4 L1829.2,823.4 L1830.6,823.3 L1831.9,823.3 L1833.3,823.3 L1834.7,823.3 L1836.1,823.3 L1837.5,823.3 L1838.9,823.3 L1840.3,823.2 L1841.6,823.2 L1843,823.2 L1844.4,823.2 L1845.8,823.2 L1847.2,823.2 L1848.6,823.2 L1850,823.2 L1851.3,823.2 L1852.7,823.2 L1854.1,823.1 L1855.5,823.1 L1856.9,823.1 L1858.3,823.1 L1859.6,823.1 L1861,823.1 L1862.4,823.1 L1863.8,823.1 L1865.2,823.1 L1866.6,823.1 L1868,823.1 L1869.3,823.1 L1870.7,823.1 L1872.1,823.1 L1873.5,823.1 L1874.9,823 L1876.3,823 L1877.7,823 L1879,823 L1880.4,823 L1881.8,823 L1883.2,823 L1884.6,823 L1886,823 L1887.3,823 L1888.7,823 L1890.1,823 L1891.5,823 L1892.9,823 L1894.3,823 L1895.7,823 L1897,823 L1898.4,823 L1899.8,823 L1901.2,823 L1902.6,823 L1904,823 L1905.3,823 L1906.7,823 L1908.1,823 L1909.5,823 L1910.9,822.9 L1912.3,822.9 L1913.7,822.9 L1915,822.9 L1916.4,822.9 L1917.8,822.9 L1919.2,822.9 L1920.6,822.9 L1922,822.9 L1923.4,822.9 L1924.7,822.9 L1926.1,822.9 L1927.5,822.9 L1928.9,822.9 L1930.3,822.9 L1931.7,822.9 L1933.1,822.9 L1934.4,822.9 L1935.8,822.9 L1937.2,822.9 L1938.6,822.9 L1940,822.9 L1941.4,822.9 L1942.7,822.9 L1944.1,822.9 L1945.5,822.9 L1946.9,822.9" fill="none" stroke="#3a0000" stroke-width="2.1" />
<path d="M1447.6,823.8 L1449,822.3 L1450.4,822.8 L1451.8,822.7 L1453.1,823.1 L1454.5,821.9 L1455.9,822.4 L1457.3,822.3 L1458.7,822.1 L1460.1,822.2 L1461.5,822.4 L1462.8,822.5 L1464.2,822.2 L1465.6,822.8 L1467,822.3 L1468.4,821 L1469.8,823.2 L1471.1,822.4 L1472.5,822.2 L1473.9,822.7 L1475.3,822.7 L1476.7,822.6 L1478.1,822.2 L1479.5,822.7 L1480.8,821.8 L1482.2,823.3 L1483.6,821.9 L1485,822.5 L1486.4,822.6 L1487.8,822.7 L1489.2,822.4 L1490.5,822.8 L1491.9,820.7 L1493.3,822.4 L1494.7,822.4 L1496.1,822.2 L1497.5,823.2 L1498.8,822 L1500.2,822.4 L1501.6,821.4 L1503,822.6 L1504.4,821.6 L1505.8,821.6 L1507.2,823.6 L1508.5,822.7 L1509.9,822.4 L1511.3,822.5 L1512.7,821.6 L1514.1,821.8 L1515.5,822.6 L1516.8,821.3 L1518.2,822.5 L1519.6,821.5 L1521,822.4 L1522.4,821.7 L1523.8,823.2 L1525.2,822.8 L1526.5,822 L1527.9,821.3 L1529.3,821.9 L1530.7,822.2 L1532.1,821.7 L1533.5,822.4 L1534.9,822.7 L1536.2,822.2 L1537.6,822 L1539,822.6 L1540.4,822 L1541.8,822.6 L1543.2,822 L1544.5,822.9 L1545.9,822 L1547.3,821.5 L1548.7,822.1 L1550.1,821.7 L1551.5,821.6 L1552.9,821.9 L1554.2,822.4 L1555.6,820.9 L1557,821.9 L1558.4,821.9 L1559.8,821.8 L1561.2,822.3 L1562.6,821.2 L1563.9,822.2 L1565.3,821.7 L1566.7,821.8 L1568.1,821.6 L1569.5,821.6 L1570.9,821.4 L1572.2,821.9 L1573.6,822.7 L1575,822.1 L1576.4,822 L1577.8,821.8 L1579.2,821.3 L1580.6,821.8 L1581.9,822.5 L1583.3,820.7 L1584.7,821.8 L1586.1,821.8 L1587.5,821.4 L1588.9,821.6 L1590.3,821.8 L1591.6,822.2 L1593,821.7 L1594.4,821.8 L1595.8,821.1 L1597.2,821.3 L1598.6,820.9 L1600,820.8 L1601.3,820.4 L1602.7,820.9 L1604.1,821.2 L1605.5,820.3 L1606.9,820.4 L1608.3,820.4 L1609.6,820 L1611,820.4 L1612.4,819.9 L1613.8,819 L1615.2,818.9 L1616.6,819.6 L1618,819.4 L1619.3,819.4 L1620.7,818.8 L1622.1,818.5 L1623.5,817.4 L1624.9,818.6 L1626.3,817.1 L1627.7,817.7 L1629,816.2 L1630.4,816 L1631.8,816 L1633.2,815.2 L1634.6,814.5 L1636,814.7 L1637.3,813.9 L1638.7,813.1 L1640.1,812 L1641.5,810.9 L1642.9,810.2 L1644.3,809.3 L1645.7,808.6 L1647,808 L1648.4,806.4 L1649.8,805 L1651.2,804 L1652.6,803.7 L1654,802 L1655.3,800.8 L1656.7,799.6 L1658.1,798.6 L1659.5,797.2 L1660.9,796.6 L1662.3,795.4 L1663.7,792.5 L1665,793 L1666.4,793.8 L1667.8,791 L1669.2,791.3 L1670.6,791.4 L1672,790.8 L1673.4,791.6 L1674.7,790.6 L1676.1,791.2 L1677.5,792.6 L1678.9,793.4 L1680.3,794.6 L1681.7,797.1 L1683,798.9 L1684.4,800.9 L1685.8,803.1 L1687.2,806.1 L1688.6,808.7 L1690,811.4 L1691.4,815.2 L1692.7,818.4 L1694.1,821.5 L1695.5,825 L1696.9,827.2 L1698.3,830.6 L1699.7,833.3 L1701.1,837 L1702.4,839.3 L1703.8,842.5 L1705.2,844.4 L1706.6,845.5 L1708,846.9 L1709.4,849.2 L1710.8,850 L1712.1,851.1 L1713.5,851.4 L1714.9,852.8 L1716.3,852.8 L1717.7,853 L1719.1,852.8 L1720.4,851.9 L1721.8,850.7 L1723.2,851 L1724.6,850.1 L1726,849.2 L1727.4,849 L1728.8,847.4 L1730.1,847.1 L1731.5,845.3 L1732.9,844.3 L1734.3,843 L1735.7,842 L1737.1,839.8 L1738.5,839.8 L1739.8,838.2 L1741.2,836.6 L1742.6,836.3 L1744,835.2 L1745.4,834.7 L1746.8,833.6 L1748.1,832.6 L1749.5,830.8 L1750.9,831.7 L1752.3,831 L1753.7,830 L1755.1,829.3 L1756.5,829.2 L1757.8,827.7 L1759.2,828 L1760.6,827.3 L1762,826.5 L1763.4,826.8 L1764.8,826.6 L1766.1,827 L1767.5,826.4 L1768.9,824.9 L1770.3,824.5 L1771.7,825.3 L1773.1,825.1 L1774.5,824.6 L1775.8,824.2 L1777.2,824.7 L1778.6,824.2 L1780,824.3 L1781.4,825 L1782.8,824.6 L1784.2,824 L1785.5,823.8 L1786.9,824.2 L1788.3,825.1 L1789.7,823.9 L1791.1,825 L1792.5,823.7 L1793.9,823.9 L1795.2,824.3 L1796.6,823.5 L1798,823.9 L1799.4,823.2 L1800.8,824.2 L1802.2,824.4 L1803.5,823.4 L1804.9,823.8 L1806.3,823.5 L1807.7,822.6 L1809.1,825 L1810.5,823.9 L1811.9,824 L1813.2,823.8 L1814.6,823.6 L1816,824.7 L1817.4,822.6 L1818.8,823.3 L1820.2,823.3 L1821.5,823.3 L1822.9,823.8 L1824.3,823 L1825.7,822.7 L1827.1,822.8 L1828.5,823.6 L1829.9,823.8 L1831.2,823.7 L1832.6,824.1 L1834,823 L1835.4,823.8 L1836.8,823.6 L1838.2,823.2 L1839.6,822.9 L1840.9,823.7 L1842.3,822.9 L1843.7,823.1 L1845.1,822.7 L1846.5,824.1 L1847.9,823.2 L1849.2,822.9 L1850.6,823 L1852,823 L1853.4,823.2 L1854.8,822.3 L1856.2,822.6 L1857.6,823.4 L1858.9,823.7 L1860.3,822.6 L1861.7,823.2 L1863.1,822.8 L1864.5,822 L1865.9,822.9 L1867.3,822.5 L1868.6,823.5 L1870,823 L1871.4,823 L1872.8,822.3 L1874.2,823.1 L1875.6,822.1 L1877,823.1 L1878.3,823.7 L1879.7,822.4 L1881.1,823.4 L1882.5,823.7 L1883.9,822.9 L1885.3,823.6 L1886.6,823 L1888,822.8 L1889.4,822 L1890.8,822.5 L1892.2,822.2 L1893.6,824.2 L1895,823.1 L1896.3,822.9 L1897.7,822.3 L1899.1,823.8 L1900.5,822.4 L1901.9,823.7 L1903.3,823.5 L1904.6,823 L1906,822.6 L1907.4,822.9 L1908.8,822.3 L1910.2,823.3 L1911.6,823.8 L1913,823.4 L1914.3,823.5 L1915.7,822.6 L1917.1,823.1 L1918.5,822.4 L1919.9,822.7 L1921.3,823.3 L1922.7,824.2 L1924,823 L1925.4,822.9 L1926.8,822 L1928.2,823 L1929.6,822.5 L1931,822.2 L1932.4,822.2 L1933.7,823 L1935.1,822.7 L1936.5,823.2 L1937.9,822.8 L1939.3,822.9 L1940.7,823.6 L1942,823.3 L1943.4,823.3 L1944.8,823.6 L1946.2,823" fill="none" stroke="#3a0000" stroke-width="3.9" stroke-dasharray="0.1 6.8" stroke-linecap="round" />
<path d="M1448.3,901 L1449.7,900.9 L1451.1,900.9 L1452.5,900.9 L1453.8,900.9 L1455.2,900.9 L1456.6,900.9 L1458,900.9 L1459.4,900.9 L1460.8,900.9 L1462.2,900.9 L1463.5,900.9 L1464.9,900.9 L1466.3,900.9 L1467.7,900.9 L1469.1,900.9 L1470.5,900.8 L1471.8,900.8 L1473.2,900.8 L1474.6,900.8 L1476,900.8 L1477.4,900.8 L1478.8,900.8 L1480.2,900.8 L1481.5,900.8 L1482.9,900.8 L1484.3,900.8 L1485.7,900.7 L1487.1,900.7 L1488.5,900.7 L1489.9,900.7 L1491.2,900.7 L1492.6,900.7 L1494,900.7 L1495.4,900.7 L1496.8,900.7 L1498.2,900.6 L1499.5,900.6 L1500.9,900.6 L1502.3,900.6 L1503.7,900.6 L1505.1,900.6 L1506.5,900.6 L1507.9,900.5 L1509.2,900.5 L1510.6,900.5 L1512,900.5 L1513.4,900.5 L1514.8,900.5 L1516.2,900.4 L1517.5,900.4 L1518.9,900.4 L1520.3,900.4 L1521.7,900.4 L1523.1,900.3 L1524.5,900.3 L1525.9,900.3 L1527.2,900.3 L1528.6,900.2 L1530,900.2 L1531.4,900.2 L1532.8,900.2 L1534.2,900.1 L1535.6,900.1 L1536.9,900.1 L1538.3,900.1 L1539.7,900 L1541.1,900 L1542.5,900 L1543.9,899.9 L1545.2,899.9 L1546.6,899.9 L1548,899.8 L1549.4,899.8 L1550.8,899.8 L1552.2,899.7 L1553.6,899.7 L1554.9,899.6 L1556.3,899.6 L1557.7,899.5 L1559.1,899.5 L1560.5,899.4 L1561.9,899.4 L1563.3,899.3 L1564.6,899.3 L1566,899.2 L1567.4,899.2 L1568.8,899.1 L1570.2,899 L1571.6,899 L1573,898.9 L1574.3,898.8 L1575.7,898.7 L1577.1,898.7 L1578.5,898.6 L1579.9,898.5 L1581.3,898.4 L1582.6,898.3 L1584,898.2 L1585.4,898.1 L1586.8,897.9 L1588.2,897.8 L1589.6,897.7 L1591,897.5 L1592.3,897.3 L1593.7,897.2 L1595.1,897 L1596.5,896.8 L1597.9,896.6 L1599.3,896.4 L1600.7,896.1 L1602,895.8 L1603.4,895.6 L1604.8,895.3 L1606.2,894.9 L1607.6,894.6 L1609,894.2 L1610.3,893.8 L1611.7,893.4 L1613.1,892.9 L1614.5,892.4 L1615.9,891.9 L1617.3,891.3 L1618.7,890.7 L1620,890.1 L1621.4,889.4 L1622.8,888.7 L1624.2,888 L1625.6,887.2 L1627,886.4 L1628.4,885.6 L1629.7,884.7 L1631.1,883.8 L1632.5,882.8 L1633.9,881.9 L1635.3,880.9 L1636.7,879.9 L1638,878.9 L1639.4,877.8 L1640.8,876.8 L1642.2,875.8 L1643.6,874.8 L1645,873.8 L1646.4,872.8 L1647.7,871.9 L1649.1,871 L1650.5,870.1 L1651.9,869.4 L1653.3,868.7 L1654.7,868.1 L1656,867.6 L1657.4,867.2 L1658.8,866.9 L1660.2,866.7 L1661.6,866.7 L1663,866.8 L1664.4,867.1 L1665.7,867.6 L1667.1,868.2 L1668.5,869 L1669.9,870 L1671.3,871.1 L1672.7,872.5 L1674.1,874 L1675.4,875.7 L1676.8,877.6 L1678.2,879.6 L1679.6,881.8 L1681,884.1 L1682.4,886.6 L1683.8,889.2 L1685.1,891.8 L1686.5,894.6 L1687.9,897.3 L1689.3,900.2 L1690.7,903.3 L1692.1,906.5 L1693.4,909.7 L1694.8,912.8 L1696.2,915.8 L1697.6,918.6 L1699,921.2 L1700.4,923.7 L1701.8,925.9 L1703.1,928 L1704.5,929.7 L1705.9,931.3 L1707.3,932.5 L1708.7,933.6 L1710.1,934.3 L1711.5,934.9 L1712.8,935.2 L1714.2,935.3 L1715.6,935.2 L1717,934.9 L1718.4,934.4 L1719.8,933.8 L1721.1,933 L1722.5,932.1 L1723.9,931.1 L1725.3,930.1 L1726.7,928.9 L1728.1,927.7 L1729.5,926.5 L1730.8,925.2 L1732.2,924 L1733.6,922.7 L1735,921.5 L1736.4,920.2 L1737.8,919 L1739.2,917.9 L1740.5,916.8 L1741.9,915.7 L1743.3,914.7 L1744.7,913.7 L1746.1,912.8 L1747.5,911.9 L1748.8,911.1 L1750.2,910.4 L1751.6,909.7 L1753,909.1 L1754.4,908.5 L1755.8,907.9 L1757.2,907.4 L1758.5,907 L1759.9,906.6 L1761.3,906.2 L1762.7,905.8 L1764.1,905.5 L1765.5,905.2 L1766.8,905 L1768.2,904.8 L1769.6,904.5 L1771,904.4 L1772.4,904.2 L1773.8,904 L1775.2,903.9 L1776.5,903.7 L1777.9,903.6 L1779.3,903.5 L1780.7,903.4 L1782.1,903.3 L1783.5,903.2 L1784.9,903.2 L1786.2,903.1 L1787.6,903 L1789,903 L1790.4,902.9 L1791.8,902.8 L1793.2,902.8 L1794.6,902.7 L1795.9,902.7 L1797.3,902.6 L1798.7,902.6 L1800.1,902.5 L1801.5,902.5 L1802.9,902.5 L1804.2,902.4 L1805.6,902.4 L1807,902.4 L1808.4,902.3 L1809.8,902.3 L1811.2,902.3 L1812.6,902.2 L1813.9,902.2 L1815.3,902.2 L1816.7,902.2 L1818.1,902.1 L1819.5,902.1 L1820.9,902.1 L1822.2,902.1 L1823.6,902.1 L1825,902 L1826.4,902 L1827.8,902 L1829.2,902 L1830.6,902 L1831.9,901.9 L1833.3,901.9 L1834.7,901.9 L1836.1,901.9 L1837.5,901.9 L1838.9,901.9 L1840.3,901.9 L1841.6,901.8 L1843,901.8 L1844.4,901.8 L1845.8,901.8 L1847.2,901.8 L1848.6,901.8 L1850,901.8 L1851.3,901.8 L1852.7,901.7 L1854.1,901.7 L1855.5,901.7 L1856.9,901.7 L1858.3,901.7 L1859.6,901.7 L1861,901.7 L1862.4,901.7 L1863.8,901.7 L1865.2,901.7 L1866.6,901.7 L1868,901.6 L1869.3,901.6 L1870.7,901.6 L1872.1,901.6 L1873.5,901.6 L1874.9,901.6 L1876.3,901.6 L1877.7,901.6 L1879,901.6 L1880.4,901.6 L1881.8,901.6 L1883.2,901.6 L1884.6,901.6 L1886,901.6 L1887.3,901.6 L1888.7,901.6 L1890.1,901.5 L1891.5,901.5 L1892.9,901.5 L1894.3,901.5 L1895.7,901.5 L1897,901.5 L1898.4,901.5 L1899.8,901.5 L1901.2,901.5 L1902.6,901.5 L1904,901.5 L1905.3,901.5 L1906.7,901.5 L1908.1,901.5 L1909.5,901.5 L1910.9,901.5 L1912.3,901.5 L1913.7,901.5 L1915,901.5 L1916.4,901.5 L1917.8,901.5 L1919.2,901.5 L1920.6,901.5 L1922,901.5 L1923.4,901.5 L1924.7,901.5 L1926.1,901.5 L1927.5,901.5 L1928.9,901.5 L1930.3,901.4 L1931.7,901.4 L1933.1,901.4 L1934.4,901.4 L1935.8,901.4 L1937.2,901.4 L1938.6,901.4 L1940,901.4 L1941.4,901.4 L1942.7,901.4 L1944.1,901.4 L1945.5,901.4 L1946.9,901.4" fill="none" stroke="#8b0000" stroke-width="2.1" />
<path d="M1447.6,901 L1449,901.6 L1450.4,900.5 L1451.8,901.4 L1453.1,900.8 L1454.5,900.8 L1455.9,901.9 L1457.3,901 L1458.7,900.9 L1460.1,901.3 L1461.5,901.5 L1462.8,900.9 L1464.2,901.2 L1465.6,900.4 L1467,900.7 L1468.4,900.6 L1469.8,900.2 L1471.1,900.1 L1472.5,900 L1473.9,900.7 L1475.3,900.7 L1476.7,900.6 L1478.1,900.8 L1479.5,900.1 L1480.8,900.7 L1482.2,900.9 L1483.6,901.1 L1485,900.3 L1486.4,900.5 L1487.8,899.7 L1489.2,900.5 L1490.5,899.6 L1491.9,900 L1493.3,901.2 L1494.7,899.6 L1496.1,901.1 L1497.5,900.8 L1498.8,900.5 L1500.2,900.8 L1501.6,900.9 L1503,901.1 L1504.4,900.5 L1505.8,900.3 L1507.2,900.2 L1508.5,900 L1509.9,900.5 L1511.3,900.1 L1512.7,901 L1514.1,899.5 L1515.5,899.9 L1516.8,899.9 L1518.2,899.4 L1519.6,901.3 L1521,899.2 L1522.4,900.2 L1523.8,900.1 L1525.2,901.1 L1526.5,899.3 L1527.9,900.8 L1529.3,899.9 L1530.7,900.1 L1532.1,899.8 L1533.5,900.5 L1534.9,899.6 L1536.2,900.1 L1537.6,900.2 L1539,901 L1540.4,898.8 L1541.8,900.7 L1543.2,900.4 L1544.5,899.7 L1545.9,900 L1547.3,899.6 L1548.7,900.6 L1550.1,899.9 L1551.5,899.6 L1552.9,899.6 L1554.2,899.5 L1555.6,899.5 L1557,899.1 L1558.4,900.5 L1559.8,898.5 L1561.2,897.6 L1562.6,899.3 L1563.9,899.2 L1565.3,899.4 L1566.7,899.1 L1568.1,899 L1569.5,899.2 L1570.9,899.5 L1572.2,898.7 L1573.6,898.6 L1575,899.7 L1576.4,898.9 L1577.8,898.1 L1579.2,899.6 L1580.6,898.8 L1581.9,898 L1583.3,897.6 L1584.7,898.2 L1586.1,897.5 L1587.5,897.3 L1588.9,897 L1590.3,897.3 L1591.6,897.9 L1593,897 L1594.4,896.3 L1595.8,897.1 L1597.2,896.6 L1598.6,896.8 L1600,896.7 L1601.3,895.8 L1602.7,895.5 L1604.1,895.2 L1605.5,894.4 L1606.9,894.9 L1608.3,894.9 L1609.6,893.9 L1611,893.2 L1612.4,892.8 L1613.8,892 L1615.2,891.5 L1616.6,891.1 L1618,890.3 L1619.3,889.9 L1620.7,888.6 L1622.1,888.9 L1623.5,888 L1624.9,886.6 L1626.3,885.3 L1627.7,885.6 L1629,885.2 L1630.4,883.4 L1631.8,882.6 L1633.2,881.6 L1634.6,881.2 L1636,879.4 L1637.3,879.4 L1638.7,877.7 L1640.1,877.3 L1641.5,875.8 L1642.9,874.6 L1644.3,873 L1645.7,872.4 L1647,871.7 L1648.4,871.3 L1649.8,870.3 L1651.2,869 L1652.6,868.9 L1654,868.6 L1655.3,867.5 L1656.7,866.9 L1658.1,866.7 L1659.5,867.1 L1660.9,867 L1662.3,866.4 L1663.7,867.3 L1665,867.3 L1666.4,867.8 L1667.8,869.6 L1669.2,870.4 L1670.6,870.8 L1672,872.5 L1673.4,874.3 L1674.7,875.4 L1676.1,877.5 L1677.5,879.9 L1678.9,880.9 L1680.3,884.3 L1681.7,887 L1683,889.4 L1684.4,891.2 L1685.8,894.7 L1687.2,896.9 L1688.6,900.5 L1690,903.6 L1691.4,906.6 L1692.7,909.3 L1694.1,912.5 L1695.5,916.2 L1696.9,918.1 L1698.3,921.5 L1699.7,924 L1701.1,925.8 L1702.4,929.2 L1703.8,929.8 L1705.2,932.3 L1706.6,931.5 L1708,932.4 L1709.4,934.8 L1710.8,935.2 L1712.1,935 L1713.5,935.3 L1714.9,934.2 L1716.3,934.6 L1717.7,933.9 L1719.1,933.7 L1720.4,933.5 L1721.8,932.2 L1723.2,931.3 L1724.6,929.7 L1726,928.7 L1727.4,927.8 L1728.8,926.4 L1730.1,925.9 L1731.5,923.5 L1732.9,923.7 L1734.3,921 L1735.7,920.8 L1737.1,918.6 L1738.5,918.7 L1739.8,916.8 L1741.2,915.9 L1742.6,915 L1744,913.4 L1745.4,912.3 L1746.8,910.9 L1748.1,911.7 L1749.5,910 L1750.9,909.4 L1752.3,909 L1753.7,909.5 L1755.1,907.1 L1756.5,907.5 L1757.8,906.8 L1759.2,906.8 L1760.6,905.3 L1762,905.6 L1763.4,905.9 L1764.8,906 L1766.1,905.8 L1767.5,904.3 L1768.9,904.6 L1770.3,904.3 L1771.7,903.5 L1773.1,903.3 L1774.5,904.3 L1775.8,903.9 L1777.2,903.6 L1778.6,904.1 L1780,902.9 L1781.4,903.6 L1782.8,903.2 L1784.2,903.1 L1785.5,903.3 L1786.9,903.1 L1788.3,903.1 L1789.7,903 L1791.1,903.8 L1792.5,902.6 L1793.9,903.2 L1795.2,903 L1796.6,902.5 L1798,903 L1799.4,902.1 L1800.8,903.1 L1802.2,902.1 L1803.5,902.2 L1804.9,902.6 L1806.3,902.8 L1807.7,902.8 L1809.1,902.8 L1810.5,902.2 L1811.9,901.8 L1813.2,902.5 L1814.6,902.3 L1816,901.7 L1817.4,902.6 L1818.8,902.2 L1820.2,901.6 L1821.5,902.3 L1822.9,901.4 L1824.3,901.6 L1825.7,902.2 L1827.1,901.2 L1828.5,902 L1829.9,901.3 L1831.2,902.3 L1832.6,901.6 L1834,902 L1835.4,901.1 L1836.8,901.7 L1838.2,902.3 L1839.6,902.1 L1840.9,900.9 L1842.3,902.3 L1843.7,902.3 L1845.1,901.6 L1846.5,902.5 L1847.9,901.2 L1849.2,901.7 L1850.6,902.3 L1852,902.4 L1853.4,902.4 L1854.8,901.2 L1856.2,900.8 L1857.6,901.9 L1858.9,901 L1860.3,901.6 L1861.7,901 L1863.1,902.2 L1864.5,902.1 L1865.9,901.9 L1867.3,901.7 L1868.6,901.7 L1870,901.5 L1871.4,901.8 L1872.8,901.7 L1874.2,901.8 L1875.6,901.4 L1877,902.5 L1878.3,901.7 L1879.7,902.3 L1881.1,902.2 L1882.5,901.1 L1883.9,900.7 L1885.3,902.2 L1886.6,901.4 L1888,901.6 L1889.4,901.4 L1890.8,901.6 L1892.2,900.9 L1893.6,901.5 L1895,901.3 L1896.3,901.5 L1897.7,900.4 L1899.1,901.9 L1900.5,901.7 L1901.9,900.6 L1903.3,901.1 L1904.6,901.5 L1906,901.8 L1907.4,901.5 L1908.8,902.2 L1910.2,901.5 L1911.6,901 L1913,901.1 L1914.3,901.9 L1915.7,901.2 L1917.1,901.9 L1918.5,902 L1919.9,901.8 L1921.3,902 L1922.7,901.4 L1924,901.5 L1925.4,901.2 L1926.8,901.1 L1928.2,900.7 L1929.6,901.2 L1931,900.9 L1932.4,900.7 L1933.7,901.5 L1935.1,901.7 L1936.5,901.3 L1937.9,902.1 L1939.3,901.9 L1940.7,902 L1942,901.1 L1943.4,900.7 L1944.8,901.7 L1946.2,901.6" fill="none" stroke="#8b0000" stroke-width="3.9" stroke-dasharray="0.1 6.8" stroke-linecap="round" />
<path d="M1448.3,1022.9 L1449.7,1022.9 L1451.1,1022.9 L1452.5,1022.9 L1453.8,1022.9 L1455.2,1022.9 L1456.6,1022.9 L1458,1022.9 L1459.4,1022.8 L1460.8,1022.8 L1462.2,1022.8 L1463.5,1022.8 L1464.9,1022.8 L1466.3,1022.8 L1467.7,1022.8 L1469.1,1022.8 L1470.5,1022.8 L1471.8,1022.8 L1473.2,1022.7 L1474.6,1022.7 L1476,1022.7 L1477.4,1022.7 L1478.8,1022.7 L1480.2,1022.7 L1481.5,1022.7 L1482.9,1022.7 L1484.3,1022.6 L1485.7,1022.6 L1487.1,1022.6 L1488.5,1022.6 L1489.9,1022.6 L1491.2,1022.6 L1492.6,1022.5 L1494,1022.5 L1495.4,1022.5 L1496.8,1022.5 L1498.2,1022.5 L1499.5,1022.5 L1500.9,1022.4 L1502.3,1022.4 L1503.7,1022.4 L1505.1,1022.4 L1506.5,1022.4 L1507.9,1022.3 L1509.2,1022.3 L1510.6,1022.3 L1512,1022.3 L1513.4,1022.2 L1514.8,1022.2 L1516.2,1022.2 L1517.5,1022.2 L1518.9,1022.1 L1520.3,1022.1 L1521.7,1022.1 L1523.1,1022.1 L1524.5,1022 L1525.9,1022 L1527.2,1022 L1528.6,1021.9 L1530,1021.9 L1531.4,1021.9 L1532.8,1021.8 L1534.2,1021.8 L1535.6,1021.7 L1536.9,1021.7 L1538.3,1021.7 L1539.7,1021.6 L1541.1,1021.6 L1542.5,1021.5 L1543.9,1021.5 L1545.2,1021.4 L1546.6,1021.4 L1548,1021.3 L1549.4,1021.3 L1550.8,1021.2 L1552.2,1021.2 L1553.6,1021.1 L1554.9,1021.1 L1556.3,1021 L1557.7,1020.9 L1559.1,1020.9 L1560.5,1020.8 L1561.9,1020.7 L1563.3,1020.6 L1564.6,1020.6 L1566,1020.5 L1567.4,1020.4 L1568.8,1020.3 L1570.2,1020.2 L1571.6,1020.1 L1573,1020 L1574.3,1019.9 L1575.7,1019.8 L1577.1,1019.7 L1578.5,1019.6 L1579.9,1019.5 L1581.3,1019.4 L1582.6,1019.2 L1584,1019.1 L1585.4,1019 L1586.8,1018.8 L1588.2,1018.7 L1589.6,1018.5 L1591,1018.3 L1592.3,1018.2 L1593.7,1018 L1595.1,1017.8 L1596.5,1017.6 L1597.9,1017.4 L1599.3,1017.1 L1600.7,1016.9 L1602,1016.6 L1603.4,1016.3 L1604.8,1016 L1606.2,1015.7 L1607.6,1015.4 L1609,1015 L1610.3,1014.6 L1611.7,1014.2 L1613.1,1013.7 L1614.5,1013.2 L1615.9,1012.6 L1617.3,1012 L1618.7,1011.4 L1620,1010.6 L1621.4,1009.9 L1622.8,1009 L1624.2,1008.1 L1625.6,1007.1 L1627,1006 L1628.4,1004.8 L1629.7,1003.6 L1631.1,1002.2 L1632.5,1000.7 L1633.9,999.1 L1635.3,997.4 L1636.7,995.6 L1638,993.7 L1639.4,991.6 L1640.8,989.5 L1642.2,987.2 L1643.6,984.8 L1645,982.3 L1646.4,979.8 L1647.7,977.1 L1649.1,974.4 L1650.5,971.6 L1651.9,968.8 L1653.3,966 L1654.7,963.2 L1656,960.5 L1657.4,957.8 L1658.8,955.2 L1660.2,952.8 L1661.6,950.5 L1663,948.5 L1664.4,946.7 L1665.7,945.1 L1667.1,944 L1668.5,943.1 L1669.9,942.7 L1671.3,942.8 L1672.7,943.3 L1674.1,944.3 L1675.4,945.9 L1676.8,948 L1678.2,950.7 L1679.6,954 L1681,957.8 L1682.4,962.2 L1683.8,967.2 L1685.1,972.7 L1686.5,978.7 L1687.9,985.2 L1689.3,992 L1690.7,999.2 L1692.1,1006.6 L1693.4,1014.2 L1694.8,1021.9 L1696.2,1030 L1697.6,1038.2 L1699,1046.1 L1700.4,1053.9 L1701.8,1061.2 L1703.1,1068.2 L1704.5,1074.6 L1705.9,1080.5 L1707.3,1085.8 L1708.7,1090.5 L1710.1,1094.5 L1711.5,1097.8 L1712.8,1100.5 L1714.2,1102.5 L1715.6,1103.8 L1717,1104.6 L1718.4,1104.8 L1719.8,1104.4 L1721.1,1103.6 L1722.5,1102.3 L1723.9,1100.6 L1725.3,1098.5 L1726.7,1096.1 L1728.1,1093.5 L1729.5,1090.7 L1730.8,1087.7 L1732.2,1084.7 L1733.6,1081.5 L1735,1078.3 L1736.4,1075.1 L1737.8,1071.9 L1739.2,1068.8 L1740.5,1065.8 L1741.9,1062.9 L1743.3,1060 L1744.7,1057.4 L1746.1,1054.8 L1747.5,1052.4 L1748.8,1050.1 L1750.2,1048 L1751.6,1046.1 L1753,1044.3 L1754.4,1042.6 L1755.8,1041.1 L1757.2,1039.6 L1758.5,1038.4 L1759.9,1037.2 L1761.3,1036.1 L1762.7,1035.2 L1764.1,1034.3 L1765.5,1033.5 L1766.8,1032.8 L1768.2,1032.1 L1769.6,1031.6 L1771,1031 L1772.4,1030.6 L1773.8,1030.2 L1775.2,1029.8 L1776.5,1029.4 L1777.9,1029.1 L1779.3,1028.8 L1780.7,1028.6 L1782.1,1028.3 L1783.5,1028.1 L1784.9,1027.9 L1786.2,1027.7 L1787.6,1027.5 L1789,1027.4 L1790.4,1027.2 L1791.8,1027.1 L1793.2,1026.9 L1794.6,1026.8 L1795.9,1026.7 L1797.3,1026.6 L1798.7,1026.5 L1800.1,1026.4 L1801.5,1026.3 L1802.9,1026.2 L1804.2,1026.1 L1805.6,1026 L1807,1025.9 L1808.4,1025.8 L1809.8,1025.8 L1811.2,1025.7 L1812.6,1025.6 L1813.9,1025.5 L1815.3,1025.5 L1816.7,1025.4 L1818.1,1025.4 L1819.5,1025.3 L1820.9,1025.2 L1822.2,1025.2 L1823.6,1025.1 L1825,1025.1 L1826.4,1025 L1827.8,1025 L1829.2,1025 L1830.6,1024.9 L1831.9,1024.9 L1833.3,1024.8 L1834.7,1024.8 L1836.1,1024.8 L1837.5,1024.7 L1838.9,1024.7 L1840.3,1024.7 L1841.6,1024.6 L1843,1024.6 L1844.4,1024.6 L1845.8,1024.5 L1847.2,1024.5 L1848.6,1024.5 L1850,1024.5 L1851.3,1024.4 L1852.7,1024.4 L1854.1,1024.4 L1855.5,1024.4 L1856.9,1024.3 L1858.3,1024.3 L1859.6,1024.3 L1861,1024.3 L1862.4,1024.3 L1863.8,1024.2 L1865.2,1024.2 L1866.6,1024.2 L1868,1024.2 L1869.3,1024.2 L1870.7,1024.1 L1872.1,1024.1 L1873.5,1024.1 L1874.9,1024.1 L1876.3,1024.1 L1877.7,1024.1 L1879,1024.1 L1880.4,1024 L1881.8,1024 L1883.2,1024 L1884.6,1024 L1886,1024 L1887.3,1024 L1888.7,1024 L1890.1,1024 L1891.5,1023.9 L1892.9,1023.9 L1894.3,1023.9 L1895.7,1023.9 L1897,1023.9 L1898.4,1023.9 L1899.8,1023.9 L1901.2,1023.9 L1902.6,1023.9 L1904,1023.9 L1905.3,1023.8 L1906.7,1023.8 L1908.1,1023.8 L1909.5,1023.8 L1910.9,1023.8 L1912.3,1023.8 L1913.7,1023.8 L1915,1023.8 L1916.4,1023.8 L1917.8,1023.8 L1919.2,1023.8 L1920.6,1023.8 L1922,1023.8 L1923.4,1023.8 L1924.7,1023.7 L1926.1,1023.7 L1927.5,1023.7 L1928.9,1023.7 L1930.3,1023.7 L1931.7,1023.7 L1933.1,1023.7 L1934.4,1023.7 L1935.8,1023.7 L1937.2,1023.7 L1938.6,1023.7 L1940,1023.7 L1941.4,1023.7 L1942.7,1023.7 L1944.1,1023.7 L1945.5,1023.7 L1946.9,1023.7" fill="none" stroke="#ff0000" stroke-width="2.1" />
<path d="M1447.6,1022.9 L1449,1023.1 L1450.4,1022.7 L1451.8,1023.1 L1453.1,1023.3 L1454.5,1023.1 L1455.9,1023.6 L1457.3,1022.4 L1458.7,1022.9 L1460.1,1022.5 L1461.5,1022.4 L1462.8,1022.7 L1464.2,1022.9 L1465.6,1023 L1467,1023 L1468.4,1023.9 L1469.8,1023.2 L1471.1,1022 L1472.5,1022.8 L1473.9,1022.4 L1475.3,1022.5 L1476.7,1023.4 L1478.1,1022.6 L1479.5,1021.7 L1480.8,1022.8 L1482.2,1022.5 L1483.6,1022.1 L1485,1022.2 L1486.4,1022.3 L1487.8,1022.6 L1489.2,1022.4 L1490.5,1022.6 L1491.9,1023.5 L1493.3,1022.1 L1494.7,1022.1 L1496.1,1022.4 L1497.5,1023 L1498.8,1022.1 L1500.2,1023.2 L1501.6,1021.8 L1503,1021.9 L1504.4,1022.4 L1505.8,1021.9 L1507.2,1022 L1508.5,1022.5 L1509.9,1022.7 L1511.3,1022.3 L1512.7,1022.1 L1514.1,1022.9 L1515.5,1022.4 L1516.8,1022.1 L1518.2,1022.7 L1519.6,1021.7 L1521,1022.2 L1522.4,1022.4 L1523.8,1022 L1525.2,1021.7 L1526.5,1022.1 L1527.9,1021.7 L1529.3,1021.6 L1530.7,1021.3 L1532.1,1022.5 L1533.5,1021.5 L1534.9,1022.3 L1536.2,1021.9 L1537.6,1021.5 L1539,1022 L1540.4,1021.7 L1541.8,1021.6 L1543.2,1020.8 L1544.5,1021.5 L1545.9,1021.8 L1547.3,1021.6 L1548.7,1021.8 L1550.1,1022 L1551.5,1021.4 L1552.9,1022.1 L1554.2,1020.3 L1555.6,1020.9 L1557,1019.7 L1558.4,1021.3 L1559.8,1020.8 L1561.2,1021.6 L1562.6,1020.5 L1563.9,1019.6 L1565.3,1021.1 L1566.7,1019.7 L1568.1,1019.7 L1569.5,1020.1 L1570.9,1020.4 L1572.2,1019.8 L1573.6,1020 L1575,1018.9 L1576.4,1020.6 L1577.8,1019.6 L1579.2,1019.6 L1580.6,1019.7 L1581.9,1019.3 L1583.3,1019.2 L1584.7,1018.5 L1586.1,1018.8 L1587.5,1018.9 L1588.9,1019 L1590.3,1018.3 L1591.6,1018.2 L1593,1018.2 L1594.4,1018.1 L1595.8,1017.7 L1597.2,1017.2 L1598.6,1016.9 L1600,1017.5 L1601.3,1016.8 L1602.7,1016.4 L1604.1,1017.8 L1605.5,1016.2 L1606.9,1015.8 L1608.3,1015.1 L1609.6,1014.1 L1611,1014.7 L1612.4,1013.6 L1613.8,1013.2 L1615.2,1013.1 L1616.6,1012.5 L1618,1011.5 L1619.3,1010.6 L1620.7,1010.9 L1622.1,1009.3 L1623.5,1007.6 L1624.9,1007.5 L1626.3,1006.1 L1627.7,1004.8 L1629,1003.9 L1630.4,1002.3 L1631.8,1001.7 L1633.2,999.2 L1634.6,997.6 L1636,996.2 L1637.3,993.4 L1638.7,992.1 L1640.1,989.4 L1641.5,987.8 L1642.9,984.4 L1644.3,982.5 L1645.7,979 L1647,976.9 L1648.4,974.4 L1649.8,971.9 L1651.2,969.8 L1652.6,966.9 L1654,962.5 L1655.3,960.1 L1656.7,958.4 L1658.1,955.4 L1659.5,952.1 L1660.9,950.8 L1662.3,947.9 L1663.7,946.2 L1665,944.5 L1666.4,943.8 L1667.8,944.3 L1669.2,942.9 L1670.6,942.7 L1672,944.6 L1673.4,944.1 L1674.7,945.8 L1676.1,947.9 L1677.5,950.9 L1678.9,953.8 L1680.3,958.6 L1681.7,962.1 L1683,967.5 L1684.4,972.8 L1685.8,978.3 L1687.2,984.7 L1688.6,992 L1690,998 L1691.4,1006.6 L1692.7,1014.2 L1694.1,1021.9 L1695.5,1030 L1696.9,1038.3 L1698.3,1046 L1699.7,1054.2 L1701.1,1060.4 L1702.4,1068.6 L1703.8,1074.2 L1705.2,1080.7 L1706.6,1085.6 L1708,1090.2 L1709.4,1094.1 L1710.8,1098.5 L1712.1,1099.9 L1713.5,1101.9 L1714.9,1104 L1716.3,1104.7 L1717.7,1104.8 L1719.1,1104 L1720.4,1103.3 L1721.8,1102.7 L1723.2,1100.1 L1724.6,1098.8 L1726,1096.5 L1727.4,1093.6 L1728.8,1090.1 L1730.1,1088.7 L1731.5,1084.7 L1732.9,1081.6 L1734.3,1078.1 L1735.7,1074.6 L1737.1,1071.8 L1738.5,1068.9 L1739.8,1065.4 L1741.2,1062.9 L1742.6,1060.6 L1744,1057.6 L1745.4,1054.8 L1746.8,1052.9 L1748.1,1050.6 L1749.5,1048.5 L1750.9,1045.7 L1752.3,1043.4 L1753.7,1043 L1755.1,1041.1 L1756.5,1039.5 L1757.8,1038.6 L1759.2,1037 L1760.6,1035.8 L1762,1036.1 L1763.4,1033.5 L1764.8,1033.9 L1766.1,1033.3 L1767.5,1033 L1768.9,1031.7 L1770.3,1031.3 L1771.7,1030.1 L1773.1,1030.2 L1774.5,1028.7 L1775.8,1029.1 L1777.2,1029.1 L1778.6,1028.8 L1780,1028.3 L1781.4,1028.9 L1782.8,1027.3 L1784.2,1028 L1785.5,1027.5 L1786.9,1027.5 L1788.3,1027.4 L1789.7,1028.2 L1791.1,1026.5 L1792.5,1027.6 L1793.9,1027.5 L1795.2,1026.6 L1796.6,1026.3 L1798,1025.8 L1799.4,1025.9 L1800.8,1027.3 L1802.2,1025.1 L1803.5,1026.3 L1804.9,1025.6 L1806.3,1026.8 L1807.7,1026 L1809.1,1025.1 L1810.5,1025.4 L1811.9,1025.7 L1813.2,1025.6 L1814.6,1025 L1816,1025.3 L1817.4,1025.1 L1818.8,1025.5 L1820.2,1025.4 L1821.5,1025.3 L1822.9,1024.9 L1824.3,1025.5 L1825.7,1024.8 L1827.1,1024.6 L1828.5,1024.7 L1829.9,1024.8 L1831.2,1024.7 L1832.6,1023.9 L1834,1025.5 L1835.4,1025.1 L1836.8,1025.4 L1838.2,1024.5 L1839.6,1025 L1840.9,1024.7 L1842.3,1024.6 L1843.7,1025.5 L1845.1,1024.2 L1846.5,1024.8 L1847.9,1023.6 L1849.2,1024.7 L1850.6,1024.3 L1852,1023.9 L1853.4,1024.1 L1854.8,1023.3 L1856.2,1023.8 L1857.6,1024.4 L1858.9,1023 L1860.3,1024.8 L1861.7,1024.7 L1863.1,1023.9 L1864.5,1023.5 L1865.9,1023.5 L1867.3,1023.5 L1868.6,1023.8 L1870,1025.2 L1871.4,1023.6 L1872.8,1024.5 L1874.2,1024.7 L1875.6,1023.6 L1877,1023.9 L1878.3,1024.4 L1879.7,1023.7 L1881.1,1024.6 L1882.5,1025.1 L1883.9,1024 L1885.3,1023.6 L1886.6,1024.3 L1888,1024.1 L1889.4,1023.6 L1890.8,1023.9 L1892.2,1024 L1893.6,1024.2 L1895,1024.5 L1896.3,1023.7 L1897.7,1023.2 L1899.1,1023.1 L1900.5,1024.8 L1901.9,1023.7 L1903.3,1023.7 L1904.6,1025.1 L1906,1024.4 L1907.4,1025 L1908.8,1023.7 L1910.2,1023.5 L1911.6,1023.5 L1913,1024.1 L1914.3,1024 L1915.7,1024 L1917.1,1024.9 L1918.5,1024.4 L1919.9,1023.2 L1921.3,1024 L1922.7,1024 L1924,1023.4 L1925.4,1024.9 L1926.8,1024.2 L1928.2,1024.5 L1929.6,1023.5 L1931,1023.1 L1932.4,1024.1 L1933.7,1023.6 L1935.1,1023.4 L1936.5,1023.7 L1937.9,1023.8 L1939.3,1023.8 L1940.7,1023.6 L1942,1023.9 L1943.4,1025.1 L1944.8,1024.3 L1946.2,1023.4" fill="none" stroke="#ff0000" stroke-width="3.9" stroke-dasharray="0.1 6.8" stroke-linecap="round" />
<line x1="1448.2" y1="707.5" x2="1448.2" y2="1124.3" stroke="#000" stroke-width="1.9" />
<line x1="1448.2" y1="1123.5" x2="1947.7" y2="1123.5" stroke="#000" stroke-width="1.9" />
<line x1="1503.7" y1="1123.5" x2="1503.7" y2="1129.5" stroke="#000" stroke-width="1.9" />
<text x="1503.7" y="1153.3" font-size="29.2" text-anchor="middle" fill="#000" stroke="#000" >3400</text>
<line x1="1614.5" y1="1123.5" x2="1614.5" y2="1129.5" stroke="#000" stroke-width="1.9" />
<text x="1614.5" y="1153.3" font-size="29.2" text-anchor="middle" fill="#000" stroke="#000" >3420</text>
<line x1="1725.3" y1="1123.5" x2="1725.3" y2="1129.5" stroke="#000" stroke-width="1.9" />
<text x="1725.3" y="1153.3" font-size="29.2" text-anchor="middle" fill="#000" stroke="#000" >3440</text>
<line x1="1836.1" y1="1123.5" x2="1836.1" y2="1129.5" stroke="#000" stroke-width="1.9" />
<text x="1836.1" y="1153.3" font-size="29.2" text-anchor="middle" fill="#000" stroke="#000" >3460</text>
<line x1="1946.9" y1="1123.5" x2="1946.9" y2="1129.5" stroke="#000" stroke-width="1.9" />
<text x="1946.9" y="1153.3" font-size="29.2" text-anchor="middle" fill="#000" stroke="#000" >3480</text>
<line x1="1448.3" y1="1123.5" x2="1448.3" y2="1126.5" stroke="#000" stroke-width="1.9" />
<line x1="1559.1" y1="1123.5" x2="1559.1" y2="1126.5" stroke="#000" stroke-width="1.9" />
<line x1="1669.9" y1="1123.5" x2="1669.9" y2="1126.5" stroke="#000" stroke-width="1.9" />
<line x1="1780.7" y1="1123.5" x2="1780.7" y2="1126.5" stroke="#000" stroke-width="1.9" />
<line x1="1891.5" y1="1123.5" x2="1891.5" y2="1126.5" stroke="#000" stroke-width="1.9" />
<text x="1453.05" y="777.9" font-size="29.2" text-anchor="start" fill="#000" stroke="#000" >PHT in dark</text>
<text x="1456.25" y="853.8" font-size="29.2" text-anchor="start" fill="#000" stroke="#000" >PHT under light</text>
<text x="1453.65" y="936.2" font-size="29.2" text-anchor="start" fill="#000" stroke="#000" >PYT in dark</text>
<text x="1456.85" y="1057.3" font-size="29.2" text-anchor="start" fill="#000" stroke="#000" >PYT under light</text>
<text x="1401.75" y="664" font-size="29.2" text-anchor="start" fill="#000" stroke="#000" >f)</text>
<text x="1417" y="915.9" font-size="29.2" text-anchor="middle" fill="#000" stroke="#000" transform="rotate(-90 1417 915.9)" >Intensity (arb.units)</text>
<text x="1698" y="1201.7" font-size="29.2" text-anchor="middle" fill="#000" stroke="#000" ><tspan font-style="italic">B</tspan> (G)</text>
</g>
<g id="pg">
<text x="-1.25" y="1241" font-size="29.2" text-anchor="start" fill="#000" stroke="#000" >g)</text>
<text x="204" y="1288" font-size="29.2" text-anchor="middle" fill="#000" stroke="#000" >π–π*</text>
<text x="204" y="1327" font-size="29.2" text-anchor="middle" fill="#000" stroke="#000" >λ<tspan font-size="19" dy="6">exc</tspan><tspan dy="-6"> ≤ 450nm</tspan></text>
<text x="462.5" y="1288" font-size="29.2" text-anchor="middle" fill="#000" stroke="#000" >n–π*</text>
<text x="462.5" y="1327" font-size="29.2" text-anchor="middle" fill="#000" stroke="#000" >λ<tspan font-size="19" dy="6">exc</tspan><tspan dy="-6"> &gt; 450nm</tspan></text>
<path d="M141.9,1408 L141.9,1384.3 L261,1384.3 L261,1408" fill="none" stroke="#747474" stroke-width="1.8" stroke-linejoin="round"/>
<line x1="202.6" y1="1349" x2="202.6" y2="1384.3" stroke="#747474" stroke-width="1.8" />
<path d="M272,1408 L272,1384.3 L652.6,1384.3 L652.6,1408" fill="none" stroke="#747474" stroke-width="1.8" stroke-linejoin="round"/>
<line x1="462.1" y1="1349" x2="462.1" y2="1384.3" stroke="#747474" stroke-width="1.8" />
<rect x="141.2" y="1407.8" width="511" height="178.84" fill="#ff8080"/>
<rect x="141.2" y="1908.8" width="511" height="91.2" fill="#c0c0c0"/>
<line x1="143" y1="1770.1" x2="651.5" y2="1770.1" stroke="#e60000" stroke-width="4" stroke-linecap="round"/>
<line x1="143" y1="1832.4" x2="651.5" y2="1832.4" stroke="#cc0000" stroke-width="4.2" stroke-linecap="round"/>
<line x1="143" y1="1860.2" x2="651.5" y2="1860.2" stroke="#a80000" stroke-width="4.2" stroke-linecap="round"/>
<line x1="143" y1="1878.3" x2="651.5" y2="1878.3" stroke="#8b0000" stroke-width="4.2" stroke-linecap="round"/>
<line x1="143" y1="1890" x2="651.5" y2="1890" stroke="#700000" stroke-width="4" stroke-linecap="round"/>
<line x1="143" y1="1896.2" x2="651.5" y2="1896.2" stroke="#500000" stroke-width="4" stroke-linecap="round"/>
<line x1="143" y1="1901.9" x2="651.5" y2="1901.9" stroke="#300000" stroke-width="4" stroke-linecap="round"/>
<line x1="142.95" y1="1586.64" x2="650.95" y2="1586.64" stroke="#ff0000" stroke-width="16.5" stroke-linecap="round"/>
<line x1="141.6" y1="1910.5" x2="652.4" y2="1910.5" stroke="#000" stroke-width="13.6" stroke-linecap="round"/>
<line x1="130.6" y1="1407.1" x2="130.6" y2="2000.7" stroke="#404040" stroke-width="1.4" />
<line x1="130.6" y1="1407.8" x2="117.7" y2="1407.8" stroke="#404040" stroke-width="1.4" />
<text x="108.51" y="1416.2" font-size="29.2" text-anchor="end" fill="#000" stroke="#000" >-2</text>
<line x1="130.6" y1="1526.24" x2="117.7" y2="1526.24" stroke="#404040" stroke-width="1.4" />
<text x="108.26" y="1534.64" font-size="29.2" text-anchor="end" fill="#000" stroke="#000" >-3</text>
<line x1="130.6" y1="1644.68" x2="117.7" y2="1644.68" stroke="#404040" stroke-width="1.4" />
<text x="107.76" y="1653.08" font-size="29.2" text-anchor="end" fill="#000" stroke="#000" >-4</text>
<line x1="130.6" y1="1763.12" x2="117.7" y2="1763.12" stroke="#404040" stroke-width="1.4" />
<text x="108.26" y="1771.52" font-size="29.2" text-anchor="end" fill="#000" stroke="#000" >-5</text>
<line x1="130.6" y1="1881.56" x2="117.7" y2="1881.56" stroke="#404040" stroke-width="1.4" />
<text x="108.26" y="1889.96" font-size="29.2" text-anchor="end" fill="#000" stroke="#000" >-6</text>
<line x1="130.6" y1="2000" x2="117.7" y2="2000" stroke="#404040" stroke-width="1.4" />
<text x="108.51" y="2008.4" font-size="29.2" text-anchor="end" fill="#000" stroke="#000" >-7</text>
<line x1="130.6" y1="1467.02" x2="124.2" y2="1467.02" stroke="#404040" stroke-width="1.4" />
<line x1="130.6" y1="1585.46" x2="124.2" y2="1585.46" stroke="#404040" stroke-width="1.4" />
<line x1="130.6" y1="1703.9" x2="124.2" y2="1703.9" stroke="#404040" stroke-width="1.4" />
<line x1="130.6" y1="1822.34" x2="124.2" y2="1822.34" stroke="#404040" stroke-width="1.4" />
<line x1="130.6" y1="1940.78" x2="124.2" y2="1940.78" stroke="#404040" stroke-width="1.4" />
<text x="50" y="1699" font-size="29.2" text-anchor="middle" fill="#000" stroke="#000" transform="rotate(-90 50 1699)" ><tspan font-style="italic">E</tspan> (eV)</text>
<text x="346.45" y="2028.3" font-size="29.2" text-anchor="start" fill="#000" stroke="#000" >PHT</text>
<line x1="166" y1="1930" x2="166" y2="1593.7" stroke="#000" stroke-width="1.2" />
<path d="M166,1573 L159,1596 L173,1596Z" fill="#000" stroke="none" stroke-width="1" />
<line x1="250.3" y1="1617.3" x2="250.3" y2="1864.7" stroke="#000" stroke-width="1.2" />
<path d="M250.3,1885.4 L243.3,1862.4 L257.3,1862.4Z" fill="#000" stroke="none" stroke-width="1" />
<path d="M287.8,1838.1 L287.8,1603.4 L282.5,1603.4 L292,1573.4 L301.5,1603.4 L296.2,1603.4 L296.2,1838.1Z" fill="#8c8c8c" stroke="none" stroke-width="1" />
<path d="M377.4,1616.9 L377.4,1806.4 L371.9,1806.4 L381.4,1836.4 L390.9,1806.4 L385.4,1806.4 L385.4,1616.9Z" fill="#8c8c8c" stroke="none" stroke-width="1" />
<path d="M413.8,1808.3 L413.8,1611.2 L408.6,1611.2 L420,1577.7 L431.4,1611.2 L426.2,1611.2 L426.2,1808.3Z" fill="#ababab" stroke="none" stroke-width="1" />
<path d="M502.7,1614.6 L502.7,1773.8 L497.5,1773.8 L508.9,1808.3 L520.3,1773.8 L515.1,1773.8 L515.1,1614.6Z" fill="#ababab" stroke="none" stroke-width="1" />
<path d="M538.1,1746.3 L538.1,1616.7 L532.7,1616.7 L546.1,1572.7 L559.5,1616.7 L554.1,1616.7 L554.1,1746.3Z" fill="#d0d0d0" stroke="none" stroke-width="1" />
<path d="M624.2,1620.3 L624.2,1708.6 L619,1708.6 L632.2,1749.6 L645.5,1708.6 L640.2,1708.6 L640.2,1620.3Z" fill="#d0d0d0" stroke="none" stroke-width="1" />
<g transform="translate(183.8 1558.3) rotate(26.24)"><path d="M0,0 a3.08,3.3 0 0 0 6.16,0 a3.08,3.3 0 0 1 6.16,0 a3.08,3.3 0 0 0 6.16,0 a3.08,3.3 0 0 1 6.16,0 a3.08,3.3 0 0 0 6.16,0 a3.08,3.3 0 0 1 6.16,0 L38.44,0" fill="none" stroke="#000" stroke-width="2" stroke-linecap="round" stroke-linejoin="round"/><path d="M54.74,0 L37.44,-5 L37.44,5 Z" fill="#000"/></g>
<g transform="translate(312.1 1558.5) rotate(24.82)"><path d="M0,0 a3.1,3.3 0 0 0 6.2,0 a3.1,3.3 0 0 1 6.2,0 a3.1,3.3 0 0 0 6.2,0 a3.1,3.3 0 0 1 6.2,0 a3.1,3.3 0 0 0 6.2,0 a3.1,3.3 0 0 1 6.2,0 L40.88,0" fill="none" stroke="#000" stroke-width="2" stroke-linecap="round" stroke-linejoin="round"/><path d="M57.18,0 L39.88,-5 L39.88,5 Z" fill="#000"/></g>
<g transform="translate(437.9 1559) rotate(23.83)"><path d="M0,0 a3.1,3.3 0 0 0 6.2,0 a3.1,3.3 0 0 1 6.2,0 a3.1,3.3 0 0 0 6.2,0 a3.1,3.3 0 0 1 6.2,0 a3.1,3.3 0 0 0 6.2,0 a3.1,3.3 0 0 1 6.2,0 L41.86,0" fill="none" stroke="#000" stroke-width="2" stroke-linecap="round" stroke-linejoin="round"/><path d="M58.16,0 L40.86,-5 L40.86,5 Z" fill="#000"/></g>
<g transform="translate(565.3 1558.8) rotate(25.02)"><path d="M0,0 a3.09,3.3 0 0 0 6.17,0 a3.09,3.3 0 0 1 6.17,0 a3.09,3.3 0 0 0 6.17,0 a3.09,3.3 0 0 1 6.17,0 a3.09,3.3 0 0 0 6.17,0 a3.09,3.3 0 0 1 6.17,0 L38.55,0" fill="none" stroke="#000" stroke-width="2" stroke-linecap="round" stroke-linejoin="round"/><path d="M54.85,0 L37.55,-5 L37.55,5 Z" fill="#000"/></g>
<circle cx="164.5" cy="1551.7" r="17.9" fill="#fff" stroke="#000" stroke-width="1.2"/>
<text x="150" y="1560.05" font-size="31.5" text-anchor="start" fill="#000" stroke="#000" style="stroke-width:0.3px">e</text>
<text x="166.6" y="1547.3" font-size="17" text-anchor="start" fill="#000" stroke="#000" style="stroke-width:0">–</text>
<circle cx="292.8" cy="1551.9" r="17.9" fill="#fff" stroke="#000" stroke-width="1.2"/>
<text x="278.3" y="1560.25" font-size="31.5" text-anchor="start" fill="#000" stroke="#000" style="stroke-width:0.3px">e</text>
<text x="294.9" y="1547.5" font-size="17" text-anchor="start" fill="#000" stroke="#000" style="stroke-width:0">–</text>
<circle cx="418.6" cy="1552.4" r="17.9" fill="#fff" stroke="#000" stroke-width="1.2"/>
<text x="404.1" y="1560.75" font-size="31.5" text-anchor="start" fill="#000" stroke="#000" style="stroke-width:0.3px">e</text>
<text x="420.7" y="1548" font-size="17" text-anchor="start" fill="#000" stroke="#000" style="stroke-width:0">–</text>
<circle cx="546" cy="1552.2" r="17.9" fill="#fff" stroke="#000" stroke-width="1.2"/>
<text x="531.5" y="1560.55" font-size="31.5" text-anchor="start" fill="#000" stroke="#000" style="stroke-width:0.3px">e</text>
<text x="548.1" y="1547.8" font-size="17" text-anchor="start" fill="#000" stroke="#000" style="stroke-width:0">–</text>
<circle cx="250.2" cy="1594" r="17.9" fill="#fff" stroke="#000" stroke-width="1.2"/>
<text x="235.7" y="1602.35" font-size="31.5" text-anchor="start" fill="#000" stroke="#000" style="stroke-width:0.3px">e</text>
<text x="252.3" y="1589.6" font-size="17" text-anchor="start" fill="#000" stroke="#000" style="stroke-width:0">–</text>
<circle cx="381.3" cy="1594" r="17.9" fill="#fff" stroke="#000" stroke-width="1.2"/>
<text x="366.8" y="1602.35" font-size="31.5" text-anchor="start" fill="#000" stroke="#000" style="stroke-width:0.3px">e</text>
<text x="383.4" y="1589.6" font-size="17" text-anchor="start" fill="#000" stroke="#000" style="stroke-width:0">–</text>
<circle cx="508.4" cy="1594" r="17.9" fill="#fff" stroke="#000" stroke-width="1.2"/>
<text x="493.9" y="1602.35" font-size="31.5" text-anchor="start" fill="#000" stroke="#000" style="stroke-width:0.3px">e</text>
<text x="510.5" y="1589.6" font-size="17" text-anchor="start" fill="#000" stroke="#000" style="stroke-width:0">–</text>
<circle cx="632.3" cy="1593.5" r="17.9" fill="#fff" stroke="#000" stroke-width="1.2"/>
<text x="617.8" y="1601.85" font-size="31.5" text-anchor="start" fill="#000" stroke="#000" style="stroke-width:0.3px">e</text>
<text x="634.4" y="1589.1" font-size="17" text-anchor="start" fill="#000" stroke="#000" style="stroke-width:0">–</text>
<g transform="translate(185.2 1947.6) rotate(-29.18)"><path d="M0,0 a2.93,3.3 0 0 0 5.85,0 a2.93,3.3 0 0 1 5.85,0 a2.93,3.3 0 0 0 5.85,0 a2.93,3.3 0 0 1 5.85,0 a2.93,3.3 0 0 0 5.85,0 a2.93,3.3 0 0 1 5.85,0 L36.62,0" fill="none" stroke="#000" stroke-width="2" stroke-linecap="round" stroke-linejoin="round"/><path d="M52.92,0 L35.62,-5 L35.62,5 Z" fill="#000"/></g>
<g transform="translate(313.5 1859.3) rotate(-0.81)"><path d="M0,0 a3.1,3.8 0 0 0 6.2,0 a3.1,3.8 0 0 1 6.2,0 a3.1,3.8 0 0 0 6.2,0 a3.1,3.8 0 0 1 6.2,0 L33.5,0" fill="none" stroke="#000" stroke-width="2" stroke-linecap="round" stroke-linejoin="round"/><path d="M49.8,0 L32.5,-5 L32.5,5 Z" fill="#000"/></g>
<g transform="translate(442.5 1831.9) rotate(0)"><path d="M0,0 a3.1,3.8 0 0 0 6.2,0 a3.1,3.8 0 0 1 6.2,0 a3.1,3.8 0 0 0 6.2,0 a3.1,3.8 0 0 1 6.2,0 L30.7,0" fill="none" stroke="#000" stroke-width="2" stroke-linecap="round" stroke-linejoin="round"/><path d="M47,0 L29.7,-5 L29.7,5 Z" fill="#000"/></g>
<g transform="translate(567.5 1769.9) rotate(0)"><path d="M0,0 a3.1,3.8 0 0 0 6.2,0 a3.1,3.8 0 0 1 6.2,0 a3.1,3.8 0 0 0 6.2,0 a3.1,3.8 0 0 1 6.2,0 L30.5,0" fill="none" stroke="#000" stroke-width="2" stroke-linecap="round" stroke-linejoin="round"/><path d="M46.8,0 L29.5,-5 L29.5,5 Z" fill="#000"/></g>
<circle cx="165.9" cy="1952" r="17.9" fill="#fff" stroke="#000" stroke-width="1.2"/>
<text x="153.3" y="1963" font-size="28" text-anchor="start" fill="#000" stroke="#000" style="stroke-width:0.3px">h</text>
<text x="169.95" y="1951.1" font-size="18" text-anchor="start" fill="#000" stroke="#000" style="stroke-width:0.2px">+</text>
<circle cx="250.7" cy="1906.1" r="17.9" fill="#fff" stroke="#000" stroke-width="1.2"/>
<text x="238.1" y="1917.1" font-size="28" text-anchor="start" fill="#000" stroke="#000" style="stroke-width:0.3px">h</text>
<text x="254.75" y="1905.2" font-size="18" text-anchor="start" fill="#000" stroke="#000" style="stroke-width:0.2px">+</text>
<circle cx="292.2" cy="1859.9" r="17.9" fill="#fff" stroke="#000" stroke-width="1.2"/>
<text x="279.6" y="1870.9" font-size="28" text-anchor="start" fill="#000" stroke="#000" style="stroke-width:0.3px">h</text>
<text x="296.25" y="1859" font-size="18" text-anchor="start" fill="#000" stroke="#000" style="stroke-width:0.2px">+</text>
<circle cx="382" cy="1858.2" r="17.9" fill="#fff" stroke="#000" stroke-width="1.2"/>
<text x="369.4" y="1869.2" font-size="28" text-anchor="start" fill="#000" stroke="#000" style="stroke-width:0.3px">h</text>
<text x="386.05" y="1857.3" font-size="18" text-anchor="start" fill="#000" stroke="#000" style="stroke-width:0.2px">+</text>
<circle cx="421.4" cy="1831.7" r="17.9" fill="#fff" stroke="#000" stroke-width="1.2"/>
<text x="408.8" y="1842.7" font-size="28" text-anchor="start" fill="#000" stroke="#000" style="stroke-width:0.3px">h</text>
<text x="425.45" y="1830.8" font-size="18" text-anchor="start" fill="#000" stroke="#000" style="stroke-width:0.2px">+</text>
<circle cx="508.2" cy="1831.7" r="17.9" fill="#fff" stroke="#000" stroke-width="1.2"/>
<text x="495.6" y="1842.7" font-size="28" text-anchor="start" fill="#000" stroke="#000" style="stroke-width:0.3px">h</text>
<text x="512.25" y="1830.8" font-size="18" text-anchor="start" fill="#000" stroke="#000" style="stroke-width:0.2px">+</text>
<circle cx="546.4" cy="1769.7" r="17.9" fill="#fff" stroke="#000" stroke-width="1.2"/>
<text x="533.8" y="1780.7" font-size="28" text-anchor="start" fill="#000" stroke="#000" style="stroke-width:0.3px">h</text>
<text x="550.45" y="1768.8" font-size="18" text-anchor="start" fill="#000" stroke="#000" style="stroke-width:0.2px">+</text>
<circle cx="632.9" cy="1769.7" r="17.9" fill="#fff" stroke="#000" stroke-width="1.2"/>
<text x="620.3" y="1780.7" font-size="28" text-anchor="start" fill="#000" stroke="#000" style="stroke-width:0.3px">h</text>
<text x="636.95" y="1768.8" font-size="18" text-anchor="start" fill="#000" stroke="#000" style="stroke-width:0.2px">+</text>
<path d="M664.7,1407.8 L782.7,1407.8 L782.7,1589.5 L782.7,1589.5 L781.2,1589.9 L779.2,1590.6 L776.7,1591.4 L774,1592.3 L771.3,1593.1 L768.6,1593.8 L766,1594.4 L763.2,1595 L760.4,1595.6 L757.6,1596.2 L754.7,1596.7 L751.9,1597.2 L749.1,1597.6 L746.3,1598 L743.5,1598.4 L740.7,1598.8 L737.9,1599.1 L735.1,1599.5 L732.3,1599.8 L729.5,1600.2 L726.7,1600.5 L723.9,1600.8 L721.2,1601.1 L718.4,1601.5 L715.6,1602 L712.8,1602.4 L710,1602.9 L707.2,1603.5 L704.4,1604 L701.6,1604.5 L698.8,1605.1 L695.9,1605.6 L693,1606.1 L690.2,1606.6 L687.5,1607.2 L684.9,1607.9 L682.3,1608.6 L679.8,1609.5 L677.4,1610.3 L675.2,1611.2 L673.2,1612.1 L671.4,1612.9 L670.1,1613.7 L669,1614.4 L668.2,1615 L667.5,1615.7 L667,1616.5 L666.4,1617.3 L665.9,1618.2 L665.6,1619.3 L665.3,1620.4 L665.1,1621.4 L664.9,1622.3 L664.7,1623Z" fill="#ff8080" stroke="none" stroke-width="1" />
<path d="M664.7,2000 L782.7,2000 L782.7,1908.8 L782.7,1908.8 L781.2,1908.1 L779.2,1907.1 L776.7,1906 L774,1904.7 L771.3,1903.7 L768.6,1902.8 L766,1902.2 L763.2,1901.7 L760.4,1901.4 L757.6,1901.1 L754.7,1900.8 L751.9,1900.4 L749.1,1900.1 L746.3,1899.7 L743.5,1899.4 L740.7,1899.1 L737.9,1898.8 L735.1,1898.4 L732.1,1898.1 L728.9,1897.7 L725.7,1897.3 L722.7,1896.9 L720.2,1896.6 L718.4,1896.4 L701.6,1902.8 L664.7,1916.2Z" fill="#c0c0c0" stroke="none" stroke-width="1" />
<path d="M664.7,1741.9 L664.9,1743.3 L665.1,1745.3 L665.4,1747.6 L665.7,1750.1 L666,1752.8 L666.4,1755.3 L666.9,1757.9 L667.4,1760.7 L667.9,1763.5 L668.5,1766.4 L669.1,1769.3 L669.8,1772.1 L670.5,1774.8 L671.1,1777.4 L671.9,1780.1 L672.7,1782.8 L673.7,1785.7 L674.8,1788.8 L676.2,1792.4 L677.8,1796.3 L679.5,1800.4 L681.3,1804.5 L683.1,1808.5 L684.9,1812.3 L686.5,1815.9 L688.2,1819.4 L689.9,1822.8 L691.6,1826.1 L693.2,1829.3 L694.9,1832.4 L696.6,1835.4 L698.3,1838.4 L699.9,1841.2 L701.6,1844 L703.3,1846.6 L705,1849.2 L706.7,1851.6 L708.4,1853.9 L710.2,1856.2 L711.9,1858.4 L713.5,1860.5 L715,1862.6 L716.4,1864.6 L717.6,1866.7 L718.8,1868.6 L719.9,1870.6 L720.9,1872.5 L721.7,1874.3 L722.4,1876.1 L723.1,1877.7 L723.6,1879.3 L724,1880.9 L724.3,1882.6 L724.4,1884.4 L724.4,1886.2 L724.3,1888.2 L724,1890.2 L723.6,1892.2 L723.1,1894.2 L722.4,1896.1 L721.5,1897.9 L720.5,1899.7 L719.4,1901.4 L718.1,1903.1 L716.7,1904.9 L715,1906.8 L713.1,1908.8 L711,1910.9 L708.7,1913 L706.3,1915.2 L703.9,1917.4 L701.6,1919.5 L699.3,1921.7 L697,1924 L694.7,1926.2 L692.4,1928.5 L690.2,1930.7 L688.2,1932.9 L686.3,1935.2 L684.5,1937.5 L682.8,1939.8 L681.2,1942.1 L679.6,1944.3 L678.2,1946.4 L676.8,1948.3 L675.5,1950.2 L674.3,1951.9 L673.1,1953.7 L672.1,1955.4 L671.1,1957.1 L670.2,1958.8 L669.4,1960.5 L668.6,1962.1 L667.9,1963.8 L667.3,1965.5 L666.8,1967.1 L666.3,1968.9 L665.8,1970.9 L665.5,1972.8 L665.2,1974.6 L664.9,1976.1 L664.7,1977.2Z" fill="#5a0000" stroke="none" stroke-width="1" />
<line x1="664.4" y1="1407.8" x2="664.4" y2="2000" stroke="#000" stroke-width="1.4" />
<text x="700.1" y="1433" font-size="29.2" text-anchor="start" fill="#000" stroke="#000" >CB</text>
<text x="703.3" y="1992.6" font-size="29.2" text-anchor="start" fill="#000" stroke="#000" >VB</text>
<text x="1447" y="1286.2" font-size="29.2" text-anchor="middle" fill="#000" stroke="#000" >π–π*</text>
<text x="1447" y="1324.4" font-size="29.2" text-anchor="middle" fill="#000" stroke="#000" >λ<tspan font-size="19" dy="6">exc</tspan><tspan dy="-6"> ≤ 500nm</tspan></text>
<text x="1706.9" y="1282.2" font-size="29.2" text-anchor="middle" fill="#000" stroke="#000" >n–π*</text>
<text x="1706.9" y="1321.6" font-size="29.2" text-anchor="middle" fill="#000" stroke="#000" >λ<tspan font-size="19" dy="6">exc</tspan><tspan dy="-6"> &gt; 500nm</tspan></text>
<path d="M1387.3,1408 L1387.3,1384.4 L1506,1384.4 L1506,1408" fill="none" stroke="#747474" stroke-width="1.8" stroke-linejoin="round"/>
<line x1="1446.8" y1="1349" x2="1446.8" y2="1384.4" stroke="#747474" stroke-width="1.8" />
<path d="M1517.6,1408 L1517.6,1384.4 L1903,1384.4 L1903,1408" fill="none" stroke="#747474" stroke-width="1.8" stroke-linejoin="round"/>
<line x1="1706.9" y1="1349" x2="1706.9" y2="1384.4" stroke="#747474" stroke-width="1.8" />
<rect x="1381" y="1407.8" width="522.4" height="110.15" fill="#ff8080"/>
<rect x="1381" y="1814.05" width="522.4" height="185.95" fill="#c0c0c0"/>
<line x1="1388.3" y1="1652" x2="1897" y2="1652" stroke="#ff0000" stroke-width="4" stroke-linecap="round"/>
<line x1="1388.3" y1="1685.4" x2="1897" y2="1685.4" stroke="#d40000" stroke-width="4.2" stroke-linecap="round"/>
<line x1="1388.3" y1="1708.3" x2="1897" y2="1708.3" stroke="#aa0000" stroke-width="4.2" stroke-linecap="round"/>
<line x1="1388.3" y1="1720.7" x2="1897" y2="1720.7" stroke="#900000" stroke-width="4.2" stroke-linecap="round"/>
<line x1="1388.3" y1="1732" x2="1897" y2="1732" stroke="#780000" stroke-width="4.2" stroke-linecap="round"/>
<line x1="1388.3" y1="1744.4" x2="1897" y2="1744.4" stroke="#600000" stroke-width="4.2" stroke-linecap="round"/>
<line x1="1388.3" y1="1773.7" x2="1897" y2="1773.7" stroke="#400000" stroke-width="4.2" stroke-linecap="round"/>
<line x1="1388.75" y1="1517.95" x2="1896.75" y2="1517.95" stroke="#ff0000" stroke-width="16.5" stroke-linecap="round"/>
<line x1="1389" y1="1814.05" x2="1896.5" y2="1814.05" stroke="#000" stroke-width="17" stroke-linecap="round"/>
<line x1="1909" y1="1407.1" x2="1909" y2="2000.7" stroke="#404040" stroke-width="1.4" />
<line x1="1909" y1="1407.8" x2="1921.9" y2="1407.8" stroke="#404040" stroke-width="1.4" />
<text x="1931.05" y="1416.2" font-size="29.2" text-anchor="start" fill="#000" stroke="#000" >-2</text>
<line x1="1909" y1="1526.24" x2="1921.9" y2="1526.24" stroke="#404040" stroke-width="1.4" />
<text x="1931.05" y="1534.64" font-size="29.2" text-anchor="start" fill="#000" stroke="#000" >-3</text>
<line x1="1909" y1="1644.68" x2="1921.9" y2="1644.68" stroke="#404040" stroke-width="1.4" />
<text x="1931.05" y="1653.08" font-size="29.2" text-anchor="start" fill="#000" stroke="#000" >-4</text>
<line x1="1909" y1="1763.12" x2="1921.9" y2="1763.12" stroke="#404040" stroke-width="1.4" />
<text x="1931.05" y="1771.52" font-size="29.2" text-anchor="start" fill="#000" stroke="#000" >-5</text>
<line x1="1909" y1="1881.56" x2="1921.9" y2="1881.56" stroke="#404040" stroke-width="1.4" />
<text x="1931.05" y="1889.96" font-size="29.2" text-anchor="start" fill="#000" stroke="#000" >-6</text>
<line x1="1909" y1="2000" x2="1921.9" y2="2000" stroke="#404040" stroke-width="1.4" />
<text x="1931.05" y="2008.4" font-size="29.2" text-anchor="start" fill="#000" stroke="#000" >-7</text>
<line x1="1909" y1="1467.02" x2="1915.4" y2="1467.02" stroke="#404040" stroke-width="1.4" />
<line x1="1909" y1="1585.46" x2="1915.4" y2="1585.46" stroke="#404040" stroke-width="1.4" />
<line x1="1909" y1="1703.9" x2="1915.4" y2="1703.9" stroke="#404040" stroke-width="1.4" />
<line x1="1909" y1="1822.34" x2="1915.4" y2="1822.34" stroke="#404040" stroke-width="1.4" />
<line x1="1909" y1="1940.78" x2="1915.4" y2="1940.78" stroke="#404040" stroke-width="1.4" />
<text x="1987.5" y="1702.6" font-size="29.2" text-anchor="middle" fill="#000" stroke="#000" transform="rotate(-90 1987.5 1702.6)" ><tspan font-style="italic">E</tspan>(eV)</text>
<text x="1601.35" y="2028.9" font-size="29.2" text-anchor="start" fill="#000" stroke="#000" >PYT</text>
<line x1="1406.8" y1="1841" x2="1406.8" y2="1523.9" stroke="#000" stroke-width="1.2" />
<path d="M1406.8,1503.2 L1399.8,1526.2 L1413.8,1526.2Z" fill="#000" stroke="none" stroke-width="1" />
<line x1="1494" y1="1550.6" x2="1494" y2="1770.3" stroke="#000" stroke-width="1.2" />
<path d="M1494,1791 L1487,1768 L1501,1768Z" fill="#000" stroke="none" stroke-width="1" />
<path d="M1534.1,1718.7 L1534.1,1536 L1528.7,1536 L1538.2,1506 L1547.7,1536 L1542.3,1536 L1542.3,1718.7Z" fill="#8c8c8c" stroke="none" stroke-width="1" />
<path d="M1621,1549.4 L1621,1687.7 L1615.8,1687.7 L1625,1716.7 L1634.2,1687.7 L1629,1687.7 L1629,1549.4Z" fill="#8c8c8c" stroke="none" stroke-width="1" />
<path d="M1666,1689.4 L1666,1540.5 L1660.6,1540.5 L1672,1507 L1683.4,1540.5 L1678,1540.5 L1678,1689.4Z" fill="#ababab" stroke="none" stroke-width="1" />
<path d="M1751.5,1549.4 L1751.5,1651.4 L1746.2,1651.4 L1757.5,1685.4 L1768.8,1651.4 L1763.5,1651.4 L1763.5,1549.4Z" fill="#ababab" stroke="none" stroke-width="1" />
<path d="M1789.5,1632.3 L1789.5,1554 L1784.3,1554 L1797.7,1512 L1811.1,1554 L1806,1554 L1806,1632.3Z" fill="#d0d0d0" stroke="none" stroke-width="1" />
<path d="M1873.8,1548.2 L1873.8,1591.8 L1869.3,1591.8 L1882.1,1633.8 L1894.8,1591.8 L1890.3,1591.8 L1890.3,1548.2Z" fill="#d0d0d0" stroke="none" stroke-width="1" />
<g transform="translate(1427 1487.9) rotate(28.25)"><path d="M0,0 a3.1,3.3 0 0 0 6.2,0 a3.1,3.3 0 0 1 6.2,0 a3.1,3.3 0 0 0 6.2,0 a3.1,3.3 0 0 1 6.2,0 a3.1,3.3 0 0 0 6.2,0 a3.1,3.3 0 0 1 6.2,0 L40.12,0" fill="none" stroke="#000" stroke-width="2" stroke-linecap="round" stroke-linejoin="round"/><path d="M56.42,0 L39.12,-5 L39.12,5 Z" fill="#000"/></g>
<g transform="translate(1556.4 1492.7) rotate(23.12)"><path d="M0,0 a3.1,3.3 0 0 0 6.2,0 a3.1,3.3 0 0 1 6.2,0 a3.1,3.3 0 0 0 6.2,0 a3.1,3.3 0 0 1 6.2,0 a3.1,3.3 0 0 0 6.2,0 a3.1,3.3 0 0 1 6.2,0 L39.48,0" fill="none" stroke="#000" stroke-width="2" stroke-linecap="round" stroke-linejoin="round"/><path d="M55.78,0 L38.48,-5 L38.48,5 Z" fill="#000"/></g>
<g transform="translate(1691 1492.7) rotate(23.58)"><path d="M0,0 a2.95,3.3 0 0 0 5.91,0 a2.95,3.3 0 0 1 5.91,0 a2.95,3.3 0 0 0 5.91,0 a2.95,3.3 0 0 1 5.91,0 a2.95,3.3 0 0 0 5.91,0 a2.95,3.3 0 0 1 5.91,0 L36.95,0" fill="none" stroke="#000" stroke-width="2" stroke-linecap="round" stroke-linejoin="round"/><path d="M53.25,0 L35.95,-5 L35.95,5 Z" fill="#000"/></g>
<g transform="translate(1816.3 1492.7) rotate(23.89)"><path d="M0,0 a2.9,3.3 0 0 0 5.8,0 a2.9,3.3 0 0 1 5.8,0 a2.9,3.3 0 0 0 5.8,0 a2.9,3.3 0 0 1 5.8,0 a2.9,3.3 0 0 0 5.8,0 a2.9,3.3 0 0 1 5.8,0 L36.31,0" fill="none" stroke="#000" stroke-width="2" stroke-linecap="round" stroke-linejoin="round"/><path d="M52.61,0 L35.31,-5 L35.31,5 Z" fill="#000"/></g>
<circle cx="1408" cy="1481.1" r="17.9" fill="#fff" stroke="#000" stroke-width="1.2"/>
<text x="1393.5" y="1489.45" font-size="31.5" text-anchor="start" fill="#000" stroke="#000" style="stroke-width:0.3px">e</text>
<text x="1410.1" y="1476.7" font-size="17" text-anchor="start" fill="#000" stroke="#000" style="stroke-width:0">–</text>
<circle cx="1537.4" cy="1485.9" r="17.9" fill="#fff" stroke="#000" stroke-width="1.2"/>
<text x="1522.9" y="1494.25" font-size="31.5" text-anchor="start" fill="#000" stroke="#000" style="stroke-width:0.3px">e</text>
<text x="1539.5" y="1481.5" font-size="17" text-anchor="start" fill="#000" stroke="#000" style="stroke-width:0">–</text>
<circle cx="1672" cy="1485.9" r="17.9" fill="#fff" stroke="#000" stroke-width="1.2"/>
<text x="1657.5" y="1494.25" font-size="31.5" text-anchor="start" fill="#000" stroke="#000" style="stroke-width:0.3px">e</text>
<text x="1674.1" y="1481.5" font-size="17" text-anchor="start" fill="#000" stroke="#000" style="stroke-width:0">–</text>
<circle cx="1797.3" cy="1485.9" r="17.9" fill="#fff" stroke="#000" stroke-width="1.2"/>
<text x="1782.8" y="1494.25" font-size="31.5" text-anchor="start" fill="#000" stroke="#000" style="stroke-width:0.3px">e</text>
<text x="1799.4" y="1481.5" font-size="17" text-anchor="start" fill="#000" stroke="#000" style="stroke-width:0">–</text>
<circle cx="1494" cy="1526.1" r="17.9" fill="#fff" stroke="#000" stroke-width="1.2"/>
<text x="1479.5" y="1534.45" font-size="31.5" text-anchor="start" fill="#000" stroke="#000" style="stroke-width:0.3px">e</text>
<text x="1496.1" y="1521.7" font-size="17" text-anchor="start" fill="#000" stroke="#000" style="stroke-width:0">–</text>
<circle cx="1625" cy="1526.1" r="17.9" fill="#fff" stroke="#000" stroke-width="1.2"/>
<text x="1610.5" y="1534.45" font-size="31.5" text-anchor="start" fill="#000" stroke="#000" style="stroke-width:0.3px">e</text>
<text x="1627.1" y="1521.7" font-size="17" text-anchor="start" fill="#000" stroke="#000" style="stroke-width:0">–</text>
<circle cx="1757.1" cy="1525.5" r="17.9" fill="#fff" stroke="#000" stroke-width="1.2"/>
<text x="1742.6" y="1533.85" font-size="31.5" text-anchor="start" fill="#000" stroke="#000" style="stroke-width:0.3px">e</text>
<text x="1759.2" y="1521.1" font-size="17" text-anchor="start" fill="#000" stroke="#000" style="stroke-width:0">–</text>
<circle cx="1881.7" cy="1525.5" r="17.9" fill="#fff" stroke="#000" stroke-width="1.2"/>
<text x="1867.2" y="1533.85" font-size="31.5" text-anchor="start" fill="#000" stroke="#000" style="stroke-width:0.3px">e</text>
<text x="1883.8" y="1521.1" font-size="17" text-anchor="start" fill="#000" stroke="#000" style="stroke-width:0">–</text>
<g transform="translate(1426.3 1857.5) rotate(-29.89)"><path d="M0,0 a3.1,3.3 0 0 0 6.2,0 a3.1,3.3 0 0 1 6.2,0 a3.1,3.3 0 0 0 6.2,0 a3.1,3.3 0 0 1 6.2,0 a3.1,3.3 0 0 0 6.2,0 a3.1,3.3 0 0 1 6.2,0 L39.29,0" fill="none" stroke="#000" stroke-width="2" stroke-linecap="round" stroke-linejoin="round"/><path d="M55.59,0 L38.29,-5 L38.29,5 Z" fill="#000"/></g>
<g transform="translate(1559.5 1741.5) rotate(-0.35)"><path d="M0,0 a3.1,3.8 0 0 0 6.2,0 a3.1,3.8 0 0 1 6.2,0 a3.1,3.8 0 0 0 6.2,0 a3.1,3.8 0 0 1 6.2,0 L32.5,0" fill="none" stroke="#000" stroke-width="2" stroke-linecap="round" stroke-linejoin="round"/><path d="M48.8,0 L31.5,-5 L31.5,5 Z" fill="#000"/></g>
<g transform="translate(1693 1709.6) rotate(-0.24)"><path d="M0,0 a3.1,3.8 0 0 0 6.2,0 a3.1,3.8 0 0 1 6.2,0 a3.1,3.8 0 0 0 6.2,0 a3.1,3.8 0 0 1 6.2,0 L31.5,0" fill="none" stroke="#000" stroke-width="2" stroke-linecap="round" stroke-linejoin="round"/><path d="M47.8,0 L30.5,-5 L30.5,5 Z" fill="#000"/></g>
<g transform="translate(1818.7 1654.2) rotate(-0.25)"><path d="M0,0 a3.1,3.8 0 0 0 6.2,0 a3.1,3.8 0 0 1 6.2,0 a3.1,3.8 0 0 0 6.2,0 a3.1,3.8 0 0 1 6.2,0 L29.3,0" fill="none" stroke="#000" stroke-width="2" stroke-linecap="round" stroke-linejoin="round"/><path d="M45.6,0 L28.3,-5 L28.3,5 Z" fill="#000"/></g>
<circle cx="1406.8" cy="1863.3" r="17.9" fill="#fff" stroke="#000" stroke-width="1.2"/>
<text x="1394.2" y="1874.3" font-size="28" text-anchor="start" fill="#000" stroke="#000" style="stroke-width:0.3px">h</text>
<text x="1410.85" y="1862.4" font-size="18" text-anchor="start" fill="#000" stroke="#000" style="stroke-width:0.2px">+</text>
<circle cx="1494" cy="1813.9" r="17.9" fill="#fff" stroke="#000" stroke-width="1.2"/>
<text x="1481.4" y="1824.9" font-size="28" text-anchor="start" fill="#000" stroke="#000" style="stroke-width:0.3px">h</text>
<text x="1498.05" y="1813" font-size="18" text-anchor="start" fill="#000" stroke="#000" style="stroke-width:0.2px">+</text>
<circle cx="1538.6" cy="1742.8" r="17.9" fill="#fff" stroke="#000" stroke-width="1.2"/>
<text x="1526" y="1753.8" font-size="28" text-anchor="start" fill="#000" stroke="#000" style="stroke-width:0.3px">h</text>
<text x="1542.65" y="1741.9" font-size="18" text-anchor="start" fill="#000" stroke="#000" style="stroke-width:0.2px">+</text>
<circle cx="1627" cy="1741.6" r="17.9" fill="#fff" stroke="#000" stroke-width="1.2"/>
<text x="1614.4" y="1752.6" font-size="28" text-anchor="start" fill="#000" stroke="#000" style="stroke-width:0.3px">h</text>
<text x="1631.05" y="1740.7" font-size="18" text-anchor="start" fill="#000" stroke="#000" style="stroke-width:0.2px">+</text>
<circle cx="1672" cy="1710.7" r="17.9" fill="#fff" stroke="#000" stroke-width="1.2"/>
<text x="1659.4" y="1721.7" font-size="28" text-anchor="start" fill="#000" stroke="#000" style="stroke-width:0.3px">h</text>
<text x="1676.05" y="1709.8" font-size="18" text-anchor="start" fill="#000" stroke="#000" style="stroke-width:0.2px">+</text>
<circle cx="1759.5" cy="1709.5" r="17.9" fill="#fff" stroke="#000" stroke-width="1.2"/>
<text x="1746.9" y="1720.5" font-size="28" text-anchor="start" fill="#000" stroke="#000" style="stroke-width:0.3px">h</text>
<text x="1763.55" y="1708.6" font-size="18" text-anchor="start" fill="#000" stroke="#000" style="stroke-width:0.2px">+</text>
<circle cx="1797.7" cy="1655.2" r="17.9" fill="#fff" stroke="#000" stroke-width="1.2"/>
<text x="1785.1" y="1666.2" font-size="28" text-anchor="start" fill="#000" stroke="#000" style="stroke-width:0.3px">h</text>
<text x="1801.75" y="1654.3" font-size="18" text-anchor="start" fill="#000" stroke="#000" style="stroke-width:0.2px">+</text>
<circle cx="1882.9" cy="1654.4" r="17.9" fill="#fff" stroke="#000" stroke-width="1.2"/>
<text x="1870.3" y="1665.4" font-size="28" text-anchor="start" fill="#000" stroke="#000" style="stroke-width:0.3px">h</text>
<text x="1886.95" y="1653.5" font-size="18" text-anchor="start" fill="#000" stroke="#000" style="stroke-width:0.2px">+</text>
<path d="M1375,1408 L1256.9,1408 L1256.9,1519.3 L1256.9,1519.3 L1258.7,1519.9 L1261.1,1520.9 L1264,1522 L1267.3,1523.1 L1270.7,1524.3 L1274.2,1525.3 L1277.8,1526.2 L1281.7,1527.1 L1285.8,1528 L1290,1528.9 L1294.2,1529.7 L1298.3,1530.5 L1302.3,1531.3 L1306.3,1532 L1310.4,1532.6 L1314.4,1533.2 L1318.4,1533.9 L1322.4,1534.5 L1326.5,1535.2 L1330.7,1535.9 L1335,1536.5 L1339.1,1537.2 L1343,1537.9 L1346.5,1538.6 L1349.7,1539.2 L1352.8,1539.9 L1355.6,1540.5 L1358.1,1541.2 L1360.5,1541.9 L1362.6,1542.6 L1364.4,1543.3 L1366,1544.1 L1367.4,1544.9 L1368.6,1545.7 L1369.7,1546.5 L1370.6,1547.4 L1371.5,1548.3 L1372.1,1549.2 L1372.7,1550.2 L1373.1,1551.2 L1373.5,1552.3 L1373.8,1553.4 L1374.2,1554.7 L1374.4,1556.3 L1374.6,1557.8 L1374.8,1559.3 L1374.9,1560.6 L1375,1561.5Z" fill="#ff8080" stroke="none" stroke-width="1" />
<path d="M1375,1999.9 L1256.9,1999.9 L1256.9,1812.3 L1256.9,1812.3 L1259.2,1811.7 L1262.3,1810.9 L1266.1,1809.9 L1270.1,1808.9 L1274.3,1807.9 L1278.2,1807.1 L1282.1,1806.3 L1286,1805.6 L1290.1,1805 L1294.2,1804.3 L1298.3,1803.7 L1302.3,1803.1 L1306.4,1802.5 L1310.5,1801.9 L1314.6,1801.4 L1318.7,1800.9 L1322.6,1800.4 L1326.4,1799.9 L1330.1,1799.4 L1333.6,1799 L1337,1798.5 L1340.3,1798.1 L1343.4,1797.6 L1346.5,1797 L1349.5,1796.5 L1352.3,1796 L1355,1795.4 L1357.6,1794.7 L1360.2,1793.7 L1362.6,1792.2 L1365,1790.1 L1367.5,1787.3 L1369.8,1784.3 L1371.9,1781.3 L1373.7,1778.7 L1375,1777Z" fill="#c0c0c0" stroke="none" stroke-width="1" />
<path d="M1375,1620.3 L1374.8,1622 L1374.6,1624.5 L1374.3,1627.4 L1374,1630.5 L1373.5,1633.6 L1373,1636.3 L1372.5,1638.8 L1371.9,1641.2 L1371.2,1643.5 L1370.4,1645.8 L1369.6,1648.1 L1368.6,1650.4 L1367.5,1652.8 L1366.3,1655.2 L1364.9,1657.6 L1363.5,1659.9 L1362.1,1662.2 L1360.6,1664.5 L1359,1666.6 L1357.4,1668.6 L1355.8,1670.5 L1354.1,1672.4 L1352.3,1674.4 L1350.5,1676.5 L1348.6,1678.7 L1346.7,1681.1 L1344.6,1683.4 L1342.6,1685.8 L1340.5,1688.2 L1338.5,1690.6 L1336.4,1693 L1334.3,1695.4 L1332.2,1697.9 L1330.1,1700.2 L1328.2,1702.5 L1326.4,1704.6 L1324.8,1706.6 L1323.3,1708.4 L1321.8,1710 L1320.5,1711.6 L1319.4,1713.2 L1318.4,1714.7 L1317.6,1716.1 L1316.9,1717.4 L1316.4,1718.7 L1316,1720 L1315.7,1721.3 L1315.6,1722.7 L1315.6,1724.3 L1315.7,1725.8 L1316,1727.5 L1316.4,1729.2 L1316.9,1730.9 L1317.6,1732.8 L1318.4,1734.7 L1319.4,1736.6 L1320.5,1738.7 L1321.7,1740.7 L1323,1742.8 L1324.4,1744.8 L1325.8,1746.8 L1327.3,1748.7 L1328.9,1750.6 L1330.5,1752.6 L1332.4,1754.6 L1334.5,1756.9 L1336.8,1759.3 L1339.5,1762 L1342.4,1764.8 L1345.2,1767.6 L1348,1770.3 L1350.5,1772.9 L1352.8,1775.4 L1355,1777.6 L1357.1,1779.8 L1359,1782.1 L1360.9,1784.4 L1362.6,1787 L1364.2,1789.8 L1365.7,1792.8 L1367.2,1795.9 L1368.4,1799.1 L1369.6,1802.1 L1370.6,1805.1 L1371.5,1807.9 L1372.1,1810.7 L1372.7,1813.5 L1373.1,1816.2 L1373.5,1818.7 L1373.8,1821.1 L1374.2,1823.5 L1374.4,1825.9 L1374.6,1828.2 L1374.8,1830.2 L1374.9,1831.9 L1375,1833.2Z" fill="#5a0000" stroke="none" stroke-width="1" />
<line x1="1375" y1="1407.8" x2="1375" y2="2000" stroke="#2a0000" stroke-width="1.4" />
<line x1="1257" y1="1408" x2="1375" y2="1408" stroke="#000" stroke-width="1.2" />
<text x="1292.8" y="1434.9" font-size="29.2" text-anchor="start" fill="#000" stroke="#000" >CB</text>
<text x="1300.3" y="1991.9" font-size="29.2" text-anchor="start" fill="#000" stroke="#000" >VB</text>
<g transform="translate(873 1768) rotate(120)"><path d="M0,0 C5.94,-2.05 11.34,-8.2 19.44,-8.2 C24.84,-8.2 27,-4.51 27,0 C27,4.51 24.84,8.2 19.44,8.2 C11.34,8.2 5.94,2.05 0,0Z" fill="url(#lobeg)" stroke="#7a0000" stroke-width="1.5"/></g>
<g transform="translate(873 1768) rotate(-60)"><path d="M0,0 C6.16,-2.1 11.76,-8.4 20.16,-8.4 C25.76,-8.4 28,-4.62 28,0 C28,4.62 25.76,8.4 20.16,8.4 C11.76,8.4 6.16,2.1 0,0Z" fill="#fff" stroke="#7a0000" stroke-width="1.9"/><circle cx="20" cy="-3.6" r="1.8" fill="#000"/><circle cx="20" cy="3.6" r="1.8" fill="#000"/></g>
<g transform="translate(873 1844.9) rotate(240)"><path d="M0,0 C5.94,-2.05 11.34,-8.2 19.44,-8.2 C24.84,-8.2 27,-4.51 27,0 C27,4.51 24.84,8.2 19.44,8.2 C11.34,8.2 5.94,2.05 0,0Z" fill="url(#lobeg)" stroke="#7a0000" stroke-width="1.5"/></g>
<g transform="translate(873 1844.9) rotate(60)"><path d="M0,0 C6.16,-2.1 11.76,-8.4 20.16,-8.4 C25.76,-8.4 28,-4.62 28,0 C28,4.62 25.76,8.4 20.16,8.4 C11.76,8.4 6.16,2.1 0,0Z" fill="#fff" stroke="#7a0000" stroke-width="1.9"/><circle cx="20" cy="-3.6" r="1.8" fill="#000"/><circle cx="20" cy="3.6" r="1.8" fill="#000"/></g>
<g transform="translate(806.3 1806.6) rotate(360)"><path d="M0,0 C5.94,-2.05 11.34,-8.2 19.44,-8.2 C24.84,-8.2 27,-4.51 27,0 C27,4.51 24.84,8.2 19.44,8.2 C11.34,8.2 5.94,2.05 0,0Z" fill="url(#lobeg)" stroke="#7a0000" stroke-width="1.5"/></g>
<g transform="translate(806.3 1806.6) rotate(180)"><path d="M0,0 C6.16,-2.1 11.76,-8.4 20.16,-8.4 C25.76,-8.4 28,-4.62 28,0 C28,4.62 25.76,8.4 20.16,8.4 C11.76,8.4 6.16,2.1 0,0Z" fill="#fff" stroke="#7a0000" stroke-width="1.9"/><circle cx="20" cy="-3.6" r="1.8" fill="#000"/><circle cx="20" cy="3.6" r="1.8" fill="#000"/></g>
<line x1="828.6" y1="1768" x2="861.5" y2="1768" stroke="#000" stroke-width="2.4" stroke-linecap="round"/>
<line x1="878.75" y1="1777.96" x2="895.3" y2="1806.6" stroke="#000" stroke-width="2.4" stroke-linecap="round"/>
<line x1="895.3" y1="1806.6" x2="878.79" y2="1834.96" stroke="#000" stroke-width="2.4" stroke-linecap="round"/>
<line x1="861.5" y1="1844.9" x2="828.6" y2="1844.9" stroke="#000" stroke-width="2.4" stroke-linecap="round"/>
<line x1="828.6" y1="1844.9" x2="812.09" y2="1816.54" stroke="#000" stroke-width="2.4" stroke-linecap="round"/>
<line x1="812.05" y1="1796.64" x2="828.6" y2="1768" stroke="#000" stroke-width="2.4" stroke-linecap="round"/>
<line x1="872.58" y1="1783.26" x2="885.62" y2="1805.84" stroke="#000" stroke-width="2.4" stroke-linecap="round"/>
<line x1="860" y1="1836.9" x2="834.1" y2="1836.9" stroke="#000" stroke-width="2.4" stroke-linecap="round"/>
<line x1="819.73" y1="1799.35" x2="832.78" y2="1776.76" stroke="#000" stroke-width="2.4" stroke-linecap="round"/>
<text x="873" y="1776.3" font-size="23.5" text-anchor="middle" fill="#000" stroke="#000" >N</text>
<text x="873" y="1853.2" font-size="23.5" text-anchor="middle" fill="#000" stroke="#000" >N</text>
<text x="806.3" y="1814.9" font-size="23.5" text-anchor="middle" fill="#000" stroke="#000" >N</text>
<line x1="828.6" y1="1768" x2="807.6" y2="1731.7" stroke="#000" stroke-width="2.4" stroke-linecap="round"/>
<g transform="translate(803.5 1724.5) rotate(-30)"><path d="M-21.35,0 a3.05,3.7 0 0 0 6.1,0 a3.05,3.7 0 0 1 6.1,0 a3.05,3.7 0 0 0 6.1,0 a3.05,3.7 0 0 1 6.1,0 a3.05,3.7 0 0 0 6.1,0 a3.05,3.7 0 0 1 6.1,0 a3.05,3.7 0 0 0 6.1,0" fill="none" stroke="#000" stroke-width="2.4" stroke-linecap="round" stroke-linejoin="round"/></g>
<line x1="895.3" y1="1806.6" x2="937.6" y2="1806.6" stroke="#000" stroke-width="2.4" stroke-linecap="round"/>
<g transform="translate(944.5 1806.4) rotate(90)"><path d="M-21.35,0 a3.05,3.7 0 0 0 6.1,0 a3.05,3.7 0 0 1 6.1,0 a3.05,3.7 0 0 0 6.1,0 a3.05,3.7 0 0 1 6.1,0 a3.05,3.7 0 0 0 6.1,0 a3.05,3.7 0 0 1 6.1,0 a3.05,3.7 0 0 0 6.1,0" fill="none" stroke="#000" stroke-width="2.4" stroke-linecap="round" stroke-linejoin="round"/></g>
<line x1="828.6" y1="1844.9" x2="810.6" y2="1876.6" stroke="#000" stroke-width="2.4" stroke-linecap="round"/>
<g transform="translate(806.5 1884.5) rotate(30)"><path d="M-21.35,0 a3.05,3.7 0 0 0 6.1,0 a3.05,3.7 0 0 1 6.1,0 a3.05,3.7 0 0 0 6.1,0 a3.05,3.7 0 0 1 6.1,0 a3.05,3.7 0 0 0 6.1,0 a3.05,3.7 0 0 1 6.1,0 a3.05,3.7 0 0 0 6.1,0" fill="none" stroke="#000" stroke-width="2.4" stroke-linecap="round" stroke-linejoin="round"/></g>
<g transform="translate(1182.6 1682.4) rotate(60)"><path d="M0,0 C5.94,-2.05 11.34,-8.2 19.44,-8.2 C24.84,-8.2 27,-4.51 27,0 C27,4.51 24.84,8.2 19.44,8.2 C11.34,8.2 5.94,2.05 0,0Z" fill="url(#lobeg)" stroke="#7a0000" stroke-width="1.5"/></g>
<g transform="translate(1182.6 1682.4) rotate(-120)"><path d="M0,0 C6.16,-2.1 11.76,-8.4 20.16,-8.4 C25.76,-8.4 28,-4.62 28,0 C28,4.62 25.76,8.4 20.16,8.4 C11.76,8.4 6.16,2.1 0,0Z" fill="#fff" stroke="#7a0000" stroke-width="1.9"/><circle cx="20" cy="-3.6" r="1.8" fill="#000"/><circle cx="20" cy="3.6" r="1.8" fill="#000"/></g>
<g transform="translate(1092.4 1682.4) rotate(120)"><path d="M0,0 C5.94,-2.05 11.34,-8.2 19.44,-8.2 C24.84,-8.2 27,-4.51 27,0 C27,4.51 24.84,8.2 19.44,8.2 C11.34,8.2 5.94,2.05 0,0Z" fill="url(#lobeg)" stroke="#7a0000" stroke-width="1.5"/></g>
<g transform="translate(1092.4 1682.4) rotate(-60)"><path d="M0,0 C6.16,-2.1 11.76,-8.4 20.16,-8.4 C25.76,-8.4 28,-4.62 28,0 C28,4.62 25.76,8.4 20.16,8.4 C11.76,8.4 6.16,2.1 0,0Z" fill="#fff" stroke="#7a0000" stroke-width="1.9"/><circle cx="20" cy="-3.6" r="1.8" fill="#000"/><circle cx="20" cy="3.6" r="1.8" fill="#000"/></g>
<g transform="translate(1092.4 1760.4) rotate(240)"><path d="M0,0 C5.94,-2.05 11.34,-8.2 19.44,-8.2 C24.84,-8.2 27,-4.51 27,0 C27,4.51 24.84,8.2 19.44,8.2 C11.34,8.2 5.94,2.05 0,0Z" fill="url(#lobeg)" stroke="#7a0000" stroke-width="1.5"/></g>
<g transform="translate(1092.4 1760.4) rotate(60)"><path d="M0,0 C6.16,-2.1 11.76,-8.4 20.16,-8.4 C25.76,-8.4 28,-4.62 28,0 C28,4.62 25.76,8.4 20.16,8.4 C11.76,8.4 6.16,2.1 0,0Z" fill="#fff" stroke="#7a0000" stroke-width="1.9"/><circle cx="20" cy="-3.6" r="1.8" fill="#000"/><circle cx="20" cy="3.6" r="1.8" fill="#000"/></g>
<g transform="translate(1025.7 1721.2) rotate(360)"><path d="M0,0 C5.94,-2.05 11.34,-8.2 19.44,-8.2 C24.84,-8.2 27,-4.51 27,0 C27,4.51 24.84,8.2 19.44,8.2 C11.34,8.2 5.94,2.05 0,0Z" fill="url(#lobeg)" stroke="#7a0000" stroke-width="1.5"/></g>
<g transform="translate(1025.7 1721.2) rotate(180)"><path d="M0,0 C6.16,-2.1 11.76,-8.4 20.16,-8.4 C25.76,-8.4 28,-4.62 28,0 C28,4.62 25.76,8.4 20.16,8.4 C11.76,8.4 6.16,2.1 0,0Z" fill="#fff" stroke="#7a0000" stroke-width="1.9"/><circle cx="20" cy="-3.6" r="1.8" fill="#000"/><circle cx="20" cy="3.6" r="1.8" fill="#000"/></g>
<line x1="1047.9" y1="1682.4" x2="1080.9" y2="1682.4" stroke="#000" stroke-width="2.4" stroke-linecap="round"/>
<line x1="1098.09" y1="1692.39" x2="1114.5" y2="1721.2" stroke="#000" stroke-width="2.4" stroke-linecap="round"/>
<line x1="1114.5" y1="1721.2" x2="1098.05" y2="1750.38" stroke="#000" stroke-width="2.4" stroke-linecap="round"/>
<line x1="1080.9" y1="1760.4" x2="1047.9" y2="1760.4" stroke="#000" stroke-width="2.4" stroke-linecap="round"/>
<line x1="1047.9" y1="1760.4" x2="1031.37" y2="1731.21" stroke="#000" stroke-width="2.4" stroke-linecap="round"/>
<line x1="1031.41" y1="1711.22" x2="1047.9" y2="1682.4" stroke="#000" stroke-width="2.4" stroke-linecap="round"/>
<line x1="1091.88" y1="1697.66" x2="1104.83" y2="1720.38" stroke="#000" stroke-width="2.4" stroke-linecap="round"/>
<line x1="1079.4" y1="1752.4" x2="1053.4" y2="1752.4" stroke="#000" stroke-width="2.4" stroke-linecap="round"/>
<line x1="1039.1" y1="1713.89" x2="1052.11" y2="1691.15" stroke="#000" stroke-width="2.4" stroke-linecap="round"/>
<text x="1092.4" y="1690.7" font-size="23.5" text-anchor="middle" fill="#000" stroke="#000" >N</text>
<text x="1092.4" y="1768.7" font-size="23.5" text-anchor="middle" fill="#000" stroke="#000" >N</text>
<text x="1025.7" y="1729.5" font-size="23.5" text-anchor="middle" fill="#000" stroke="#000" >N</text>
<line x1="1114.5" y1="1721.2" x2="1159.9" y2="1721.2" stroke="#000" stroke-width="2.4" stroke-linecap="round"/>
<line x1="1159.9" y1="1721.2" x2="1176.79" y2="1692.33" stroke="#000" stroke-width="2.4" stroke-linecap="round"/>
<line x1="1194.1" y1="1682.4" x2="1227.4" y2="1682.4" stroke="#000" stroke-width="2.4" stroke-linecap="round"/>
<line x1="1227.4" y1="1682.4" x2="1249.8" y2="1721.2" stroke="#000" stroke-width="2.4" stroke-linecap="round"/>
<line x1="1249.8" y1="1721.2" x2="1227.4" y2="1760.4" stroke="#000" stroke-width="2.4" stroke-linecap="round"/>
<line x1="1227.4" y1="1760.4" x2="1182.6" y2="1760.4" stroke="#000" stroke-width="2.4" stroke-linecap="round"/>
<line x1="1182.6" y1="1760.4" x2="1159.9" y2="1721.2" stroke="#000" stroke-width="2.4" stroke-linecap="round"/>
<line x1="1195.6" y1="1690.4" x2="1221.9" y2="1690.4" stroke="#000" stroke-width="2.4" stroke-linecap="round"/>
<line x1="1240.13" y1="1722.01" x2="1223.18" y2="1751.66" stroke="#000" stroke-width="2.4" stroke-linecap="round"/>
<line x1="1186.77" y1="1751.63" x2="1169.58" y2="1721.95" stroke="#000" stroke-width="2.4" stroke-linecap="round"/>
<text x="1182.6" y="1690.7" font-size="23.5" text-anchor="middle" fill="#000" stroke="#000" >N</text>
<line x1="1047.9" y1="1682.4" x2="1026.6" y2="1645.5" stroke="#000" stroke-width="2.4" stroke-linecap="round"/>
<g transform="translate(1022.3 1638.6) rotate(-30)"><path d="M-21.35,0 a3.05,3.7 0 0 0 6.1,0 a3.05,3.7 0 0 1 6.1,0 a3.05,3.7 0 0 0 6.1,0 a3.05,3.7 0 0 1 6.1,0 a3.05,3.7 0 0 0 6.1,0 a3.05,3.7 0 0 1 6.1,0 a3.05,3.7 0 0 0 6.1,0" fill="none" stroke="#000" stroke-width="2.4" stroke-linecap="round" stroke-linejoin="round"/></g>
<line x1="1047.9" y1="1760.4" x2="1028" y2="1793" stroke="#000" stroke-width="2.4" stroke-linecap="round"/>
<g transform="translate(1024.2 1801) rotate(30)"><path d="M-21.35,0 a3.05,3.7 0 0 0 6.1,0 a3.05,3.7 0 0 1 6.1,0 a3.05,3.7 0 0 0 6.1,0 a3.05,3.7 0 0 1 6.1,0 a3.05,3.7 0 0 0 6.1,0 a3.05,3.7 0 0 1 6.1,0 a3.05,3.7 0 0 0 6.1,0" fill="none" stroke="#000" stroke-width="2.4" stroke-linecap="round" stroke-linejoin="round"/></g>
<line x1="1227.4" y1="1682.4" x2="1249.2" y2="1645" stroke="#000" stroke-width="2.4" stroke-linecap="round"/>
<g transform="translate(1252.8 1639) rotate(30)"><path d="M-21.35,0 a3.05,3.7 0 0 0 6.1,0 a3.05,3.7 0 0 1 6.1,0 a3.05,3.7 0 0 0 6.1,0 a3.05,3.7 0 0 1 6.1,0 a3.05,3.7 0 0 0 6.1,0 a3.05,3.7 0 0 1 6.1,0 a3.05,3.7 0 0 0 6.1,0" fill="none" stroke="#000" stroke-width="2.4" stroke-linecap="round" stroke-linejoin="round"/></g>
</g>
</svg>
</body></html>
